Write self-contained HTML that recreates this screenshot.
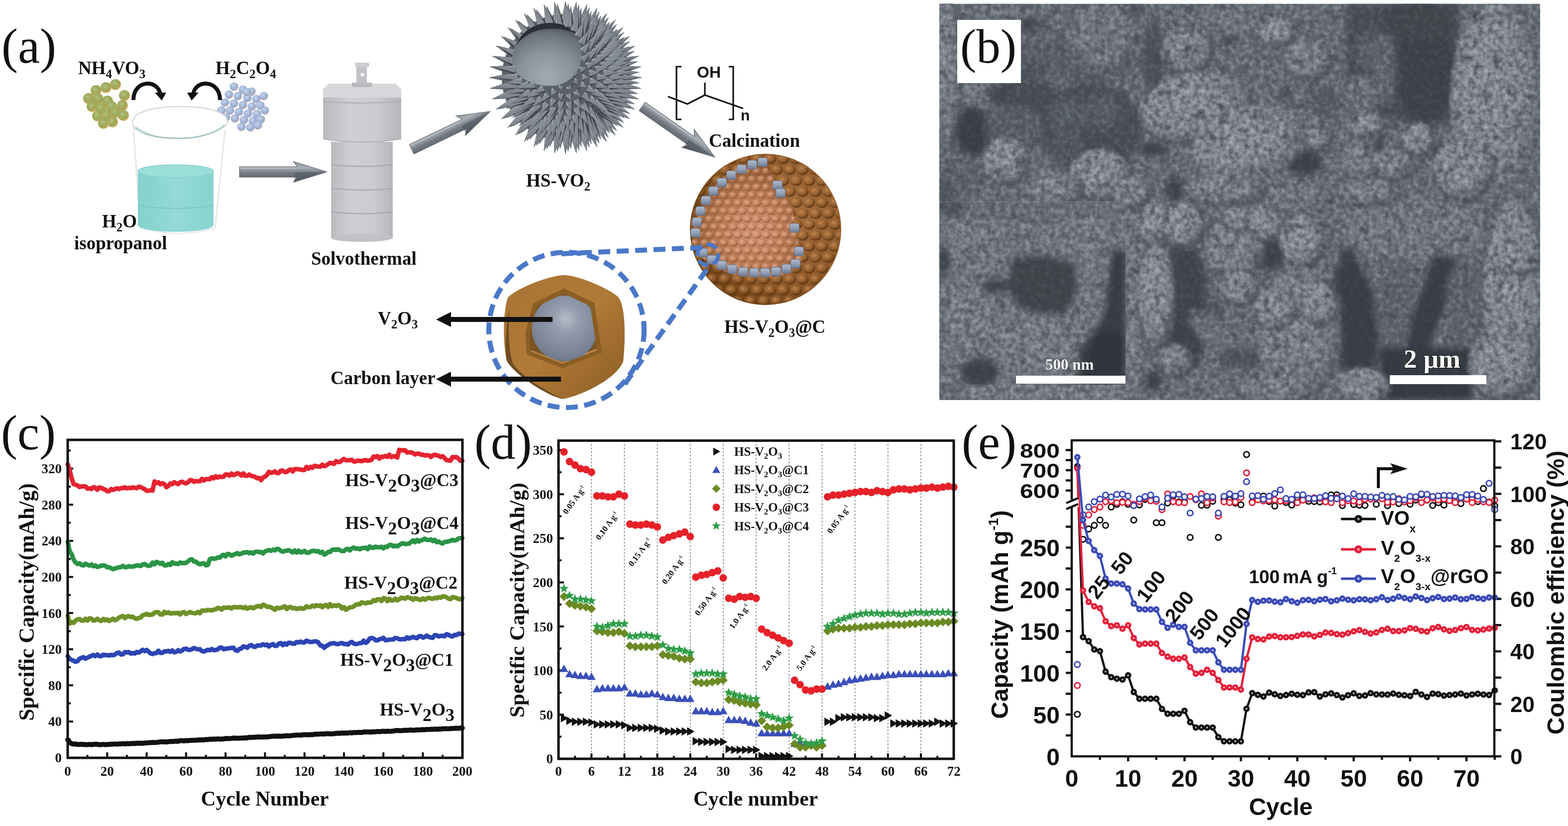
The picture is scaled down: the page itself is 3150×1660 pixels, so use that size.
<!DOCTYPE html>
<html><head><meta charset="utf-8"><title>Figure</title>
<style>html,body{margin:0;padding:0;background:#fff;width:3150px;height:1660px;overflow:hidden}svg{display:block}</style>
</head><body>
<svg width="3150" height="1660" viewBox="0 0 3150 1660">
<rect width="3150" height="1660" fill="#fff"/>
<defs>
<linearGradient id="ga" x1="0" y1="0" x2="0" y2="1">
<stop offset="0" stop-color="#8d949c"/><stop offset="0.3" stop-color="#a9afb6"/><stop offset="0.55" stop-color="#737a82"/><stop offset="1" stop-color="#50575f"/></linearGradient>
<radialGradient id="gball" cx="0.42" cy="0.38" r="0.62">
<stop offset="0" stop-color="#b4c07c"/><stop offset="0.5" stop-color="#9cac60"/><stop offset="0.82" stop-color="#b0a450"/><stop offset="1" stop-color="#d8b868"/></radialGradient>
<radialGradient id="bball" cx="0.4" cy="0.36" r="0.64">
<stop offset="0" stop-color="#c4d4ec"/><stop offset="0.55" stop-color="#a4b8d8"/><stop offset="0.85" stop-color="#98a6c4"/><stop offset="1" stop-color="#d4b4bc"/></radialGradient>
<linearGradient id="liq" x1="0" y1="0" x2="1" y2="0">
<stop offset="0" stop-color="#84d1cd"/><stop offset="0.5" stop-color="#94dad6"/><stop offset="1" stop-color="#88d3cf"/></linearGradient>
<linearGradient id="ac" x1="0" y1="0" x2="1" y2="0">
<stop offset="0" stop-color="#b9bbbf"/><stop offset="0.35" stop-color="#cfd0d3"/><stop offset="0.7" stop-color="#cacbce"/><stop offset="1" stop-color="#b4b6ba"/></linearGradient>
<radialGradient id="urb" cx="0.5" cy="0.5" r="0.5">
<stop offset="0" stop-color="#767c84"/><stop offset="0.8" stop-color="#6a7078"/><stop offset="1" stop-color="#5c626a"/></radialGradient>
<radialGradient id="hol" cx="0.5" cy="0.85" r="0.8">
<stop offset="0" stop-color="#a4aab2"/><stop offset="0.5" stop-color="#8c929a"/><stop offset="0.85" stop-color="#6c727a"/><stop offset="1" stop-color="#50565e"/></radialGradient>
<radialGradient id="brs" cx="0.62" cy="0.4" r="0.65">
<stop offset="0" stop-color="#a87040"/><stop offset="0.7" stop-color="#905a2a"/><stop offset="1" stop-color="#6e4014"/></radialGradient>
<radialGradient id="brin" cx="0.55" cy="0.6" r="0.6">
<stop offset="0" stop-color="#d09474"/><stop offset="0.5" stop-color="#b87a58"/><stop offset="1" stop-color="#86542a"/></radialGradient>
<radialGradient id="bump" cx="0.4" cy="0.35" r="0.65">
<stop offset="0" stop-color="#c88e58" stop-opacity="0.85"/><stop offset="0.55" stop-color="#9a6430" stop-opacity="0.55"/><stop offset="1" stop-color="#4e2c0c" stop-opacity="0.85"/></radialGradient>
<radialGradient id="bump2" cx="0.4" cy="0.35" r="0.65">
<stop offset="0" stop-color="#f0b898" stop-opacity="0.8"/><stop offset="0.6" stop-color="#c88660" stop-opacity="0.4"/><stop offset="1" stop-color="#7a4a22" stop-opacity="0.8"/></radialGradient>
<pattern id="hex" width="26" height="44" patternUnits="userSpaceOnUse">
<ellipse cx="13" cy="11" rx="12.5" ry="10.5" fill="url(#bump)"/>
<ellipse cx="0" cy="33" rx="12.5" ry="10.5" fill="url(#bump)"/><ellipse cx="26" cy="33" rx="12.5" ry="10.5" fill="url(#bump)"/>
</pattern>
<pattern id="hex2" width="19" height="32" patternUnits="userSpaceOnUse">
<ellipse cx="9.5" cy="8" rx="9" ry="7.6" fill="url(#bump2)"/>
<ellipse cx="0" cy="24" rx="9" ry="7.6" fill="url(#bump2)"/><ellipse cx="19" cy="24" rx="9" ry="7.6" fill="url(#bump2)"/>
</pattern>
<radialGradient id="core" cx="0.52" cy="0.36" r="0.7">
<stop offset="0" stop-color="#b4bcc8"/><stop offset="0.3" stop-color="#929cac"/><stop offset="0.75" stop-color="#7a8494"/><stop offset="1" stop-color="#687282"/></radialGradient>
<linearGradient id="shell" x1="0" y1="0" x2="1" y2="1">
<stop offset="0" stop-color="#a87434"/><stop offset="0.5" stop-color="#b07a38"/><stop offset="1" stop-color="#8a5c22"/></linearGradient>
<linearGradient id="cube" x1="0" y1="0" x2="0" y2="1">
<stop offset="0" stop-color="#b0bccc"/><stop offset="0.5" stop-color="#93a0b6"/><stop offset="1" stop-color="#6e7a90"/></linearGradient>
</defs>
<text x="3" y="126" style="font-family:'Liberation Serif','Times New Roman',serif;font-size:99px" fill="#111">(a)</text>
<g style="font-family:'Liberation Serif','Times New Roman',serif;font-weight:bold;font-size:37px" fill="#111">
<text x="157" y="149">NH<tspan dy="8" font-size="25">4</tspan><tspan dy="-8">VO</tspan><tspan dy="8" font-size="25">3</tspan></text>
<text x="433" y="149">H<tspan dy="8" font-size="25">2</tspan><tspan dy="-8">C</tspan><tspan dy="8" font-size="25">2</tspan><tspan dy="-8">O</tspan><tspan dy="8" font-size="25">4</tspan></text>
<text x="205" y="457">H<tspan dy="8" font-size="25">2</tspan><tspan dy="-8">O</tspan></text>
<text x="149" y="501">isopropanol</text>
<text x="625" y="532">Solvothermal</text>
<text x="1057" y="375">HS-VO<tspan dy="8" font-size="25">2</tspan></text>
<text x="1424" y="295">Calcination</text>
<text x="1455" y="669">HS-V<tspan dy="8" font-size="25">2</tspan><tspan dy="-8">O</tspan><tspan dy="8" font-size="25">3</tspan><tspan dy="-8">@C</tspan></text>
<text x="759" y="652">V<tspan dy="8" font-size="25">2</tspan><tspan dy="-8">O</tspan><tspan dy="8" font-size="25">3</tspan></text>
<text x="664" y="772">Carbon layer</text>
</g>
<g fill="url(#gball)"><circle cx="232" cy="170" r="11"/><circle cx="213" cy="176" r="11"/><circle cx="193" cy="182" r="11"/><circle cx="250" cy="192" r="11"/><circle cx="178" cy="198" r="11"/><circle cx="197" cy="199" r="11"/><circle cx="216" cy="203" r="11"/><circle cx="185" cy="214" r="11"/><circle cx="203" cy="218" r="11"/><circle cx="224" cy="214" r="11"/><circle cx="246" cy="212" r="11"/><circle cx="214" cy="232" r="11"/><circle cx="232" cy="226" r="11"/><circle cx="248" cy="232" r="11"/><circle cx="196" cy="233" r="11"/><circle cx="226" cy="245" r="11"/><circle cx="208" cy="248" r="11"/></g>
<g fill="url(#bball)"><circle cx="470" cy="174" r="8.6"/><circle cx="488" cy="180" r="8.6"/><circle cx="505" cy="184" r="8.6"/><circle cx="460" cy="190" r="8.6"/><circle cx="478" cy="193" r="8.6"/><circle cx="497" cy="197" r="8.6"/><circle cx="515" cy="199" r="8.6"/><circle cx="530" cy="193" r="8.6"/><circle cx="452" cy="206" r="8.6"/><circle cx="470" cy="208" r="8.6"/><circle cx="488" cy="211" r="8.6"/><circle cx="506" cy="214" r="8.6"/><circle cx="523" cy="212" r="8.6"/><circle cx="462" cy="222" r="8.6"/><circle cx="480" cy="225" r="8.6"/><circle cx="498" cy="228" r="8.6"/><circle cx="516" cy="229" r="8.6"/><circle cx="532" cy="222" r="8.6"/><circle cx="472" cy="238" r="8.6"/><circle cx="490" cy="241" r="8.6"/><circle cx="508" cy="243" r="8.6"/><circle cx="524" cy="240" r="8.6"/><circle cx="485" cy="255" r="8.6"/><circle cx="503" cy="256" r="8.6"/><circle cx="454" cy="236" r="8.6"/><circle cx="518" cy="252" r="8.6"/><circle cx="496" cy="185" r="8.6"/><circle cx="445" cy="222" r="8.6"/></g>
<path d="M268 201 C268 160 318 158 322 190" fill="none" stroke="#111" stroke-width="8"/>
<polygon points="311,186 334,186 325,202" fill="#111"/>
<path d="M442 201 C442 160 392 158 388 190" fill="none" stroke="#111" stroke-width="8"/>
<polygon points="399,186 376,186 385,202" fill="#111"/>
<path d="M268 258 L282 458 M452 262 L432 458" stroke="#e4e8e8" stroke-width="3" fill="none"/>
<path d="M282 458 Q357 480 432 458" stroke="#e8ecec" stroke-width="3" fill="none"/>
<path d="M277 344 V452 A76 14 0 0 0 429 452 V344 Z" fill="url(#liq)"/>
<ellipse cx="353" cy="344" rx="76" ry="13" fill="#9cdeda" stroke="#86d0cc" stroke-width="1.5"/>
<path d="M278 413 Q353 425 428 413" stroke="#6cbcb8" stroke-width="1.5" fill="none" opacity="0.7"/>
<path d="M266 246 C266 222 320 214 362 214 C410 214 448 222 456 240 C459 246 456 251 450 252 C430 270 395 278 360 278 C300 278 266 266 266 246 Z" fill="#fff" stroke="#d6dcdc" stroke-width="2.5"/>
<path d="M272 256 C300 276 330 278 360 278 C395 278 430 270 452 252" fill="none" stroke="#9cc4c4" stroke-width="2.5"/>
<g transform="translate(481,345.5) rotate(0)"><polygon points="0,-10.5 116,-10.5 108,-21 176,0 108,21 116,10.5 0,10.5" fill="url(#ga)" stroke="#5a6068" stroke-width="1"/><polyline points="2,-7.5 114,-7.5" fill="none" stroke="#c0c6cc" stroke-width="2" opacity="0.8"/><polygon points="110,1 172,0 110,19" fill="#4a5058" opacity="0.45"/></g>
<g>
<rect x="665" y="285" width="124" height="193" fill="url(#ac)"/>
<ellipse cx="727" cy="478" rx="62" ry="8" fill="#c0c2c5"/>
<path d="M665 331 Q727 338 789 331" stroke="#a9abaf" stroke-width="2.5" fill="none"/>
<path d="M665 378.5 Q727 385.5 789 378.5" stroke="#a9abaf" stroke-width="2.5" fill="none"/>
<path d="M665 426 Q727 433 789 426" stroke="#a9abaf" stroke-width="2.5" fill="none"/>
<path d="M649 180 L661 168 H794 L806 180 V279 Q727 292 649 279 Z" fill="url(#ac)"/>
<path d="M649 180 L661 168 H794 L806 180 V196 H649 Z" fill="#d6d7da"/>
<path d="M649 204 Q727 210 806 204" stroke="#b0b2b6" stroke-width="2.5" fill="none"/>
<path d="M649 279 Q727 292 806 279" stroke="#aeb0b4" stroke-width="2" fill="none"/>
<rect x="707" y="166" width="40" height="9" fill="#b8babe"/>
<rect x="716" y="134" width="21" height="33" fill="#c0c2c6"/>
<rect x="713.5" y="126" width="28" height="9" rx="2" fill="#cbcdd0"/>
<circle cx="728" cy="150" r="3.5" fill="#fff"/>
</g>
<g transform="translate(827,300) rotate(-25.7)"><polygon points="0,-10.5 117.3,-10.5 109.3,-22 175.3,0 109.3,22 117.3,10.5 0,10.5" fill="url(#ga)" stroke="#5a6068" stroke-width="1"/><polyline points="2,-7.5 115.3,-7.5" fill="none" stroke="#c0c6cc" stroke-width="2" opacity="0.8"/><polygon points="111.3,1 171.3,0 111.3,20" fill="#4a5058" opacity="0.45"/></g>
<g transform="translate(1290,214) rotate(34.9)"><polygon points="0,-10.5 120.1,-10.5 112.1,-22 178.1,0 112.1,22 120.1,10.5 0,10.5" fill="url(#ga)" stroke="#5a6068" stroke-width="1"/><polyline points="2,-7.5 118.1,-7.5" fill="none" stroke="#c0c6cc" stroke-width="2" opacity="0.8"/><polygon points="114.1,1 174.1,0 114.1,20" fill="#4a5058" opacity="0.45"/></g>
<circle cx="1136" cy="156" r="128" fill="#5a6068"/>
<g stroke="#6a7078" stroke-width="0.6"><polygon points="1244,147 1289,156 1244,165" fill="#848a92"/><polygon points="1244,147 1289,156 1242.7,151.1" fill="#9ea4ac"/><polygon points="1244,165 1289,156 1242.8,161.4" fill="#2a2e34" opacity="0.85"/><polygon points="1244.2,162.5 1287.4,177.8 1241.6,180.3" fill="#848a92"/><polygon points="1244.2,162.5 1287.4,177.8 1242.3,166.3" fill="#9ea4ac"/><polygon points="1241.6,180.3 1287.4,177.8 1240.9,176.5" fill="#2a2e34" opacity="0.85"/><polygon points="1242.2,177.8 1282.8,199.1 1237.1,195.1" fill="#848a92"/><polygon points="1242.2,177.8 1282.8,199.1 1239.7,181.3" fill="#9ea4ac"/><polygon points="1237.1,195.1 1282.8,199.1 1237,191.3" fill="#2a2e34" opacity="0.85"/><polygon points="1238,192.7 1275.2,219.6 1230.5,209.1" fill="#848a92"/><polygon points="1238,192.7 1275.2,219.6 1235.1,195.8" fill="#9ea4ac"/><polygon points="1230.5,209.1 1275.2,219.6 1230.9,205.3" fill="#2a2e34" opacity="0.85"/><polygon points="1231.7,206.8 1264.7,238.7 1222,222" fill="#848a92"/><polygon points="1231.7,206.8 1264.7,238.7 1228.4,209.5" fill="#9ea4ac"/><polygon points="1222,222 1264.7,238.7 1222.9,218.3" fill="#2a2e34" opacity="0.85"/><polygon points="1223.5,219.9 1251.6,256.2 1211.7,233.5" fill="#848a92"/><polygon points="1223.5,219.9 1251.6,256.2 1219.8,222.1" fill="#9ea4ac"/><polygon points="1211.7,233.5 1251.6,256.2 1213.2,230" fill="#2a2e34" opacity="0.85"/><polygon points="1199.9,243.5 1236.2,271.6 1213.5,231.7" fill="#848a92"/><polygon points="1199.9,243.5 1236.2,271.6 1202.1,239.8" fill="#9ea4ac"/><polygon points="1213.5,231.7 1236.2,271.6 1210,233.2" fill="#2a2e34" opacity="0.85"/><polygon points="1186.8,251.7 1218.7,284.7 1202,242" fill="#848a92"/><polygon points="1186.8,251.7 1218.7,284.7 1189.5,248.4" fill="#9ea4ac"/><polygon points="1202,242 1218.7,284.7 1198.3,242.9" fill="#2a2e34" opacity="0.85"/><polygon points="1172.7,258 1199.6,295.2 1189.1,250.5" fill="#848a92"/><polygon points="1172.7,258 1199.6,295.2 1175.8,255.1" fill="#9ea4ac"/><polygon points="1189.1,250.5 1199.6,295.2 1185.3,250.9" fill="#2a2e34" opacity="0.85"/><polygon points="1157.8,262.2 1179.1,302.8 1175.1,257.1" fill="#848a92"/><polygon points="1157.8,262.2 1179.1,302.8 1161.3,259.7" fill="#9ea4ac"/><polygon points="1175.1,257.1 1179.1,302.8 1171.3,257" fill="#2a2e34" opacity="0.85"/><polygon points="1142.5,264.2 1157.8,307.4 1160.3,261.6" fill="#848a92"/><polygon points="1142.5,264.2 1157.8,307.4 1146.3,262.3" fill="#9ea4ac"/><polygon points="1160.3,261.6 1157.8,307.4 1156.5,260.9" fill="#2a2e34" opacity="0.85"/><polygon points="1127,264 1136,309 1145,264" fill="#848a92"/><polygon points="1127,264 1136,309 1131,262.7" fill="#9ea4ac"/><polygon points="1145,264 1136,309 1141.4,262.8" fill="#2a2e34" opacity="0.85"/><polygon points="1111.7,261.6 1114.2,307.4 1129.5,264.2" fill="#848a92"/><polygon points="1111.7,261.6 1114.2,307.4 1115.9,260.9" fill="#9ea4ac"/><polygon points="1129.5,264.2 1114.2,307.4 1126.1,262.5" fill="#2a2e34" opacity="0.85"/><polygon points="1096.9,257.1 1092.9,302.8 1114.2,262.2" fill="#848a92"/><polygon points="1096.9,257.1 1092.9,302.8 1101.2,256.9" fill="#9ea4ac"/><polygon points="1114.2,262.2 1092.9,302.8 1111.1,260" fill="#2a2e34" opacity="0.85"/><polygon points="1082.9,250.5 1072.4,295.2 1099.3,258" fill="#848a92"/><polygon points="1082.9,250.5 1072.4,295.2 1087.2,251" fill="#9ea4ac"/><polygon points="1099.3,258 1072.4,295.2 1096.5,255.4" fill="#2a2e34" opacity="0.85"/><polygon points="1070,242 1053.3,284.7 1085.2,251.7" fill="#848a92"/><polygon points="1070,242 1053.3,284.7 1074.2,243" fill="#9ea4ac"/><polygon points="1085.2,251.7 1053.3,284.7 1082.8,248.8" fill="#2a2e34" opacity="0.85"/><polygon points="1058.5,231.7 1035.8,271.6 1072.1,243.5" fill="#848a92"/><polygon points="1058.5,231.7 1035.8,271.6 1062.4,233.4" fill="#9ea4ac"/><polygon points="1072.1,243.5 1035.8,271.6 1070.1,240.3" fill="#2a2e34" opacity="0.85"/><polygon points="1048.5,219.9 1020.4,256.2 1060.3,233.5" fill="#848a92"/><polygon points="1048.5,219.9 1020.4,256.2 1052.2,222.1" fill="#9ea4ac"/><polygon points="1060.3,233.5 1020.4,256.2 1058.8,230" fill="#2a2e34" opacity="0.85"/><polygon points="1040.3,206.8 1007.3,238.7 1050,222" fill="#848a92"/><polygon points="1040.3,206.8 1007.3,238.7 1043.6,209.5" fill="#9ea4ac"/><polygon points="1050,222 1007.3,238.7 1049.1,218.3" fill="#2a2e34" opacity="0.85"/><polygon points="1034,192.7 996.8,219.6 1041.5,209.1" fill="#848a92"/><polygon points="1034,192.7 996.8,219.6 1036.9,195.8" fill="#9ea4ac"/><polygon points="1041.5,209.1 996.8,219.6 1041.1,205.3" fill="#2a2e34" opacity="0.85"/><polygon points="1029.8,177.8 989.2,199.1 1034.9,195.1" fill="#848a92"/><polygon points="1029.8,177.8 989.2,199.1 1032.3,181.3" fill="#9ea4ac"/><polygon points="1034.9,195.1 989.2,199.1 1035,191.3" fill="#2a2e34" opacity="0.85"/><polygon points="1027.8,162.5 984.6,177.8 1030.4,180.3" fill="#848a92"/><polygon points="1027.8,162.5 984.6,177.8 1029.7,166.3" fill="#9ea4ac"/><polygon points="1030.4,180.3 984.6,177.8 1031.1,176.5" fill="#2a2e34" opacity="0.85"/><polygon points="1028,147 983,156 1028,165" fill="#848a92"/><polygon points="1028,147 983,156 1029.4,151.1" fill="#9ea4ac"/><polygon points="1028,165 983,156 1029.2,161.4" fill="#2a2e34" opacity="0.85"/><polygon points="1030.4,131.7 984.6,134.2 1027.8,149.5" fill="#848a92"/><polygon points="1030.4,131.7 984.6,134.2 1031.1,135.9" fill="#9ea4ac"/><polygon points="1027.8,149.5 984.6,134.2 1029.5,146.1" fill="#2a2e34" opacity="0.85"/><polygon points="1034.9,116.9 989.2,112.9 1029.8,134.2" fill="#848a92"/><polygon points="1034.9,116.9 989.2,112.9 1035.1,121.2" fill="#9ea4ac"/><polygon points="1029.8,134.2 989.2,112.9 1032,131.1" fill="#2a2e34" opacity="0.85"/><polygon points="1041.5,102.9 996.8,92.4 1034,119.3" fill="#848a92"/><polygon points="1041.5,102.9 996.8,92.4 1041,107.2" fill="#9ea4ac"/><polygon points="1034,119.3 996.8,92.4 1036.6,116.5" fill="#2a2e34" opacity="0.85"/><polygon points="1050,90 1007.3,73.3 1040.3,105.2" fill="#848a92"/><polygon points="1050,90 1007.3,73.3 1049,94.2" fill="#9ea4ac"/><polygon points="1040.3,105.2 1007.3,73.3 1043.2,102.8" fill="#2a2e34" opacity="0.85"/><polygon points="1060.3,78.5 1020.4,55.8 1048.5,92.1" fill="#848a92"/><polygon points="1060.3,78.5 1020.4,55.8 1058.6,82.4" fill="#9ea4ac"/><polygon points="1048.5,92.1 1020.4,55.8 1051.7,90.1" fill="#2a2e34" opacity="0.85"/><polygon points="1058.5,80.3 1035.8,40.4 1072.1,68.5" fill="#848a92"/><polygon points="1058.5,80.3 1035.8,40.4 1062.4,78.6" fill="#9ea4ac"/><polygon points="1072.1,68.5 1035.8,40.4 1070.1,71.7" fill="#2a2e34" opacity="0.85"/><polygon points="1070,70 1053.3,27.3 1085.2,60.3" fill="#848a92"/><polygon points="1070,70 1053.3,27.3 1074.2,69" fill="#9ea4ac"/><polygon points="1085.2,60.3 1053.3,27.3 1082.8,63.2" fill="#2a2e34" opacity="0.85"/><polygon points="1082.9,61.5 1072.4,16.8 1099.3,54" fill="#848a92"/><polygon points="1082.9,61.5 1072.4,16.8 1087.2,61" fill="#9ea4ac"/><polygon points="1099.3,54 1072.4,16.8 1096.5,56.6" fill="#2a2e34" opacity="0.85"/><polygon points="1096.9,54.9 1092.9,9.2 1114.2,49.8" fill="#848a92"/><polygon points="1096.9,54.9 1092.9,9.2 1101.2,55.1" fill="#9ea4ac"/><polygon points="1114.2,49.8 1092.9,9.2 1111.1,52" fill="#2a2e34" opacity="0.85"/><polygon points="1111.7,50.4 1114.2,4.6 1129.5,47.8" fill="#848a92"/><polygon points="1111.7,50.4 1114.2,4.6 1115.9,51.1" fill="#9ea4ac"/><polygon points="1129.5,47.8 1114.2,4.6 1126.1,49.5" fill="#2a2e34" opacity="0.85"/><polygon points="1127,48 1136,3 1145,48" fill="#848a92"/><polygon points="1127,48 1136,3 1131,49.4" fill="#9ea4ac"/><polygon points="1145,48 1136,3 1141.4,49.2" fill="#2a2e34" opacity="0.85"/><polygon points="1142.5,47.8 1157.8,4.6 1160.3,50.4" fill="#848a92"/><polygon points="1142.5,47.8 1157.8,4.6 1146.3,49.7" fill="#9ea4ac"/><polygon points="1160.3,50.4 1157.8,4.6 1156.5,51.1" fill="#2a2e34" opacity="0.85"/><polygon points="1157.8,49.8 1179.1,9.2 1175.1,54.9" fill="#848a92"/><polygon points="1157.8,49.8 1179.1,9.2 1161.3,52.3" fill="#9ea4ac"/><polygon points="1175.1,54.9 1179.1,9.2 1171.3,55" fill="#2a2e34" opacity="0.85"/><polygon points="1172.7,54 1199.6,16.8 1189.1,61.5" fill="#848a92"/><polygon points="1172.7,54 1199.6,16.8 1175.8,56.9" fill="#9ea4ac"/><polygon points="1189.1,61.5 1199.6,16.8 1185.3,61.1" fill="#2a2e34" opacity="0.85"/><polygon points="1186.8,60.3 1218.7,27.3 1202,70" fill="#848a92"/><polygon points="1186.8,60.3 1218.7,27.3 1189.5,63.6" fill="#9ea4ac"/><polygon points="1202,70 1218.7,27.3 1198.3,69.1" fill="#2a2e34" opacity="0.85"/><polygon points="1199.9,68.5 1236.2,40.4 1213.5,80.3" fill="#848a92"/><polygon points="1199.9,68.5 1236.2,40.4 1202.1,72.2" fill="#9ea4ac"/><polygon points="1213.5,80.3 1236.2,40.4 1210,78.8" fill="#2a2e34" opacity="0.85"/><polygon points="1211.7,78.5 1251.6,55.8 1223.5,92.1" fill="#848a92"/><polygon points="1211.7,78.5 1251.6,55.8 1213.4,82.4" fill="#9ea4ac"/><polygon points="1223.5,92.1 1251.6,55.8 1220.3,90.1" fill="#2a2e34" opacity="0.85"/><polygon points="1222,90 1264.7,73.3 1231.7,105.2" fill="#848a92"/><polygon points="1222,90 1264.7,73.3 1223,94.2" fill="#9ea4ac"/><polygon points="1231.7,105.2 1264.7,73.3 1228.8,102.8" fill="#2a2e34" opacity="0.85"/><polygon points="1230.5,102.9 1275.2,92.4 1238,119.3" fill="#848a92"/><polygon points="1230.5,102.9 1275.2,92.4 1231,107.2" fill="#9ea4ac"/><polygon points="1238,119.3 1275.2,92.4 1235.4,116.5" fill="#2a2e34" opacity="0.85"/><polygon points="1237.1,116.9 1282.8,112.9 1242.2,134.2" fill="#848a92"/><polygon points="1237.1,116.9 1282.8,112.9 1236.9,121.2" fill="#9ea4ac"/><polygon points="1242.2,134.2 1282.8,112.9 1240,131.1" fill="#2a2e34" opacity="0.85"/><polygon points="1241.6,131.7 1287.4,134.2 1244.2,149.5" fill="#848a92"/><polygon points="1241.6,131.7 1287.4,134.2 1240.9,135.9" fill="#9ea4ac"/><polygon points="1244.2,149.5 1287.4,134.2 1242.5,146.1" fill="#2a2e34" opacity="0.85"/><polygon points="1243,154.8 1283.8,166.8 1241.7,172.8" fill="#848a92"/><polygon points="1243,154.8 1283.8,166.8 1241.4,158.8" fill="#9ea4ac"/><polygon points="1241.7,172.8 1283.8,166.8 1240.8,169.1" fill="#2a2e34" opacity="0.85"/><polygon points="1242.1,170.4 1280.6,188.2 1238.2,188" fill="#848a92"/><polygon points="1242.1,170.4 1280.6,188.2 1239.9,174.1" fill="#9ea4ac"/><polygon points="1238.2,188 1280.6,188.2 1237.8,184.2" fill="#2a2e34" opacity="0.85"/><polygon points="1238.8,185.7 1274.4,208.9 1232.4,202.5" fill="#848a92"/><polygon points="1238.8,185.7 1274.4,208.9 1236.1,189" fill="#9ea4ac"/><polygon points="1232.4,202.5 1274.4,208.9 1232.6,198.7" fill="#2a2e34" opacity="0.85"/><polygon points="1233.4,200.4 1265.2,228.5 1224.6,216.1" fill="#848a92"/><polygon points="1233.4,200.4 1265.2,228.5 1230.3,203.2" fill="#9ea4ac"/><polygon points="1224.6,216.1 1265.2,228.5 1225.3,212.3" fill="#2a2e34" opacity="0.85"/><polygon points="1225.9,214.1 1253.3,246.5 1214.9,228.3" fill="#848a92"/><polygon points="1225.9,214.1 1253.3,246.5 1222.4,216.5" fill="#9ea4ac"/><polygon points="1214.9,228.3 1253.3,246.5 1216.2,224.7" fill="#2a2e34" opacity="0.85"/><polygon points="1203.6,239 1238.8,262.7 1216.5,226.5" fill="#848a92"/><polygon points="1203.6,239 1238.8,262.7 1205.5,235.3" fill="#9ea4ac"/><polygon points="1216.5,226.5 1238.8,262.7 1213.1,228.2" fill="#2a2e34" opacity="0.85"/><polygon points="1190.7,248 1222.2,276.5 1205.4,237.5" fill="#848a92"/><polygon points="1190.7,248 1222.2,276.5 1193.3,244.5" fill="#9ea4ac"/><polygon points="1205.4,237.5 1222.2,276.5 1201.8,238.6" fill="#2a2e34" opacity="0.85"/><polygon points="1176.8,255 1203.7,287.8 1192.8,246.8" fill="#848a92"/><polygon points="1176.8,255 1203.7,287.8 1179.8,251.9" fill="#9ea4ac"/><polygon points="1192.8,246.8 1203.7,287.8 1189,247.3" fill="#2a2e34" opacity="0.85"/><polygon points="1161.9,259.9 1183.8,296.2 1179,254.1" fill="#848a92"/><polygon points="1161.9,259.9 1183.8,296.2 1165.3,257.3" fill="#9ea4ac"/><polygon points="1179,254.1 1183.8,296.2 1175.2,254.1" fill="#2a2e34" opacity="0.85"/><polygon points="1146.5,262.5 1162.9,301.7 1164.2,259.3" fill="#848a92"/><polygon points="1146.5,262.5 1162.9,301.7 1150.3,260.5" fill="#9ea4ac"/><polygon points="1164.2,259.3 1162.9,301.7 1160.5,258.7" fill="#2a2e34" opacity="0.85"/><polygon points="1130.9,262.9 1141.4,304.1 1148.9,262.3" fill="#848a92"/><polygon points="1130.9,262.9 1141.4,304.1 1134.9,261.4" fill="#9ea4ac"/><polygon points="1148.9,262.3 1141.4,304.1 1145.2,261.2" fill="#2a2e34" opacity="0.85"/><polygon points="1115.4,261 1119.8,303.3 1133.3,263" fill="#848a92"/><polygon points="1115.4,261 1119.8,303.3 1119.6,260.1" fill="#9ea4ac"/><polygon points="1133.3,263 1119.8,303.3 1129.8,261.4" fill="#2a2e34" opacity="0.85"/><polygon points="1100.3,256.9 1098.5,299.3 1117.7,261.5" fill="#848a92"/><polygon points="1100.3,256.9 1098.5,299.3 1104.6,256.6" fill="#9ea4ac"/><polygon points="1117.7,261.5 1098.5,299.3 1114.5,259.4" fill="#2a2e34" opacity="0.85"/><polygon points="1086,250.7 1078.1,292.4 1102.6,257.7" fill="#848a92"/><polygon points="1086,250.7 1078.1,292.4 1090.3,251" fill="#9ea4ac"/><polygon points="1102.6,257.7 1078.1,292.4 1099.7,255.2" fill="#2a2e34" opacity="0.85"/><polygon points="1072.7,242.4 1058.8,282.5 1088.1,251.7" fill="#848a92"/><polygon points="1072.7,242.4 1058.8,282.5 1076.9,243.3" fill="#9ea4ac"/><polygon points="1088.1,251.7 1058.8,282.5 1085.7,248.8" fill="#2a2e34" opacity="0.85"/><polygon points="1060.8,232.2 1041.2,269.9 1074.7,243.7" fill="#848a92"/><polygon points="1060.8,232.2 1041.2,269.9 1064.8,233.8" fill="#9ea4ac"/><polygon points="1074.7,243.7 1041.2,269.9 1072.7,240.5" fill="#2a2e34" opacity="0.85"/><polygon points="1050.5,220.5 1025.7,254.9 1062.6,233.9" fill="#848a92"/><polygon points="1050.5,220.5 1025.7,254.9 1054.3,222.6" fill="#9ea4ac"/><polygon points="1062.6,233.9 1025.7,254.9 1061.1,230.4" fill="#2a2e34" opacity="0.85"/><polygon points="1042.1,207.4 1012.4,237.7 1052,222.4" fill="#848a92"/><polygon points="1042.1,207.4 1012.4,237.7 1045.4,210" fill="#9ea4ac"/><polygon points="1052,222.4 1012.4,237.7 1051,218.7" fill="#2a2e34" opacity="0.85"/><polygon points="1035.6,193.1 1001.9,218.9 1043.2,209.4" fill="#848a92"/><polygon points="1035.6,193.1 1001.9,218.9 1038.5,196.2" fill="#9ea4ac"/><polygon points="1043.2,209.4 1001.9,218.9 1042.8,205.7" fill="#2a2e34" opacity="0.85"/><polygon points="1031.3,178.1 994.1,198.7 1036.4,195.4" fill="#848a92"/><polygon points="1031.3,178.1 994.1,198.7 1033.7,181.6" fill="#9ea4ac"/><polygon points="1036.4,195.4 994.1,198.7 1036.6,191.6" fill="#2a2e34" opacity="0.85"/><polygon points="1029.2,162.6 989.4,177.6 1031.8,180.4" fill="#848a92"/><polygon points="1029.2,162.6 989.4,177.6 1031.1,166.4" fill="#9ea4ac"/><polygon points="1031.8,180.4 989.4,177.6 1032.4,176.7" fill="#2a2e34" opacity="0.85"/><polygon points="1029.3,147 987.8,156 1029.3,165" fill="#848a92"/><polygon points="1029.3,147 987.8,156 1030.7,151.1" fill="#9ea4ac"/><polygon points="1029.3,165 987.8,156 1030.5,161.4" fill="#2a2e34" opacity="0.85"/><polygon points="1031.8,131.6 989.4,134.4 1029.2,149.4" fill="#848a92"/><polygon points="1031.8,131.6 989.4,134.4 1032.5,135.8" fill="#9ea4ac"/><polygon points="1029.2,149.4 989.4,134.4 1030.9,146" fill="#2a2e34" opacity="0.85"/><polygon points="1036.4,116.6 994.1,113.3 1031.3,133.9" fill="#848a92"/><polygon points="1036.4,116.6 994.1,113.3 1036.6,120.9" fill="#9ea4ac"/><polygon points="1031.3,133.9 994.1,113.3 1033.4,130.8" fill="#2a2e34" opacity="0.85"/><polygon points="1043.2,102.6 1001.9,93.1 1035.6,118.9" fill="#848a92"/><polygon points="1043.2,102.6 1001.9,93.1 1042.7,106.8" fill="#9ea4ac"/><polygon points="1035.6,118.9 1001.9,93.1 1038.2,116.1" fill="#2a2e34" opacity="0.85"/><polygon points="1052,89.6 1012.4,74.3 1042.1,104.6" fill="#848a92"/><polygon points="1052,89.6 1012.4,74.3 1050.9,93.8" fill="#9ea4ac"/><polygon points="1042.1,104.6 1012.4,74.3 1045.1,102.3" fill="#2a2e34" opacity="0.85"/><polygon points="1062.6,78.1 1025.7,57.1 1050.5,91.5" fill="#848a92"/><polygon points="1062.6,78.1 1025.7,57.1 1060.9,82" fill="#9ea4ac"/><polygon points="1050.5,91.5 1025.7,57.1 1053.8,89.6" fill="#2a2e34" opacity="0.85"/><polygon points="1060.8,79.8 1041.2,42.1 1074.7,68.3" fill="#848a92"/><polygon points="1060.8,79.8 1041.2,42.1 1064.8,78.2" fill="#9ea4ac"/><polygon points="1074.7,68.3 1041.2,42.1 1072.7,71.5" fill="#2a2e34" opacity="0.85"/><polygon points="1072.7,69.6 1058.8,29.5 1088.1,60.3" fill="#848a92"/><polygon points="1072.7,69.6 1058.8,29.5 1076.9,68.7" fill="#9ea4ac"/><polygon points="1088.1,60.3 1058.8,29.5 1085.7,63.2" fill="#2a2e34" opacity="0.85"/><polygon points="1086,61.3 1078.1,19.6 1102.6,54.3" fill="#848a92"/><polygon points="1086,61.3 1078.1,19.6 1090.3,61" fill="#9ea4ac"/><polygon points="1102.6,54.3 1078.1,19.6 1099.7,56.8" fill="#2a2e34" opacity="0.85"/><polygon points="1100.3,55.1 1098.5,12.7 1117.7,50.5" fill="#848a92"/><polygon points="1100.3,55.1 1098.5,12.7 1104.6,55.4" fill="#9ea4ac"/><polygon points="1117.7,50.5 1098.5,12.7 1114.5,52.6" fill="#2a2e34" opacity="0.85"/><polygon points="1115.4,51 1119.8,8.7 1133.3,49" fill="#848a92"/><polygon points="1115.4,51 1119.8,8.7 1119.6,51.9" fill="#9ea4ac"/><polygon points="1133.3,49 1119.8,8.7 1129.8,50.6" fill="#2a2e34" opacity="0.85"/><polygon points="1130.9,49.1 1141.4,7.9 1148.9,49.7" fill="#848a92"/><polygon points="1130.9,49.1 1141.4,7.9 1134.9,50.6" fill="#9ea4ac"/><polygon points="1148.9,49.7 1141.4,7.9 1145.2,50.8" fill="#2a2e34" opacity="0.85"/><polygon points="1146.5,49.5 1162.9,10.3 1164.2,52.7" fill="#848a92"/><polygon points="1146.5,49.5 1162.9,10.3 1150.3,51.5" fill="#9ea4ac"/><polygon points="1164.2,52.7 1162.9,10.3 1160.5,53.3" fill="#2a2e34" opacity="0.85"/><polygon points="1161.9,52.1 1183.8,15.8 1179,57.9" fill="#848a92"/><polygon points="1161.9,52.1 1183.8,15.8 1165.3,54.7" fill="#9ea4ac"/><polygon points="1179,57.9 1183.8,15.8 1175.2,57.9" fill="#2a2e34" opacity="0.85"/><polygon points="1176.8,57 1203.7,24.2 1192.8,65.2" fill="#848a92"/><polygon points="1176.8,57 1203.7,24.2 1179.8,60.1" fill="#9ea4ac"/><polygon points="1192.8,65.2 1203.7,24.2 1189,64.7" fill="#2a2e34" opacity="0.85"/><polygon points="1190.7,64 1222.2,35.5 1205.4,74.5" fill="#848a92"/><polygon points="1190.7,64 1222.2,35.5 1193.3,67.5" fill="#9ea4ac"/><polygon points="1205.4,74.5 1222.2,35.5 1201.8,73.4" fill="#2a2e34" opacity="0.85"/><polygon points="1203.6,73 1238.8,49.3 1216.5,85.5" fill="#848a92"/><polygon points="1203.6,73 1238.8,49.3 1205.5,76.7" fill="#9ea4ac"/><polygon points="1216.5,85.5 1238.8,49.3 1213.1,83.8" fill="#2a2e34" opacity="0.85"/><polygon points="1214.9,83.7 1253.3,65.5 1225.9,97.9" fill="#848a92"/><polygon points="1214.9,83.7 1253.3,65.5 1216.3,87.7" fill="#9ea4ac"/><polygon points="1225.9,97.9 1253.3,65.5 1222.8,95.8" fill="#2a2e34" opacity="0.85"/><polygon points="1224.6,95.9 1265.2,83.5 1233.4,111.6" fill="#848a92"/><polygon points="1224.6,95.9 1265.2,83.5 1225.4,100.1" fill="#9ea4ac"/><polygon points="1233.4,111.6 1265.2,83.5 1230.6,109.1" fill="#2a2e34" opacity="0.85"/><polygon points="1232.4,109.5 1274.4,103.1 1238.8,126.3" fill="#848a92"/><polygon points="1232.4,109.5 1274.4,103.1 1232.6,113.8" fill="#9ea4ac"/><polygon points="1238.8,126.3 1274.4,103.1 1236.4,123.4" fill="#2a2e34" opacity="0.85"/><polygon points="1238.2,124 1280.6,123.8 1242.1,141.6" fill="#848a92"/><polygon points="1238.2,124 1280.6,123.8 1237.7,128.3" fill="#9ea4ac"/><polygon points="1242.1,141.6 1280.6,123.8 1240.1,138.3" fill="#2a2e34" opacity="0.85"/><polygon points="1241.7,139.2 1283.8,145.2 1243,157.2" fill="#848a92"/><polygon points="1241.7,139.2 1283.8,145.2 1240.7,143.4" fill="#9ea4ac"/><polygon points="1243,157.2 1283.8,145.2 1241.6,153.7" fill="#2a2e34" opacity="0.85"/></g>
<path d="M1029 128 C1026 84 1058 46 1104 46 C1142 46 1163 68 1168 96 C1172 128 1158 160 1122 171 C1086 178 1036 162 1029 128 Z" fill="url(#hol)"/>
<path d="M1036 92 C1050 60 1076 47 1104 46 C1128 46 1146 54 1158 68 C1140 60 1120 56 1100 58 C1072 60 1052 72 1036 92 Z" fill="#2c3036"/>
<g stroke="#6a7078" stroke-width="0.6"><polygon points="1238.7,147 1278.7,156 1238.7,165" fill="#848a92"/><polygon points="1238.7,147 1278.7,156 1237.4,151.1" fill="#9ea4ac"/><polygon points="1238.7,165 1278.7,156 1237.5,161.4" fill="#2a2e34" opacity="0.85"/><polygon points="1238.9,162.4 1277.1,177.3 1236.2,180.2" fill="#848a92"/><polygon points="1238.9,162.4 1277.1,177.3 1237,166.2" fill="#9ea4ac"/><polygon points="1236.2,180.2 1277.1,177.3 1235.6,176.5" fill="#2a2e34" opacity="0.85"/><polygon points="1236.8,177.7 1272.3,198 1231.5,194.9" fill="#848a92"/><polygon points="1236.8,177.7 1272.3,198 1234.3,181.1" fill="#9ea4ac"/><polygon points="1231.5,194.9 1272.3,198 1231.4,191.1" fill="#2a2e34" opacity="0.85"/><polygon points="1232.4,192.5 1264.5,217.9 1224.6,208.7" fill="#848a92"/><polygon points="1232.4,192.5 1264.5,217.9 1229.5,195.5" fill="#9ea4ac"/><polygon points="1224.6,208.7 1264.5,217.9 1225.1,204.9" fill="#2a2e34" opacity="0.85"/><polygon points="1225.9,206.4 1253.9,236.4 1215.8,221.3" fill="#848a92"/><polygon points="1225.9,206.4 1253.9,236.4 1222.5,209" fill="#9ea4ac"/><polygon points="1215.8,221.3 1253.9,236.4 1216.8,217.6" fill="#2a2e34" opacity="0.85"/><polygon points="1217.4,219.3 1240.6,253 1205.2,232.5" fill="#848a92"/><polygon points="1217.4,219.3 1240.6,253 1213.7,221.3" fill="#9ea4ac"/><polygon points="1205.2,232.5 1240.6,253 1206.7,229" fill="#2a2e34" opacity="0.85"/><polygon points="1193,241.9 1224.9,267.5 1207.1,230.7" fill="#848a92"/><polygon points="1193,241.9 1224.9,267.5 1195.3,238.3" fill="#9ea4ac"/><polygon points="1207.1,230.7 1224.9,267.5 1203.5,232" fill="#2a2e34" opacity="0.85"/><polygon points="1179.6,249.5 1207.3,279.5 1195.2,240.5" fill="#848a92"/><polygon points="1179.6,249.5 1207.3,279.5 1182.4,246.3" fill="#9ea4ac"/><polygon points="1195.2,240.5 1207.3,279.5 1191.4,241.2" fill="#2a2e34" opacity="0.85"/><polygon points="1165.1,254.9 1188.1,288.8 1181.9,248.3" fill="#848a92"/><polygon points="1165.1,254.9 1188.1,288.8 1168.4,252.2" fill="#9ea4ac"/><polygon points="1181.9,248.3 1188.1,288.8 1178.1,248.5" fill="#2a2e34" opacity="0.85"/><polygon points="1150.1,258.1 1167.7,295.1 1167.6,254.1" fill="#848a92"/><polygon points="1150.1,258.1 1167.7,295.1 1153.7,255.9" fill="#9ea4ac"/><polygon points="1167.6,254.1 1167.7,295.1 1163.9,253.8" fill="#2a2e34" opacity="0.85"/><polygon points="1134.7,259.1 1146.7,298.3 1152.7,257.8" fill="#848a92"/><polygon points="1134.7,259.1 1146.7,298.3 1138.6,257.5" fill="#9ea4ac"/><polygon points="1152.7,257.8 1146.7,298.3 1149,256.8" fill="#2a2e34" opacity="0.85"/><polygon points="1119.3,257.8 1125.3,298.3 1137.3,259.1" fill="#848a92"/><polygon points="1119.3,257.8 1125.3,298.3 1123.5,256.7" fill="#9ea4ac"/><polygon points="1137.3,259.1 1125.3,298.3 1133.8,257.6" fill="#2a2e34" opacity="0.85"/><polygon points="1104.4,254.1 1104.3,295.1 1121.9,258.1" fill="#848a92"/><polygon points="1104.4,254.1 1104.3,295.1 1108.6,253.7" fill="#9ea4ac"/><polygon points="1121.9,258.1 1104.3,295.1 1118.7,256.2" fill="#2a2e34" opacity="0.85"/><polygon points="1090.1,248.3 1083.9,288.8 1106.9,254.9" fill="#848a92"/><polygon points="1090.1,248.3 1083.9,288.8 1094.4,248.5" fill="#9ea4ac"/><polygon points="1106.9,254.9 1083.9,288.8 1103.9,252.5" fill="#2a2e34" opacity="0.85"/><polygon points="1076.8,240.5 1064.7,279.5 1092.4,249.5" fill="#848a92"/><polygon points="1076.8,240.5 1064.7,279.5 1081,241.3" fill="#9ea4ac"/><polygon points="1092.4,249.5 1064.7,279.5 1089.9,246.6" fill="#2a2e34" opacity="0.85"/><polygon points="1064.9,230.7 1047.1,267.5 1079,241.9" fill="#848a92"/><polygon points="1064.9,230.7 1047.1,267.5 1068.9,232.2" fill="#9ea4ac"/><polygon points="1079,241.9 1047.1,267.5 1076.9,238.7" fill="#2a2e34" opacity="0.85"/><polygon points="1054.6,219.3 1031.4,253 1066.8,232.5" fill="#848a92"/><polygon points="1054.6,219.3 1031.4,253 1058.3,221.3" fill="#9ea4ac"/><polygon points="1066.8,232.5 1031.4,253 1065.3,229" fill="#2a2e34" opacity="0.85"/><polygon points="1046.1,206.4 1018.1,236.4 1056.2,221.3" fill="#848a92"/><polygon points="1046.1,206.4 1018.1,236.4 1049.5,209" fill="#9ea4ac"/><polygon points="1056.2,221.3 1018.1,236.4 1055.2,217.6" fill="#2a2e34" opacity="0.85"/><polygon points="1039.6,192.5 1007.5,217.9 1047.4,208.7" fill="#848a92"/><polygon points="1039.6,192.5 1007.5,217.9 1042.5,195.5" fill="#9ea4ac"/><polygon points="1047.4,208.7 1007.5,217.9 1046.9,204.9" fill="#2a2e34" opacity="0.85"/><polygon points="1035.2,177.7 999.7,198 1040.5,194.9" fill="#848a92"/><polygon points="1035.2,177.7 999.7,198 1037.7,181.1" fill="#9ea4ac"/><polygon points="1040.5,194.9 999.7,198 1040.6,191.1" fill="#2a2e34" opacity="0.85"/><polygon points="1033.1,162.4 994.9,177.3 1035.8,180.2" fill="#848a92"/><polygon points="1033.1,162.4 994.9,177.3 1035,166.2" fill="#9ea4ac"/><polygon points="1035.8,180.2 994.9,177.3 1036.4,176.5" fill="#2a2e34" opacity="0.85"/><polygon points="1033.3,147 993.3,156 1033.3,165" fill="#848a92"/><polygon points="1033.3,147 993.3,156 1034.6,151.1" fill="#9ea4ac"/><polygon points="1033.3,165 993.3,156 1034.5,161.4" fill="#2a2e34" opacity="0.85"/><polygon points="1035.8,131.8 994.9,134.7 1033.1,149.6" fill="#848a92"/><polygon points="1035.8,131.8 994.9,134.7 1036.5,136" fill="#9ea4ac"/><polygon points="1033.1,149.6 994.9,134.7 1034.8,146.2" fill="#2a2e34" opacity="0.85"/><polygon points="1134.7,52.9 1146.7,13.7 1152.7,54.2" fill="#848a92"/><polygon points="1134.7,52.9 1146.7,13.7 1138.6,54.5" fill="#9ea4ac"/><polygon points="1152.7,54.2 1146.7,13.7 1149,55.2" fill="#2a2e34" opacity="0.85"/><polygon points="1150.1,53.9 1167.7,16.9 1167.6,57.9" fill="#848a92"/><polygon points="1150.1,53.9 1167.7,16.9 1153.7,56.1" fill="#9ea4ac"/><polygon points="1167.6,57.9 1167.7,16.9 1163.9,58.2" fill="#2a2e34" opacity="0.85"/><polygon points="1165.1,57.1 1188.1,23.2 1181.9,63.7" fill="#848a92"/><polygon points="1165.1,57.1 1188.1,23.2 1168.4,59.8" fill="#9ea4ac"/><polygon points="1181.9,63.7 1188.1,23.2 1178.1,63.5" fill="#2a2e34" opacity="0.85"/><polygon points="1179.6,62.5 1207.3,32.5 1195.2,71.5" fill="#848a92"/><polygon points="1179.6,62.5 1207.3,32.5 1182.4,65.7" fill="#9ea4ac"/><polygon points="1195.2,71.5 1207.3,32.5 1191.4,70.8" fill="#2a2e34" opacity="0.85"/><polygon points="1193,70.1 1224.9,44.5 1207.1,81.3" fill="#848a92"/><polygon points="1193,70.1 1224.9,44.5 1195.3,73.7" fill="#9ea4ac"/><polygon points="1207.1,81.3 1224.9,44.5 1203.5,80" fill="#2a2e34" opacity="0.85"/><polygon points="1205.2,79.5 1240.6,59 1217.4,92.7" fill="#848a92"/><polygon points="1205.2,79.5 1240.6,59 1206.9,83.4" fill="#9ea4ac"/><polygon points="1217.4,92.7 1240.6,59 1214.1,90.9" fill="#2a2e34" opacity="0.85"/><polygon points="1215.8,90.7 1253.9,75.6 1225.9,105.6" fill="#848a92"/><polygon points="1215.8,90.7 1253.9,75.6 1217,94.8" fill="#9ea4ac"/><polygon points="1225.9,105.6 1253.9,75.6 1222.9,103.3" fill="#2a2e34" opacity="0.85"/><polygon points="1224.6,103.3 1264.5,94.1 1232.4,119.5" fill="#848a92"/><polygon points="1224.6,103.3 1264.5,94.1 1225.2,107.6" fill="#9ea4ac"/><polygon points="1232.4,119.5 1264.5,94.1 1229.8,116.8" fill="#2a2e34" opacity="0.85"/><polygon points="1231.5,117.1 1272.3,114 1236.8,134.3" fill="#848a92"/><polygon points="1231.5,117.1 1272.3,114 1231.4,121.4" fill="#9ea4ac"/><polygon points="1236.8,134.3 1272.3,114 1234.6,131.2" fill="#2a2e34" opacity="0.85"/><polygon points="1236.2,131.8 1277.1,134.7 1238.9,149.6" fill="#848a92"/><polygon points="1236.2,131.8 1277.1,134.7 1235.5,136" fill="#9ea4ac"/><polygon points="1238.9,149.6 1277.1,134.7 1237.2,146.2" fill="#2a2e34" opacity="0.85"/><polygon points="1232.6,154.8 1269.2,166.8 1231.2,172.7" fill="#848a92"/><polygon points="1232.6,154.8 1269.2,166.8 1231,158.7" fill="#9ea4ac"/><polygon points="1231.2,172.7 1269.2,166.8 1230.3,169" fill="#2a2e34" opacity="0.85"/><polygon points="1231.6,170.3 1265.8,188 1227.3,187.8" fill="#848a92"/><polygon points="1231.6,170.3 1265.8,188 1229.3,173.9" fill="#9ea4ac"/><polygon points="1227.3,187.8 1265.8,188 1227,184" fill="#2a2e34" opacity="0.85"/><polygon points="1228.1,185.4 1259,208.4 1221,202" fill="#848a92"/><polygon points="1228.1,185.4 1259,208.4 1225.2,188.6" fill="#9ea4ac"/><polygon points="1221,202 1259,208.4 1221.3,198.2" fill="#2a2e34" opacity="0.85"/><polygon points="1222.1,199.8 1249,227.4 1212.5,215" fill="#848a92"/><polygon points="1222.1,199.8 1249,227.4 1218.8,202.5" fill="#9ea4ac"/><polygon points="1212.5,215 1249,227.4 1213.4,211.4" fill="#2a2e34" opacity="0.85"/><polygon points="1214,213.1 1236,244.6 1202.1,226.5" fill="#848a92"/><polygon points="1214,213.1 1236,244.6 1210.3,215.2" fill="#9ea4ac"/><polygon points="1202.1,226.5 1236,244.6 1203.5,223.1" fill="#2a2e34" opacity="0.85"/><polygon points="1189.9,236.2 1220.5,259.5 1203.8,224.8" fill="#848a92"/><polygon points="1189.9,236.2 1220.5,259.5 1192.2,232.6" fill="#9ea4ac"/><polygon points="1203.8,224.8 1220.5,259.5 1200.3,226.2" fill="#2a2e34" opacity="0.85"/><polygon points="1176.3,243.8 1202.8,271.7 1191.9,234.8" fill="#848a92"/><polygon points="1176.3,243.8 1202.8,271.7 1179.2,240.6" fill="#9ea4ac"/><polygon points="1191.9,234.8 1202.8,271.7 1188.2,235.6" fill="#2a2e34" opacity="0.85"/><polygon points="1161.7,249.2 1183.4,281 1178.5,242.8" fill="#848a92"/><polygon points="1161.7,249.2 1183.4,281 1165,246.5" fill="#9ea4ac"/><polygon points="1178.5,242.8 1183.4,281 1174.7,242.9" fill="#2a2e34" opacity="0.85"/><polygon points="1146.4,252.1 1162.7,286.9 1164.1,248.5" fill="#848a92"/><polygon points="1146.4,252.1 1162.7,286.9 1150.1,250" fill="#9ea4ac"/><polygon points="1164.1,248.5 1162.7,286.9 1160.3,248" fill="#2a2e34" opacity="0.85"/><polygon points="1130.9,252.5 1141.4,289.5 1148.9,251.8" fill="#848a92"/><polygon points="1130.9,252.5 1141.4,289.5 1134.9,251" fill="#9ea4ac"/><polygon points="1148.9,251.8 1141.4,289.5 1145.2,250.7" fill="#2a2e34" opacity="0.85"/><polygon points="1115.5,250.4 1119.9,288.7 1133.3,252.6" fill="#848a92"/><polygon points="1115.5,250.4 1119.9,288.7 1119.6,249.6" fill="#9ea4ac"/><polygon points="1133.3,252.6 1119.9,288.7 1129.9,251" fill="#2a2e34" opacity="0.85"/><polygon points="1100.6,245.9 1098.8,284.4 1117.9,250.9" fill="#848a92"/><polygon points="1100.6,245.9 1098.8,284.4 1104.8,245.8" fill="#9ea4ac"/><polygon points="1117.9,250.9 1098.8,284.4 1114.7,248.8" fill="#2a2e34" opacity="0.85"/><polygon points="1086.6,239.1 1078.7,276.7 1102.9,246.8" fill="#848a92"/><polygon points="1086.6,239.1 1078.7,276.7 1090.9,239.6" fill="#9ea4ac"/><polygon points="1102.9,246.8 1078.7,276.7 1100.1,244.2" fill="#2a2e34" opacity="0.85"/><polygon points="1073.9,230.1 1060.1,266 1088.7,240.3" fill="#848a92"/><polygon points="1073.9,230.1 1060.1,266 1078,231.3" fill="#9ea4ac"/><polygon points="1088.7,240.3 1060.1,266 1086.5,237.3" fill="#2a2e34" opacity="0.85"/><polygon points="1062.8,219.2 1043.4,252.4 1075.8,231.6" fill="#848a92"/><polygon points="1062.8,219.2 1043.4,252.4 1066.7,221" fill="#9ea4ac"/><polygon points="1075.8,231.6 1043.4,252.4 1074.1,228.3" fill="#2a2e34" opacity="0.85"/><polygon points="1053.7,206.6 1029.2,236.3 1064.5,221" fill="#848a92"/><polygon points="1053.7,206.6 1029.2,236.3 1057.2,209" fill="#9ea4ac"/><polygon points="1064.5,221 1029.2,236.3 1063.3,217.4" fill="#2a2e34" opacity="0.85"/><polygon points="1046.6,192.8 1017.7,218.1 1055,208.7" fill="#848a92"/><polygon points="1046.6,192.8 1017.7,218.1 1049.7,195.7" fill="#9ea4ac"/><polygon points="1055,208.7 1017.7,218.1 1054.4,204.9" fill="#2a2e34" opacity="0.85"/><polygon points="1041.9,177.9 1009.2,198.3 1047.6,195" fill="#848a92"/><polygon points="1041.9,177.9 1009.2,198.3 1044.4,181.3" fill="#9ea4ac"/><polygon points="1047.6,195 1009.2,198.3 1047.6,191.2" fill="#2a2e34" opacity="0.85"/><polygon points="1039.6,162.6 1004.1,177.4 1042.5,180.3" fill="#848a92"/><polygon points="1039.6,162.6 1004.1,177.4 1041.6,166.3" fill="#9ea4ac"/><polygon points="1042.5,180.3 1004.1,177.4 1043.1,176.6" fill="#2a2e34" opacity="0.85"/><polygon points="1039.8,147 1002.3,156 1039.8,165" fill="#848a92"/><polygon points="1039.8,147 1002.3,156 1041.1,151.1" fill="#9ea4ac"/><polygon points="1039.8,165 1002.3,156 1041,161.4" fill="#2a2e34" opacity="0.85"/><polygon points="1146.4,59.9 1162.7,25.1 1164.1,63.5" fill="#848a92"/><polygon points="1146.4,59.9 1162.7,25.1 1150.1,62" fill="#9ea4ac"/><polygon points="1164.1,63.5 1162.7,25.1 1160.3,64" fill="#2a2e34" opacity="0.85"/><polygon points="1161.7,62.8 1183.4,31 1178.5,69.2" fill="#848a92"/><polygon points="1161.7,62.8 1183.4,31 1165,65.5" fill="#9ea4ac"/><polygon points="1178.5,69.2 1183.4,31 1174.7,69.1" fill="#2a2e34" opacity="0.85"/><polygon points="1176.3,68.2 1202.8,40.3 1191.9,77.2" fill="#848a92"/><polygon points="1176.3,68.2 1202.8,40.3 1179.2,71.4" fill="#9ea4ac"/><polygon points="1191.9,77.2 1202.8,40.3 1188.2,76.4" fill="#2a2e34" opacity="0.85"/><polygon points="1189.9,75.8 1220.5,52.5 1203.8,87.2" fill="#848a92"/><polygon points="1189.9,75.8 1220.5,52.5 1192.2,79.4" fill="#9ea4ac"/><polygon points="1203.8,87.2 1220.5,52.5 1200.3,85.8" fill="#2a2e34" opacity="0.85"/><polygon points="1202.1,85.5 1236,67.4 1214,98.9" fill="#848a92"/><polygon points="1202.1,85.5 1236,67.4 1203.7,89.4" fill="#9ea4ac"/><polygon points="1214,98.9 1236,67.4 1210.7,97" fill="#2a2e34" opacity="0.85"/><polygon points="1212.5,97 1249,84.6 1222.1,112.2" fill="#848a92"/><polygon points="1212.5,97 1249,84.6 1213.5,101.1" fill="#9ea4ac"/><polygon points="1222.1,112.2 1249,84.6 1219.2,109.8" fill="#2a2e34" opacity="0.85"/><polygon points="1221,110 1259,103.6 1228.1,126.6" fill="#848a92"/><polygon points="1221,110 1259,103.6 1221.3,114.3" fill="#9ea4ac"/><polygon points="1228.1,126.6 1259,103.6 1225.5,123.7" fill="#2a2e34" opacity="0.85"/><polygon points="1227.3,124.2 1265.8,124 1231.6,141.7" fill="#848a92"/><polygon points="1227.3,124.2 1265.8,124 1226.9,128.5" fill="#9ea4ac"/><polygon points="1231.6,141.7 1265.8,124 1229.6,138.5" fill="#2a2e34" opacity="0.85"/><polygon points="1231.2,139.3 1269.2,145.2 1232.6,157.2" fill="#848a92"/><polygon points="1231.2,139.3 1269.2,145.2 1230.2,143.4" fill="#9ea4ac"/><polygon points="1232.6,157.2 1269.2,145.2 1231.2,153.7" fill="#2a2e34" opacity="0.85"/><polygon points="1223.4,147 1257.4,156 1223.4,165" fill="#848a92"/><polygon points="1223.4,147 1257.4,156 1222,151.1" fill="#9ea4ac"/><polygon points="1223.4,165 1257.4,156 1222.2,161.4" fill="#2a2e34" opacity="0.85"/><polygon points="1223.6,162.7 1255.4,177.7 1220.4,180.5" fill="#848a92"/><polygon points="1223.6,162.7 1255.4,177.7 1221.5,166.5" fill="#9ea4ac"/><polygon points="1220.4,180.5 1255.4,177.7 1219.8,176.7" fill="#2a2e34" opacity="0.85"/><polygon points="1221,178.3 1249.6,198.6 1214.6,195.1" fill="#848a92"/><polygon points="1221,178.3 1249.6,198.6 1218.3,181.6" fill="#9ea4ac"/><polygon points="1214.6,195.1 1249.6,198.6 1214.8,191.3" fill="#2a2e34" opacity="0.85"/><polygon points="1215.6,193.1 1240.2,218.2 1206.4,208.5" fill="#848a92"/><polygon points="1215.6,193.1 1240.2,218.2 1212.4,195.9" fill="#9ea4ac"/><polygon points="1206.4,208.5 1240.2,218.2 1207.2,204.8" fill="#2a2e34" opacity="0.85"/><polygon points="1207.7,206.7 1227.4,235.8 1195.9,220.3" fill="#848a92"/><polygon points="1207.7,206.7 1227.4,235.8 1204,208.9" fill="#9ea4ac"/><polygon points="1195.9,220.3 1227.4,235.8 1197.3,216.8" fill="#2a2e34" opacity="0.85"/><polygon points="1183.4,229.9 1211.7,250.9 1197.5,218.7" fill="#848a92"/><polygon points="1183.4,229.9 1211.7,250.9 1185.8,226.3" fill="#9ea4ac"/><polygon points="1197.5,218.7 1211.7,250.9 1194,220" fill="#2a2e34" opacity="0.85"/><polygon points="1169.5,237.2 1193.5,262.9 1185.3,228.7" fill="#848a92"/><polygon points="1169.5,237.2 1193.5,262.9 1172.4,234.1" fill="#9ea4ac"/><polygon points="1185.3,228.7 1193.5,262.9 1181.6,229.3" fill="#2a2e34" opacity="0.85"/><polygon points="1154.4,241.9 1173.5,271.4 1171.6,236.3" fill="#848a92"/><polygon points="1154.4,241.9 1173.5,271.4 1157.9,239.3" fill="#9ea4ac"/><polygon points="1171.6,236.3 1173.5,271.4 1167.8,236.3" fill="#2a2e34" opacity="0.85"/><polygon points="1138.8,243.8 1152.3,276.3 1156.6,241.4" fill="#848a92"/><polygon points="1138.8,243.8 1152.3,276.3 1142.6,241.9" fill="#9ea4ac"/><polygon points="1156.6,241.4 1152.3,276.3 1152.9,240.7" fill="#2a2e34" opacity="0.85"/><polygon points="1123.1,242.9 1130.6,277.2 1141.1,243.7" fill="#848a92"/><polygon points="1123.1,242.9 1130.6,277.2 1127.2,241.7" fill="#9ea4ac"/><polygon points="1141.1,243.7 1130.6,277.2 1137.5,242.3" fill="#2a2e34" opacity="0.85"/><polygon points="1107.8,239.2 1109,274.3 1125.3,243.2" fill="#848a92"/><polygon points="1107.8,239.2 1109,274.3 1112,238.8" fill="#9ea4ac"/><polygon points="1125.3,243.2 1109,274.3 1122.1,241.2" fill="#2a2e34" opacity="0.85"/><polygon points="1093.4,232.8 1088.3,267.6 1109.9,239.9" fill="#848a92"/><polygon points="1093.4,232.8 1088.3,267.6 1097.6,233.2" fill="#9ea4ac"/><polygon points="1109.9,239.9 1088.3,267.6 1107.1,237.4" fill="#2a2e34" opacity="0.85"/><polygon points="1080.4,224 1069.1,257.3 1095.4,233.9" fill="#848a92"/><polygon points="1080.4,224 1069.1,257.3 1084.5,225.1" fill="#9ea4ac"/><polygon points="1095.4,233.9 1069.1,257.3 1093,230.9" fill="#2a2e34" opacity="0.85"/><polygon points="1069.1,212.9 1052.1,243.7 1082.1,225.4" fill="#848a92"/><polygon points="1069.1,212.9 1052.1,243.7 1073,214.8" fill="#9ea4ac"/><polygon points="1082.1,225.4 1052.1,243.7 1080.4,222" fill="#2a2e34" opacity="0.85"/><polygon points="1060,200.1 1037.8,227.3 1070.6,214.6" fill="#848a92"/><polygon points="1060,200.1 1037.8,227.3 1063.5,202.6" fill="#9ea4ac"/><polygon points="1070.6,214.6 1037.8,227.3 1069.5,211" fill="#2a2e34" opacity="0.85"/><polygon points="1053.4,185.8 1026.7,208.7 1061.2,202" fill="#848a92"/><polygon points="1053.4,185.8 1026.7,208.7 1056.3,188.9" fill="#9ea4ac"/><polygon points="1061.2,202 1026.7,208.7 1060.7,198.3" fill="#2a2e34" opacity="0.85"/><polygon points="1049.4,170.6 1019,188.3 1054.2,187.9" fill="#848a92"/><polygon points="1049.4,170.6 1019,188.3 1051.8,174.1" fill="#9ea4ac"/><polygon points="1054.2,187.9 1019,188.3 1054.4,184.1" fill="#2a2e34" opacity="0.85"/><polygon points="1048.2,154.9 1015.1,166.9 1049.8,172.8" fill="#848a92"/><polygon points="1048.2,154.9 1015.1,166.9 1049.9,158.8" fill="#9ea4ac"/><polygon points="1049.8,172.8 1015.1,166.9 1050.7,169.1" fill="#2a2e34" opacity="0.85"/><polygon points="1154.4,70.1 1173.5,40.6 1171.6,75.7" fill="#848a92"/><polygon points="1154.4,70.1 1173.5,40.6 1157.9,72.7" fill="#9ea4ac"/><polygon points="1171.6,75.7 1173.5,40.6 1167.8,75.7" fill="#2a2e34" opacity="0.85"/><polygon points="1169.5,74.8 1193.5,49.1 1185.3,83.3" fill="#848a92"/><polygon points="1169.5,74.8 1193.5,49.1 1172.4,77.9" fill="#9ea4ac"/><polygon points="1185.3,83.3 1193.5,49.1 1181.6,82.7" fill="#2a2e34" opacity="0.85"/><polygon points="1183.4,82.1 1211.7,61.1 1197.5,93.3" fill="#848a92"/><polygon points="1183.4,82.1 1211.7,61.1 1185.8,85.7" fill="#9ea4ac"/><polygon points="1197.5,93.3 1211.7,61.1 1194,92" fill="#2a2e34" opacity="0.85"/><polygon points="1195.9,91.7 1227.4,76.2 1207.7,105.3" fill="#848a92"/><polygon points="1195.9,91.7 1227.4,76.2 1197.5,95.7" fill="#9ea4ac"/><polygon points="1207.7,105.3 1227.4,76.2 1204.4,103.4" fill="#2a2e34" opacity="0.85"/><polygon points="1206.4,103.5 1240.2,93.8 1215.6,118.9" fill="#848a92"/><polygon points="1206.4,103.5 1240.2,93.8 1207.3,107.6" fill="#9ea4ac"/><polygon points="1215.6,118.9 1240.2,93.8 1212.7,116.4" fill="#2a2e34" opacity="0.85"/><polygon points="1214.6,116.9 1249.6,113.4 1221,133.7" fill="#848a92"/><polygon points="1214.6,116.9 1249.6,113.4 1214.8,121.1" fill="#9ea4ac"/><polygon points="1221,133.7 1249.6,113.4 1218.6,130.8" fill="#2a2e34" opacity="0.85"/><polygon points="1220.4,131.5 1255.4,134.3 1223.6,149.3" fill="#848a92"/><polygon points="1220.4,131.5 1255.4,134.3 1219.8,135.8" fill="#9ea4ac"/><polygon points="1223.6,149.3 1255.4,134.3 1221.8,145.9" fill="#2a2e34" opacity="0.85"/><polygon points="1212.9,154.8 1241.5,166.7 1211.1,172.7" fill="#848a92"/><polygon points="1212.9,154.8 1241.5,166.7 1211.1,158.7" fill="#9ea4ac"/><polygon points="1211.1,172.7 1241.5,166.7 1210.2,169" fill="#2a2e34" opacity="0.85"/><polygon points="1211.6,170.3 1237.2,187.8 1206.2,187.4" fill="#848a92"/><polygon points="1211.6,170.3 1237.2,187.8 1209.1,173.7" fill="#9ea4ac"/><polygon points="1206.2,187.4 1237.2,187.8 1206.1,183.7" fill="#2a2e34" opacity="0.85"/><polygon points="1207.1,185.2 1228.7,207.5 1198.4,200.9" fill="#848a92"/><polygon points="1207.1,185.2 1228.7,207.5 1204,188.1" fill="#9ea4ac"/><polygon points="1198.4,200.9 1228.7,207.5 1199.1,197.2" fill="#2a2e34" opacity="0.85"/><polygon points="1199.8,198.9 1216.5,225.1 1188.1,212.6" fill="#848a92"/><polygon points="1199.8,198.9 1216.5,225.1 1196.1,201.1" fill="#9ea4ac"/><polygon points="1188.1,212.6 1216.5,225.1 1189.5,209.1" fill="#2a2e34" opacity="0.85"/><polygon points="1175.6,221.9 1200.9,239.9 1189.9,210.9" fill="#848a92"/><polygon points="1175.6,221.9 1200.9,239.9 1178,218.4" fill="#9ea4ac"/><polygon points="1189.9,210.9 1200.9,239.9 1186.3,212.1" fill="#2a2e34" opacity="0.85"/><polygon points="1161.6,228.5 1182.7,251.2 1177.7,220.6" fill="#848a92"/><polygon points="1161.6,228.5 1182.7,251.2 1164.6,225.5" fill="#9ea4ac"/><polygon points="1177.7,220.6 1182.7,251.2 1174,221.1" fill="#2a2e34" opacity="0.85"/><polygon points="1146.4,232.2 1162.6,258.7 1163.9,227.7" fill="#848a92"/><polygon points="1146.4,232.2 1162.6,258.7 1150,229.9" fill="#9ea4ac"/><polygon points="1163.9,227.7 1162.6,258.7 1160.1,227.4" fill="#2a2e34" opacity="0.85"/><polygon points="1130.9,232.7 1141.4,261.9 1148.9,231.8" fill="#848a92"/><polygon points="1130.9,232.7 1141.4,261.9 1134.9,231.2" fill="#9ea4ac"/><polygon points="1148.9,231.8 1141.4,261.9 1145.2,230.8" fill="#2a2e34" opacity="0.85"/><polygon points="1115.5,230.1 1119.9,260.8 1133.3,232.8" fill="#848a92"/><polygon points="1115.5,230.1 1119.9,260.8 1119.7,229.4" fill="#9ea4ac"/><polygon points="1133.3,232.8 1119.9,260.8 1130,231.1" fill="#2a2e34" opacity="0.85"/><polygon points="1101,224.5 1099.2,255.5 1117.9,230.7" fill="#848a92"/><polygon points="1101,224.5 1099.2,255.5 1105.3,224.6" fill="#9ea4ac"/><polygon points="1117.9,230.7 1099.2,255.5 1115,228.4" fill="#2a2e34" opacity="0.85"/><polygon points="1088,216 1079.9,246 1103.2,225.6" fill="#848a92"/><polygon points="1088,216 1079.9,246 1092.1,217" fill="#9ea4ac"/><polygon points="1103.2,225.6 1079.9,246 1100.8,222.6" fill="#2a2e34" opacity="0.85"/><polygon points="1076.9,205.1 1062.9,232.9 1089.9,217.6" fill="#848a92"/><polygon points="1076.9,205.1 1062.9,232.9 1080.7,207" fill="#9ea4ac"/><polygon points="1089.9,217.6 1062.9,232.9 1088.1,214.2" fill="#2a2e34" opacity="0.85"/><polygon points="1068.2,192.2 1048.9,216.6 1078.5,207" fill="#848a92"/><polygon points="1068.2,192.2 1048.9,216.6 1071.6,194.8" fill="#9ea4ac"/><polygon points="1078.5,207 1048.9,216.6 1077.4,203.4" fill="#2a2e34" opacity="0.85"/><polygon points="1062.3,177.8 1038.5,197.8 1069.4,194.4" fill="#848a92"/><polygon points="1062.3,177.8 1038.5,197.8 1065.1,181" fill="#9ea4ac"/><polygon points="1069.4,194.4 1038.5,197.8 1069.1,190.6" fill="#2a2e34" opacity="0.85"/><polygon points="1059.4,162.6 1032.1,177.4 1063,180.2" fill="#848a92"/><polygon points="1059.4,162.6 1032.1,177.4 1061.5,166.3" fill="#9ea4ac"/><polygon points="1063,180.2 1032.1,177.4 1063.5,176.4" fill="#2a2e34" opacity="0.85"/><polygon points="1161.6,83.5 1182.7,60.8 1177.7,91.4" fill="#848a92"/><polygon points="1161.6,83.5 1182.7,60.8 1164.6,86.5" fill="#9ea4ac"/><polygon points="1177.7,91.4 1182.7,60.8 1174,90.9" fill="#2a2e34" opacity="0.85"/><polygon points="1175.6,90.1 1200.9,72.1 1189.9,101.1" fill="#848a92"/><polygon points="1175.6,90.1 1200.9,72.1 1178,93.6" fill="#9ea4ac"/><polygon points="1189.9,101.1 1200.9,72.1 1186.3,99.9" fill="#2a2e34" opacity="0.85"/><polygon points="1188.1,99.4 1216.5,86.9 1199.8,113.1" fill="#848a92"/><polygon points="1188.1,99.4 1216.5,86.9 1189.7,103.4" fill="#9ea4ac"/><polygon points="1199.8,113.1 1216.5,86.9 1196.6,111.1" fill="#2a2e34" opacity="0.85"/><polygon points="1198.4,111.1 1228.7,104.5 1207.1,126.8" fill="#848a92"/><polygon points="1198.4,111.1 1228.7,104.5 1199.2,115.3" fill="#9ea4ac"/><polygon points="1207.1,126.8 1228.7,104.5 1204.3,124.2" fill="#2a2e34" opacity="0.85"/><polygon points="1206.2,124.6 1237.2,124.2 1211.6,141.7" fill="#848a92"/><polygon points="1206.2,124.6 1237.2,124.2 1206.1,128.8" fill="#9ea4ac"/><polygon points="1211.6,141.7 1237.2,124.2 1209.3,138.6" fill="#2a2e34" opacity="0.85"/><polygon points="1211.1,139.3 1241.5,145.3 1212.9,157.2" fill="#848a92"/><polygon points="1211.1,139.3 1241.5,145.3 1210.1,143.5" fill="#9ea4ac"/><polygon points="1212.9,157.2 1241.5,145.3 1211.3,153.8" fill="#2a2e34" opacity="0.85"/><polygon points="1199.5,147 1224.2,156 1199.5,165" fill="#848a92"/><polygon points="1199.5,147 1224.2,156 1198.1,151.1" fill="#9ea4ac"/><polygon points="1199.5,165 1224.2,156 1198.3,161.4" fill="#2a2e34" opacity="0.85"/><polygon points="1199.8,162.5 1221.6,177.1 1195.5,179.9" fill="#848a92"/><polygon points="1199.8,162.5 1221.6,177.1 1197.5,166.1" fill="#9ea4ac"/><polygon points="1195.5,179.9 1221.6,177.1 1195.2,176.1" fill="#2a2e34" opacity="0.85"/><polygon points="1196.4,177.5 1214.1,197 1188,193.5" fill="#848a92"/><polygon points="1196.4,177.5 1214.1,197 1193.3,180.5" fill="#9ea4ac"/><polygon points="1188,193.5 1214.1,197 1188.6,189.7" fill="#2a2e34" opacity="0.85"/><polygon points="1189.5,191.4 1202,214.5 1177.5,204.8" fill="#848a92"/><polygon points="1189.5,191.4 1202,214.5 1185.8,193.5" fill="#9ea4ac"/><polygon points="1177.5,204.8 1202,214.5 1179,201.3" fill="#2a2e34" opacity="0.85"/><polygon points="1164.7,213.4 1186.1,228.6 1179.5,203.1" fill="#848a92"/><polygon points="1164.7,213.4 1186.1,228.6 1167.2,209.9" fill="#9ea4ac"/><polygon points="1179.5,203.1 1186.1,228.6 1175.8,204.2" fill="#2a2e34" opacity="0.85"/><polygon points="1150.1,218.5 1167.3,238.4 1166.9,212.2" fill="#848a92"/><polygon points="1150.1,218.5 1167.3,238.4 1153.4,215.8" fill="#9ea4ac"/><polygon points="1166.9,212.2 1167.3,238.4 1163.1,212.3" fill="#2a2e34" opacity="0.85"/><polygon points="1134.7,220.1 1146.6,243.5 1152.6,217.9" fill="#848a92"/><polygon points="1134.7,220.1 1146.6,243.5 1138.6,218.3" fill="#9ea4ac"/><polygon points="1152.6,217.9 1146.6,243.5 1148.9,217.2" fill="#2a2e34" opacity="0.85"/><polygon points="1119.4,217.9 1125.4,243.5 1137.3,220.1" fill="#848a92"/><polygon points="1119.4,217.9 1125.4,243.5 1123.6,217.1" fill="#9ea4ac"/><polygon points="1137.3,220.1 1125.4,243.5 1133.9,218.5" fill="#2a2e34" opacity="0.85"/><polygon points="1105.1,212.2 1104.7,238.4 1121.9,218.5" fill="#848a92"/><polygon points="1105.1,212.2 1104.7,238.4 1109.3,212.3" fill="#9ea4ac"/><polygon points="1121.9,218.5 1104.7,238.4 1119,216.1" fill="#2a2e34" opacity="0.85"/><polygon points="1092.5,203.1 1085.9,228.6 1107.3,213.4" fill="#848a92"/><polygon points="1092.5,203.1 1085.9,228.6 1096.6,204.3" fill="#9ea4ac"/><polygon points="1107.3,213.4 1085.9,228.6 1105.1,210.3" fill="#2a2e34" opacity="0.85"/><polygon points="1082.5,191.4 1070,214.5 1094.5,204.8" fill="#848a92"/><polygon points="1082.5,191.4 1070,214.5 1086.2,193.5" fill="#9ea4ac"/><polygon points="1094.5,204.8 1070,214.5 1093,201.3" fill="#2a2e34" opacity="0.85"/><polygon points="1075.6,177.5 1057.9,197 1084,193.5" fill="#848a92"/><polygon points="1075.6,177.5 1057.9,197 1078.7,180.5" fill="#9ea4ac"/><polygon points="1084,193.5 1057.9,197 1083.4,189.7" fill="#2a2e34" opacity="0.85"/><polygon points="1072.2,162.5 1050.4,177.1 1076.5,179.9" fill="#848a92"/><polygon points="1072.2,162.5 1050.4,177.1 1074.5,166.1" fill="#9ea4ac"/><polygon points="1076.5,179.9 1050.4,177.1 1076.8,176.1" fill="#2a2e34" opacity="0.85"/><polygon points="1164.7,98.6 1186.1,83.4 1179.5,108.9" fill="#848a92"/><polygon points="1164.7,98.6 1186.1,83.4 1167.2,102.1" fill="#9ea4ac"/><polygon points="1179.5,108.9 1186.1,83.4 1175.8,107.8" fill="#2a2e34" opacity="0.85"/><polygon points="1177.5,107.2 1202,97.5 1189.5,120.6" fill="#848a92"/><polygon points="1177.5,107.2 1202,97.5 1179.2,111.1" fill="#9ea4ac"/><polygon points="1189.5,120.6 1202,97.5 1186.2,118.7" fill="#2a2e34" opacity="0.85"/><polygon points="1188,118.5 1214.1,115 1196.4,134.5" fill="#848a92"/><polygon points="1188,118.5 1214.1,115 1188.7,122.7" fill="#9ea4ac"/><polygon points="1196.4,134.5 1214.1,115 1193.7,131.8" fill="#2a2e34" opacity="0.85"/><polygon points="1195.5,132.1 1221.6,134.9 1199.8,149.5" fill="#848a92"/><polygon points="1195.5,132.1 1221.6,134.9 1195.1,136.3" fill="#9ea4ac"/><polygon points="1199.8,149.5 1221.6,134.9 1197.8,146.3" fill="#2a2e34" opacity="0.85"/><polygon points="1185.8,154.8 1203.3,166.7 1183,172.6" fill="#848a92"/><polygon points="1185.8,154.8 1203.3,166.7 1183.9,158.6" fill="#9ea4ac"/><polygon points="1183,172.6 1203.3,166.7 1182.4,168.8" fill="#2a2e34" opacity="0.85"/><polygon points="1183.8,170.2 1196.7,186.9 1175.6,186.3" fill="#848a92"/><polygon points="1183.8,170.2 1196.7,186.9 1180.7,173.2" fill="#9ea4ac"/><polygon points="1175.6,186.3 1196.7,186.9 1176.2,182.5" fill="#2a2e34" opacity="0.85"/><polygon points="1177,184.3 1184.2,204.2 1164.3,197" fill="#848a92"/><polygon points="1177,184.3 1184.2,204.2 1173.2,186.2" fill="#9ea4ac"/><polygon points="1164.3,197 1184.2,204.2 1166,193.6" fill="#2a2e34" opacity="0.85"/><polygon points="1150.2,203.8 1166.9,216.7 1166.3,195.6" fill="#848a92"/><polygon points="1150.2,203.8 1166.9,216.7 1153.2,200.7" fill="#9ea4ac"/><polygon points="1166.3,195.6 1166.9,216.7 1162.5,196.2" fill="#2a2e34" opacity="0.85"/><polygon points="1134.8,205.8 1146.7,223.3 1152.6,203" fill="#848a92"/><polygon points="1134.8,205.8 1146.7,223.3 1138.6,203.9" fill="#9ea4ac"/><polygon points="1152.6,203 1146.7,223.3 1148.8,202.4" fill="#2a2e34" opacity="0.85"/><polygon points="1119.4,203 1125.3,223.3 1137.2,205.8" fill="#848a92"/><polygon points="1119.4,203 1125.3,223.3 1123.7,202.3" fill="#9ea4ac"/><polygon points="1137.2,205.8 1125.3,223.3 1133.9,204.1" fill="#2a2e34" opacity="0.85"/><polygon points="1105.7,195.6 1105.1,216.7 1121.8,203.8" fill="#848a92"/><polygon points="1105.7,195.6 1105.1,216.7 1109.9,196.2" fill="#9ea4ac"/><polygon points="1121.8,203.8 1105.1,216.7 1119.1,201.1" fill="#2a2e34" opacity="0.85"/><polygon points="1095,184.3 1087.8,204.2 1107.7,197" fill="#848a92"/><polygon points="1095,184.3 1087.8,204.2 1098.8,186.2" fill="#9ea4ac"/><polygon points="1107.7,197 1087.8,204.2 1106,193.6" fill="#2a2e34" opacity="0.85"/><polygon points="1088.2,170.2 1075.3,186.9 1096.4,186.3" fill="#848a92"/><polygon points="1088.2,170.2 1075.3,186.9 1091.3,173.2" fill="#9ea4ac"/><polygon points="1096.4,186.3 1075.3,186.9 1095.8,182.5" fill="#2a2e34" opacity="0.85"/><polygon points="1164.3,115 1184.2,107.8 1177,127.7" fill="#848a92"/><polygon points="1164.3,115 1184.2,107.8 1166.2,118.8" fill="#9ea4ac"/><polygon points="1177,127.7 1184.2,107.8 1173.6,126" fill="#2a2e34" opacity="0.85"/><polygon points="1175.6,125.7 1196.7,125.1 1183.8,141.8" fill="#848a92"/><polygon points="1175.6,125.7 1196.7,125.1 1176.2,129.9" fill="#9ea4ac"/><polygon points="1183.8,141.8 1196.7,125.1 1181.1,139.1" fill="#2a2e34" opacity="0.85"/><polygon points="1183,139.4 1203.3,145.3 1185.8,157.2" fill="#848a92"/><polygon points="1183,139.4 1203.3,145.3 1182.3,143.7" fill="#9ea4ac"/><polygon points="1185.8,157.2 1203.3,145.3 1184.1,153.9" fill="#2a2e34" opacity="0.85"/><polygon points="1169.4,147 1182.4,156 1169.4,165" fill="#848a92"/><polygon points="1169.4,147 1182.4,156 1168,151.1" fill="#9ea4ac"/><polygon points="1169.4,165 1182.4,156 1168.2,161.4" fill="#2a2e34" opacity="0.85"/><polygon points="1170,162.4 1177.8,176.1 1162.2,178.6" fill="#848a92"/><polygon points="1170,162.4 1177.8,176.1 1167,165.4" fill="#9ea4ac"/><polygon points="1162.2,178.6 1177.8,176.1 1162.6,174.8" fill="#2a2e34" opacity="0.85"/><polygon points="1149.8,187.7 1164.9,192.2 1163.8,176.5" fill="#848a92"/><polygon points="1149.8,187.7 1164.9,192.2 1152.1,184.1" fill="#9ea4ac"/><polygon points="1163.8,176.5 1164.9,192.2 1160.3,177.8" fill="#2a2e34" opacity="0.85"/><polygon points="1134.7,190.5 1146.3,201.2 1152.2,186.5" fill="#848a92"/><polygon points="1134.7,190.5 1146.3,201.2 1138.3,188.3" fill="#9ea4ac"/><polygon points="1152.2,186.5 1146.3,201.2 1148.4,186.2" fill="#2a2e34" opacity="0.85"/><polygon points="1119.8,186.5 1125.7,201.2 1137.3,190.5" fill="#848a92"/><polygon points="1119.8,186.5 1125.7,201.2 1124,186.1" fill="#9ea4ac"/><polygon points="1137.3,190.5 1125.7,201.2 1134.1,188.6" fill="#2a2e34" opacity="0.85"/><polygon points="1108.2,176.5 1107.1,192.2 1122.2,187.7" fill="#848a92"/><polygon points="1108.2,176.5 1107.1,192.2 1112.2,178" fill="#9ea4ac"/><polygon points="1122.2,187.7 1107.1,192.2 1120.2,184.5" fill="#2a2e34" opacity="0.85"/><polygon points="1162.2,133.4 1177.8,135.9 1170,149.6" fill="#848a92"/><polygon points="1162.2,133.4 1177.8,135.9 1162.7,137.6" fill="#9ea4ac"/><polygon points="1170,149.6 1177.8,135.9 1167.3,146.9" fill="#2a2e34" opacity="0.85"/><polygon points="1156.8,154.9 1160.1,166 1149.9,171.5" fill="#848a92"/><polygon points="1156.8,154.9 1160.1,166 1154,158.1" fill="#9ea4ac"/><polygon points="1149.9,171.5 1160.1,166 1150.2,167.7" fill="#2a2e34" opacity="0.85"/><polygon points="1134.9,176.8 1146,180.1 1151.5,169.9" fill="#848a92"/><polygon points="1134.9,176.8 1146,180.1 1138.1,174" fill="#9ea4ac"/><polygon points="1151.5,169.9 1146,180.1 1147.7,170.2" fill="#2a2e34" opacity="0.85"/><polygon points="1120.5,169.9 1126,180.1 1137.1,176.8" fill="#848a92"/><polygon points="1120.5,169.9 1126,180.1 1124.8,170.2" fill="#9ea4ac"/><polygon points="1137.1,176.8 1126,180.1 1134.3,174.3" fill="#2a2e34" opacity="0.85"/><polygon points="1149.9,140.5 1160.1,146 1156.8,157.1" fill="#848a92"/><polygon points="1149.9,140.5 1160.1,146 1150.2,144.8" fill="#9ea4ac"/><polygon points="1156.8,157.1 1160.1,146 1154.3,154.3" fill="#2a2e34" opacity="0.85"/></g>
<g stroke="#111" stroke-width="3.2" fill="none"><path d="M1369 134 H1359 V240 H1369"/><path d="M1464 134 H1473 V240 H1464"/><path d="M1342 194 L1381 209 L1416 191 L1493 218"/><path d="M1416 191 V166"/></g>
<text x="1400" y="156" style="font-family:'Liberation Sans',Arial,sans-serif;font-weight:bold;font-size:32px" fill="#111">OH</text>
<text x="1488" y="242" style="font-family:'Liberation Sans',Arial,sans-serif;font-weight:bold;font-size:30px" fill="#111">n</text>
<circle cx="1538" cy="461" r="152" fill="url(#brs)"/>
<circle cx="1538" cy="461" r="150" fill="url(#hex)"/>
<path d="M1390 488 C1392 420 1440 340 1522 320 C1540 330 1552 350 1560 372 C1575 392 1592 410 1596 440 C1598 470 1606 500 1612 528 C1600 546 1578 556 1545 558 C1500 562 1460 552 1430 532 C1410 520 1396 505 1390 488 Z" fill="url(#brin)"/>
<path d="M1390 488 C1392 420 1440 340 1522 320 C1540 330 1552 350 1560 372 C1575 392 1592 410 1596 440 C1598 470 1606 500 1612 528 C1600 546 1578 556 1545 558 C1500 562 1460 552 1430 532 C1410 520 1396 505 1390 488 Z" fill="url(#hex2)"/>
<g fill="url(#cube)" stroke="#5e6a7e" stroke-width="1"><rect x="1387.5" y="459" width="19" height="18" rx="4"/><rect x="1390.5" y="437" width="19" height="18" rx="4"/><rect x="1397.5" y="415" width="19" height="18" rx="4"/><rect x="1408.5" y="394" width="19" height="18" rx="4"/><rect x="1423.5" y="375" width="19" height="18" rx="4"/><rect x="1440.5" y="358" width="19" height="18" rx="4"/><rect x="1459.5" y="343" width="19" height="18" rx="4"/><rect x="1480.5" y="331" width="19" height="18" rx="4"/><rect x="1501.5" y="322" width="19" height="18" rx="4"/><rect x="1522.5" y="317" width="19" height="18" rx="4"/><rect x="1402.5" y="499" width="19" height="18" rx="4"/><rect x="1420.5" y="513" width="19" height="18" rx="4"/><rect x="1440.5" y="524" width="19" height="18" rx="4"/><rect x="1461.5" y="532" width="19" height="18" rx="4"/><rect x="1483.5" y="537" width="19" height="18" rx="4"/><rect x="1505.5" y="539" width="19" height="18" rx="4"/><rect x="1527.5" y="539" width="19" height="18" rx="4"/><rect x="1549.5" y="537" width="19" height="18" rx="4"/><rect x="1570.5" y="531" width="19" height="18" rx="4"/><rect x="1588.5" y="521" width="19" height="18" rx="4"/><rect x="1552.5" y="363" width="19" height="18" rx="4"/><rect x="1558.5" y="379" width="19" height="18" rx="4"/><rect x="1586.5" y="449" width="19" height="18" rx="4"/><rect x="1595.5" y="496" width="19" height="18" rx="4"/></g>
<g fill="none" stroke="#4a78c8" stroke-width="10" stroke-dasharray="24 13"><circle cx="1138" cy="663" r="156"/><path d="M1128 510 L1418 497"/><path d="M1255 772 L1424 536"/></g>
<circle cx="1422" cy="512" r="21" fill="none" stroke="#4a78c8" stroke-width="8" stroke-dasharray="22 10"/>
<path d="M1134 553 C1160 553 1225 580 1243 598 C1258 620 1256 690 1252 726 C1240 760 1170 795 1130 802 C1100 795 1035 755 1018 725 C1010 690 1010 630 1020 598 C1040 578 1105 553 1134 553 Z" fill="url(#shell)"/>
<path d="M1018 725 C1035 755 1100 795 1130 802 C1105 790 1050 760 1030 730 C1022 700 1020 660 1024 620 C1016 650 1014 700 1018 725 Z" fill="#3a2a10" opacity="0.55"/>
<path d="M1133 580 L1194 609 L1209 709 L1130 740 L1058 712 L1056 668 L1071 610 Z" fill="#7a5420"/>
<path d="M1058 712 L1130 740 L1209 709 L1200 700 L1130 728 L1068 704 Z" fill="#c08848"/>
<circle cx="1134" cy="660" r="66" fill="url(#core)"/>
<path d="M1133 580 L1194 609 L1209 709 L1130 740 L1058 712 L1056 668 L1071 610 Z M1133 590 L1186 615 L1199 704 L1130 731 L1066 706 L1065 668 L1078 616 Z" fill="#8a5e24" fill-rule="evenodd"/>
<path d="M1110 642 H900 M1127 762 H900" stroke="#111" stroke-width="10"/>
<polygon points="876,642 906,627 906,657" fill="#111"/><polygon points="876,762 906,747 906,777" fill="#111"/>
<defs>
<clipPath id="semclip"><rect x="1887" y="7.5" width="1207" height="796.5"/></clipPath>
<clipPath id="insclip"><rect x="1887" y="404" width="375" height="369"/></clipPath>
<filter id="bl8" x="-10%" y="-10%" width="120%" height="120%"><feGaussianBlur stdDeviation="7"/></filter>
<filter id="bl3" x="-10%" y="-10%" width="120%" height="120%"><feGaussianBlur stdDeviation="3"/></filter>
<radialGradient id="pgL" cx="0.42" cy="0.4" r="0.62"><stop offset="0" stop-color="#8a8f99"/><stop offset="0.65" stop-color="#7e838d"/><stop offset="0.9" stop-color="#6a6f78"/><stop offset="1" stop-color="#5a5f68" stop-opacity="0.6"/></radialGradient>
<radialGradient id="pgM" cx="0.42" cy="0.4" r="0.62"><stop offset="0" stop-color="#80858f"/><stop offset="0.65" stop-color="#767b85"/><stop offset="0.9" stop-color="#666b74"/><stop offset="1" stop-color="#5a5f68" stop-opacity="0.5"/></radialGradient>
<filter id="nzd" x="0" y="0" width="100%" height="100%" color-interpolation-filters="sRGB"><feTurbulence type="fractalNoise" baseFrequency="0.1" numOctaves="2" seed="3"/>
<feColorMatrix type="matrix" values="0 0 0 0 0.12  0 0 0 0 0.13  0 0 0 0 0.16  -1.25 0 0 0 0.625"/></filter>
<filter id="nzl" x="0" y="0" width="100%" height="100%" color-interpolation-filters="sRGB"><feTurbulence type="fractalNoise" baseFrequency="0.1" numOctaves="2" seed="3"/>
<feColorMatrix type="matrix" values="0 0 0 0 0.82  0 0 0 0 0.84  0 0 0 0 0.88  1.25 0 0 0 -0.625"/></filter>
<filter id="nzs" x="0" y="0" width="100%" height="100%" color-interpolation-filters="sRGB"><feTurbulence type="fractalNoise" baseFrequency="0.045" numOctaves="2" seed="21"/>
<feColorMatrix type="matrix" values="0 0 0 0 0.2  0 0 0 0 0.21  0 0 0 0 0.25  -2.6 0 0 0 1.3"/></filter>
<filter id="mcon" x="0" y="0" width="100%" height="100%" color-interpolation-filters="sRGB"><feComponentTransfer><feFuncR type="linear" slope="3" intercept="-0.6"/><feFuncG type="linear" slope="3" intercept="-0.6"/><feFuncB type="linear" slope="3" intercept="-0.6"/></feComponentTransfer></filter>
</defs>
<g clip-path="url(#semclip)">
<rect x="1887" y="7.5" width="1207" height="796.5" fill="#676c75"/>
<g id="semtone"><g filter="url(#bl8)"><ellipse cx="1935" cy="190" rx="50" ry="28" fill="#737882"/><ellipse cx="2000" cy="22" rx="65" ry="16" fill="#70757f"/><ellipse cx="2072" cy="51" rx="22" ry="15" fill="#3f434c"/><ellipse cx="2100" cy="110" rx="50" ry="60" fill="#5e636c"/><ellipse cx="2185" cy="118" rx="105" ry="50" fill="#5a5f68"/><ellipse cx="2050" cy="140" rx="55" ry="25" fill="#50555e"/><ellipse cx="2208" cy="72" rx="62" ry="62" fill="#717680"/><ellipse cx="2280" cy="20" rx="10" ry="14" fill="#3f434c"/><ellipse cx="2050" cy="190" rx="70" ry="28" fill="#454950"/><ellipse cx="1953" cy="265" rx="34" ry="55" fill="#3b3f47"/><ellipse cx="2190" cy="258" rx="105" ry="92" fill="#4a4e57"/><ellipse cx="2080" cy="215" rx="60" ry="50" fill="#4a4e57"/><ellipse cx="2040" cy="257" rx="60" ry="44" fill="#585d66"/><ellipse cx="2144" cy="233" rx="36" ry="36" fill="#565b64"/><ellipse cx="2212" cy="223" rx="36" ry="36" fill="#565b64"/><ellipse cx="2145" cy="295" rx="33" ry="30" fill="#535861"/><ellipse cx="2150" cy="257" rx="7" ry="5" fill="#363940"/><ellipse cx="1930" cy="355" rx="45" ry="50" fill="#5f646d"/><ellipse cx="1900" cy="385" rx="20" ry="25" fill="#50555e"/><ellipse cx="2318" cy="115" rx="22" ry="70" fill="#4b5059"/><ellipse cx="2470" cy="40" rx="60" ry="30" fill="#6e737d"/><ellipse cx="2471" cy="80" rx="18" ry="9" fill="#3f434c"/><ellipse cx="2489" cy="220" rx="18" ry="30" fill="#3f434c" transform="rotate(-30 2489 220)"/><ellipse cx="2583" cy="188" rx="12" ry="8" fill="#3f434c"/><ellipse cx="2660" cy="205" rx="32" ry="38" fill="#575c65"/><ellipse cx="2620" cy="327" rx="37" ry="27" fill="#3f434c"/><ellipse cx="2360" cy="380" rx="17" ry="27" fill="#3f434c"/><ellipse cx="2318" cy="300" rx="30" ry="14" fill="#3f434c"/><ellipse cx="2600" cy="385" rx="60" ry="25" fill="#72777f"/><polygon points="2704,7 2935,7 2930,120 2928,200 2920,254 2850,252 2790,240 2760,225 2704,220" fill="#4a4e57"/><ellipse cx="2862" cy="140" rx="62" ry="105" fill="#3f424a"/><ellipse cx="2850" cy="40" rx="70" ry="40" fill="#42464e"/><ellipse cx="2755" cy="103" rx="34" ry="37" fill="#5a5f68"/><ellipse cx="2782" cy="142" rx="22" ry="70" fill="#61666f"/><ellipse cx="2736" cy="188" rx="32" ry="37" fill="#6d727c"/><ellipse cx="2982" cy="66" rx="10" ry="12" fill="#3f434c"/><ellipse cx="2986" cy="198" rx="14" ry="20" fill="#50555e"/><ellipse cx="2898" cy="360" rx="15" ry="15" fill="#3f434c"/><ellipse cx="2770" cy="290" rx="8" ry="25" fill="#3f434c"/><ellipse cx="2880" cy="295" rx="8" ry="20" fill="#3f434c"/><ellipse cx="2327" cy="467" rx="20" ry="25" fill="#3f434c"/><polygon points="2350,492 2405,498 2425,560 2420,690 2405,740 2365,745 2350,640" fill="#41454d"/><ellipse cx="2440" cy="640" rx="20" ry="40" fill="#52575f"/><polygon points="2395,620 2470,650 2545,720 2520,745 2440,700 2390,665" fill="#6a6f78"/><ellipse cx="2489" cy="494" rx="13" ry="11" fill="#3f434c"/><ellipse cx="2551" cy="511" rx="32" ry="33" fill="#3f434c"/><ellipse cx="2370" cy="673" rx="37" ry="20" fill="#3f434c"/><ellipse cx="2317" cy="765" rx="16" ry="22" fill="#3f434c"/><ellipse cx="2497" cy="720" rx="52" ry="22" fill="#50555e"/><ellipse cx="2685" cy="570" rx="7" ry="40" fill="#3f434c"/><ellipse cx="2420" cy="780" rx="60" ry="25" fill="#6a6f78"/><ellipse cx="2275" cy="600" rx="14" ry="190" fill="#777c86"/><polygon points="1943,774 2262,774 2262,804 1943,804" fill="#787d87"/><ellipse cx="2840" cy="460" rx="150" ry="60" fill="#727781"/><polygon points="2692,500 2716,501 2757,581 2772,669 2763,743 2692,743" fill="#3a3e46"/><ellipse cx="2805" cy="615" rx="42" ry="95" fill="#5e636c"/><polygon points="2880,510 2925,515 2920,570 2895,640 2870,700 2840,725 2820,715 2835,640 2860,570" fill="#3a3e46"/><ellipse cx="2950" cy="610" rx="45" ry="100" fill="#5e636c"/><polygon points="2772,698 2957,698 2957,804 2772,804" fill="#363a42"/><ellipse cx="3066" cy="441" rx="9" ry="22" fill="#3f434c"/><ellipse cx="3030" cy="425" rx="50" ry="22" fill="#5a5f68"/><ellipse cx="3000" cy="650" rx="10" ry="15" fill="#50555e"/></g><g filter="url(#bl3)"><ellipse cx="1902" cy="153" rx="32" ry="154" fill="#4e535c" opacity="0.85"/><ellipse cx="1900" cy="150" rx="28" ry="150" fill="url(#pgM)"/><ellipse cx="2022" cy="326" rx="49" ry="50" fill="#4e535c" opacity="0.85"/><ellipse cx="2020" cy="323" rx="45" ry="46" fill="url(#pgL)"/><ellipse cx="2211" cy="353" rx="64" ry="54" fill="#4e535c" opacity="0.85"/><ellipse cx="2209" cy="350" rx="60" ry="50" fill="url(#pgL)"/><ellipse cx="2122" cy="381" rx="59" ry="39" fill="#4e535c" opacity="0.85"/><ellipse cx="2120" cy="378" rx="55" ry="35" fill="url(#pgM)"/><ellipse cx="2272" cy="388" rx="44" ry="34" fill="#4e535c" opacity="0.85"/><ellipse cx="2270" cy="385" rx="40" ry="30" fill="url(#pgM)"/><ellipse cx="2386" cy="101" rx="56" ry="51" fill="#4e535c" opacity="0.85"/><ellipse cx="2384" cy="98" rx="52" ry="47" fill="url(#pgM)"/><ellipse cx="2567" cy="65" rx="40" ry="35" fill="#4e535c" opacity="0.85"/><ellipse cx="2565" cy="62" rx="36" ry="31" fill="url(#pgL)"/><ellipse cx="2627" cy="123" rx="51" ry="44" fill="#4e535c" opacity="0.85"/><ellipse cx="2625" cy="120" rx="47" ry="40" fill="url(#pgM)"/><ellipse cx="2402" cy="216" rx="116" ry="72" fill="#4e535c" transform="rotate(-12 2402 216)" opacity="0.85"/><ellipse cx="2400" cy="213" rx="112" ry="68" fill="url(#pgL)" transform="rotate(-12 2400 213)"/><ellipse cx="2510" cy="290" rx="115" ry="75" fill="url(#pgL)" transform="rotate(-12 2510 290)"/><ellipse cx="2649" cy="272" rx="30" ry="36" fill="#4e535c" opacity="0.85"/><ellipse cx="2647" cy="269" rx="26" ry="32" fill="url(#pgM)"/><ellipse cx="2462" cy="383" rx="84" ry="34" fill="#4e535c" opacity="0.85"/><ellipse cx="2460" cy="380" rx="80" ry="30" fill="url(#pgM)"/><ellipse cx="3003" cy="207" rx="90" ry="200" fill="url(#pgL)"/><ellipse cx="2744" cy="253" rx="42" ry="26" fill="#4e535c" opacity="0.85"/><ellipse cx="2742" cy="250" rx="38" ry="22" fill="url(#pgL)"/><ellipse cx="2850" cy="282" rx="36" ry="35" fill="#4e535c" opacity="0.85"/><ellipse cx="2848" cy="279" rx="32" ry="31" fill="url(#pgL)"/><ellipse cx="2731" cy="326" rx="41" ry="40" fill="#4e535c" opacity="0.85"/><ellipse cx="2729" cy="323" rx="37" ry="36" fill="url(#pgM)"/><ellipse cx="2797" cy="333" rx="44" ry="34" fill="#4e535c" opacity="0.85"/><ellipse cx="2795" cy="330" rx="40" ry="30" fill="url(#pgM)"/><ellipse cx="2942" cy="343" rx="64" ry="64" fill="#4e535c" opacity="0.85"/><ellipse cx="2940" cy="340" rx="60" ry="60" fill="url(#pgL)"/><ellipse cx="2752" cy="388" rx="64" ry="29" fill="#4e535c" opacity="0.85"/><ellipse cx="2750" cy="385" rx="60" ry="25" fill="url(#pgM)"/><ellipse cx="2322" cy="453" rx="34" ry="50" fill="#4e535c" opacity="0.85"/><ellipse cx="2320" cy="450" rx="30" ry="46" fill="url(#pgL)"/><ellipse cx="2324" cy="598" rx="40" ry="107" fill="#4e535c" opacity="0.85"/><ellipse cx="2322" cy="595" rx="36" ry="103" fill="url(#pgL)"/><ellipse cx="2378" cy="453" rx="44" ry="49" fill="#4e535c" opacity="0.85"/><ellipse cx="2376" cy="450" rx="40" ry="45" fill="url(#pgL)"/><ellipse cx="2482" cy="504" rx="62" ry="62" fill="#4e535c" opacity="0.85"/><ellipse cx="2480" cy="501" rx="58" ry="58" fill="url(#pgM)"/><ellipse cx="2489" cy="441" rx="31" ry="29" fill="#4e535c" opacity="0.85"/><ellipse cx="2487" cy="438" rx="27" ry="25" fill="url(#pgL)"/><ellipse cx="2543" cy="451" rx="36" ry="39" fill="#4e535c" opacity="0.85"/><ellipse cx="2541" cy="448" rx="32" ry="35" fill="url(#pgL)"/><ellipse cx="2618" cy="486" rx="49" ry="54" fill="#4e535c" opacity="0.85"/><ellipse cx="2616" cy="483" rx="45" ry="50" fill="url(#pgL)"/><ellipse cx="2491" cy="580" rx="38" ry="37" fill="#4e535c" opacity="0.85"/><ellipse cx="2489" cy="577" rx="34" ry="33" fill="url(#pgL)"/><ellipse cx="2608" cy="670" rx="85" ry="135" fill="url(#pgM)"/><ellipse cx="2562" cy="623" rx="44" ry="44" fill="#4e535c" opacity="0.85"/><ellipse cx="2560" cy="620" rx="40" ry="40" fill="url(#pgL)"/><ellipse cx="2652" cy="613" rx="42" ry="44" fill="#4e535c" opacity="0.85"/><ellipse cx="2650" cy="610" rx="38" ry="40" fill="url(#pgL)"/><ellipse cx="2362" cy="727" rx="36" ry="37" fill="#4e535c" opacity="0.85"/><ellipse cx="2360" cy="724" rx="32" ry="33" fill="url(#pgM)"/><ellipse cx="2562" cy="788" rx="74" ry="29" fill="#4e535c" opacity="0.85"/><ellipse cx="2560" cy="785" rx="70" ry="25" fill="url(#pgM)"/><ellipse cx="2742" cy="778" rx="54" ry="39" fill="#4e535c" opacity="0.85"/><ellipse cx="2740" cy="775" rx="50" ry="35" fill="url(#pgL)"/><ellipse cx="3042" cy="603" rx="64" ry="204" fill="#4e535c" opacity="0.85"/><ellipse cx="3040" cy="600" rx="60" ry="200" fill="url(#pgL)"/><ellipse cx="3047" cy="523" rx="54" ry="34" fill="#4e535c" opacity="0.85"/><ellipse cx="3045" cy="520" rx="50" ry="30" fill="url(#pgL)"/><ellipse cx="3022" cy="733" rx="74" ry="74" fill="#4e535c" opacity="0.85"/><ellipse cx="3020" cy="730" rx="70" ry="70" fill="url(#pgL)"/></g>
<g clip-path="url(#insclip)"><g filter="url(#bl8)"><rect x="1887" y="404" width="375" height="369" fill="#71767f"/><ellipse cx="2070" cy="426" rx="190" ry="24" fill="#686d76"/><ellipse cx="1912" cy="420" rx="30" ry="18" fill="#50555e"/><ellipse cx="1896" cy="525" rx="12" ry="34" fill="#3e424b"/><polygon points="2030,516 2100,512 2161,530 2165,590 2140,634 2080,630 2040,615 2025,580" fill="#40444c"/><ellipse cx="2000" cy="575" rx="28" ry="18" fill="#43474f"/><polygon points="2232,500 2262,500 2262,773 2160,773 2168,700 2215,640 2226,560" fill="#383c44"/><polygon points="2200,669 2262,669 2262,773 2165,773" fill="#31353c"/><ellipse cx="1968" cy="748" rx="40" ry="30" fill="#3f434b"/><ellipse cx="1950" cy="640" rx="45" ry="60" fill="#777c86"/><ellipse cx="2080" cy="690" rx="70" ry="45" fill="#787d87"/><ellipse cx="2180" cy="470" rx="45" ry="40" fill="#767b85"/><ellipse cx="1960" cy="480" rx="50" ry="30" fill="#767b85"/></g></g></g>
<mask id="texmask" maskUnits="userSpaceOnUse" x="1887" y="7.5" width="1207" height="796.5"><rect x="1887" y="7.5" width="1207" height="796.5" fill="#6c717a" filter="url(#mcon)"/><use href="#semtone" filter="url(#mcon)"/></mask>
<g mask="url(#texmask)">
<rect x="1887" y="7.5" width="1207" height="796.5" filter="url(#nzs)" opacity="0.6"/>
<rect x="1887" y="7.5" width="1207" height="796.5" filter="url(#nzd)"/>
<rect x="1887" y="7.5" width="1207" height="796.5" filter="url(#nzl)"/>
</g>
<path d="M1887 405.5 H2262 V772" stroke="#8a8f98" stroke-width="1" fill="none" opacity="0.5"/>
</g>
<rect x="1923" y="40" width="128" height="127" fill="#fff"/>
<text x="1929" y="126" style="font-family:'Liberation Serif','Times New Roman',serif;font-size:97px" fill="#111">(b)</text>
<rect x="2041" y="755" width="220" height="16" fill="#fff"/>
<rect x="2792" y="754" width="194" height="18" fill="#fff"/>
<text x="2100" y="743" style="font-family:'Liberation Serif','Times New Roman',serif;font-weight:bold;font-size:31px" fill="#fff" stroke="#222" stroke-width="1" paint-order="stroke">500 nm</text>
<text x="2820" y="739" style="font-family:'Liberation Serif','Times New Roman',serif;font-weight:bold;font-size:53px" fill="#fff" stroke="#1a1a1a" stroke-width="2.5" paint-order="stroke">2 &#956;m</text>
<g id="pc">
<path d="M136 1486.2h6M136 1449.9h11M136 1413.6h6M136 1377.3h11M136 1341h6M136 1304.7h11M136 1268.4h6M136 1232.1h11M136 1195.8h6M136 1159.5h11M136 1123.2h6M136 1086.9h11M136 1050.6h6M136 1014.3h11M136 978h6M136 941.7h11M136 905.4h6M175.6 1523v-6M215.3 1523v-11M254.9 1523v-6M294.6 1523v-11M334.2 1523v-6M373.8 1523v-11M413.5 1523v-6M453.1 1523v-11M492.8 1523v-6M532.4 1523v-11M572 1523v-6M611.7 1523v-11M651.3 1523v-6M691 1523v-11M730.6 1523v-6M770.2 1523v-11M809.9 1523v-6M849.5 1523v-11M889.2 1523v-6" stroke="#111" stroke-width="4" fill="none"/>
<polyline points="136,932.9 140,945 143.9,961 147.9,972.8 151.9,974.3 155.8,975.7 159.8,978.7 163.7,977.6 167.7,977.6 171.7,977.4 175.6,982.2 179.6,981.3 183.6,982.9 187.5,979.1 191.5,980.1 195.5,984.3 199.4,979.6 203.4,980.4 207.4,982.9 211.3,983.9 215.3,987.2 219.2,987 223.2,982.9 227.2,984.6 231.1,982.7 235.1,981.3 239.1,982.9 243,980.8 247,981.2 251,979.3 254.9,981.5 258.9,980.5 262.8,980.9 266.8,979.6 270.8,980.4 274.7,981.1 278.7,978 282.7,979.1 286.6,981.1 290.6,983 294.6,986.3 298.5,986.2 302.5,985.3 306.5,985.9 310.4,967.4 314.4,970.7 318.3,969.3 322.3,973.2 326.3,971.1 330.2,973 334.2,979.1 338.2,976.8 342.1,971.6 346.1,973.1 350.1,969 354,971.3 358,972.9 361.9,969.3 365.9,968 369.9,970.6 373.8,971.3 377.8,969.2 381.8,964.8 385.7,965.2 389.7,968.2 393.7,966.8 397.6,967.2 401.6,967.1 405.6,962.5 409.5,965.7 413.5,963.1 417.4,962.7 421.4,963.1 425.4,958.9 429.3,961.3 433.3,957.2 437.3,959.9 441.2,957.8 445.2,958.6 449.2,957.9 453.1,953.5 457.1,953.7 461,955.9 465,951.8 469,955 472.9,953.2 476.9,950.9 480.9,952.5 484.8,956 488.8,951.2 492.8,956.1 496.7,956.2 500.7,953.5 504.7,956.5 508.6,957 512.6,958.7 516.5,961 520.5,960.6 524.5,965 528.4,959.7 532.4,957.9 536.4,954.2 540.3,948.1 544.3,950.4 548.3,949.4 552.2,947.3 556.2,950.8 560.1,950.5 564.1,945.7 568.1,945.8 572,948.6 576,948.6 580,945 583.9,943.5 587.9,947.5 591.9,942.7 595.8,942.4 599.8,943.3 603.8,943.6 607.7,944.7 611.7,944.4 615.6,938.3 619.6,941.8 623.6,938.3 627.5,940.2 631.5,936.2 635.5,936.8 639.4,937.8 643.4,937.8 647.4,933.9 651.3,936.9 655.3,935.3 659.2,932.6 663.2,930.2 667.2,930.9 671.1,932.1 675.1,926.6 679.1,928.9 683,928.2 687,924.9 691,922.1 694.9,925 698.9,925.1 702.9,924.7 706.8,924.2 710.8,927.5 714.7,927.4 718.7,925.5 722.7,926.2 726.6,926.8 730.6,925.3 734.6,924.6 738.5,925.9 742.5,925.2 746.5,924 750.4,917.5 754.4,918.4 758.3,916.5 762.3,921.6 766.3,917.7 770.2,918.2 774.2,916.3 778.2,918.2 782.1,913.8 786.1,918.8 790.1,916.9 794,916.7 798,919.4 802,904 805.9,904.8 809.9,904.9 813.8,904.8 817.8,909.4 821.8,908.9 825.7,909 829.7,910.5 833.7,913.5 837.6,911.7 841.6,911.6 845.6,913.7 849.5,913.7 853.5,915.5 857.4,914.7 861.4,914.9 865.4,918.4 869.3,915.5 873.3,913.8 877.3,914.8 881.2,916.1 885.2,918.4 889.2,916.7 893.1,920.7 897.1,924.5 901.1,925.2 905,926 909,918.5 912.9,919 916.9,918.4 920.9,921.8 924.8,926 928.8,926" fill="none" stroke="#e52330" stroke-width="9" stroke-linejoin="round" stroke-linecap="round"/>
<polyline points="136,1088.7 140,1108 143.9,1113.5 147.9,1124.6 151.9,1130.6 155.8,1133.4 159.8,1132 163.7,1135.5 167.7,1136.4 171.7,1132.8 175.6,1135 179.6,1136.6 183.6,1134.4 187.5,1138 191.5,1136.4 195.5,1139.5 199.4,1138.5 203.4,1136.7 207.4,1136.4 211.3,1137 215.3,1140.2 219.2,1139.8 223.2,1142.1 227.2,1143.8 231.1,1142.5 235.1,1141.2 239.1,1140.1 243,1139.8 247,1137.3 251,1140.1 254.9,1139.6 258.9,1137.8 262.8,1138.7 266.8,1138.8 270.8,1137.5 274.7,1136.1 278.7,1136.7 282.7,1137.5 286.6,1134.3 290.6,1133.3 294.6,1136.2 298.5,1137.3 302.5,1136.4 306.5,1130.5 310.4,1134.2 314.4,1129.2 318.3,1130.8 322.3,1133 326.3,1130.9 330.2,1136.2 334.2,1136.2 338.2,1133.6 342.1,1135.4 346.1,1130 350.1,1132.7 354,1132.5 358,1133.5 361.9,1130.4 365.9,1131.9 369.9,1131.2 373.8,1131.4 377.8,1128.1 381.8,1124.8 385.7,1123.9 389.7,1128.6 393.7,1128.8 397.6,1132.3 401.6,1134.2 405.6,1132.4 409.5,1131.9 413.5,1136 417.4,1135.4 421.4,1124.1 425.4,1122.1 429.3,1123.1 433.3,1122.5 437.3,1120.3 441.2,1120.9 445.2,1117.1 449.2,1115 453.1,1118.3 457.1,1113.1 461,1113.9 465,1117 469,1114.8 472.9,1113.4 476.9,1111.4 480.9,1114.1 484.8,1112.6 488.8,1110.5 492.8,1110.6 496.7,1109.4 500.7,1111.8 504.7,1110.3 508.6,1112.6 512.6,1109.2 516.5,1108.6 520.5,1109.7 524.5,1109.2 528.4,1112.2 532.4,1108.2 536.4,1106.6 540.3,1105.5 544.3,1107 548.3,1104.5 552.2,1106.1 556.2,1103 560.1,1103.7 564.1,1107 568.1,1108.9 572,1107.2 576,1106.8 580,1105.7 583.9,1107.5 587.9,1110.3 591.9,1106 595.8,1110.5 599.8,1106.4 603.8,1110.2 607.7,1109.5 611.7,1107 615.6,1110.8 619.6,1110.7 623.6,1108.6 627.5,1107.4 631.5,1106.7 635.5,1108.3 639.4,1107.5 643.4,1110.9 647.4,1109 651.3,1114.7 655.3,1112.5 659.2,1109.3 663.2,1109.2 667.2,1105.2 671.1,1104.2 675.1,1105.3 679.1,1103.8 683,1105.8 687,1107.6 691,1107.6 694.9,1104.1 698.9,1103.1 702.9,1106.4 706.8,1101.9 710.8,1100.5 714.7,1102.7 718.7,1102.1 722.7,1103.9 726.6,1101.6 730.6,1101.4 734.6,1100.6 738.5,1103.8 742.5,1098.1 746.5,1100.6 750.4,1101.1 754.4,1098.6 758.3,1099.8 762.3,1100 766.3,1098.7 770.2,1102.1 774.2,1098.8 778.2,1099 782.1,1095.3 786.1,1095 790.1,1098.2 794,1096.5 798,1098 802,1095.6 805.9,1092.9 809.9,1091.8 813.8,1093.2 817.8,1093 821.8,1092.7 825.7,1089.1 829.7,1086.2 833.7,1089.8 837.6,1084.9 841.6,1088.2 845.6,1086.1 849.5,1084.9 853.5,1082.5 857.4,1085 861.4,1085.2 865.4,1084 869.3,1087.4 873.3,1084.8 877.3,1089.5 881.2,1088.3 885.2,1090.9 889.2,1092.3 893.1,1089.3 897.1,1088.7 901.1,1088 905,1086.7 909,1084.9 912.9,1086.3 916.9,1085.4 920.9,1082.1 924.8,1081.4 928.8,1081.3" fill="none" stroke="#2a9446" stroke-width="9" stroke-linejoin="round" stroke-linecap="round"/>
<polyline points="136,1237.3 140,1253.2 143.9,1250 147.9,1251.8 151.9,1247 155.8,1244.8 159.8,1244.1 163.7,1247.3 167.7,1247.2 171.7,1243.4 175.6,1247.3 179.6,1242.6 183.6,1243.1 187.5,1247.3 191.5,1246.5 195.5,1243.5 199.4,1246.6 203.4,1247.9 207.4,1244 211.3,1246.7 215.3,1244.9 219.2,1248.1 223.2,1245.7 227.2,1243.4 231.1,1246.5 235.1,1244.7 239.1,1241.2 243,1239.1 247,1238.1 251,1242.3 254.9,1239.3 258.9,1238.2 262.8,1240.1 266.8,1239.4 270.8,1242.6 274.7,1243.7 278.7,1242 282.7,1241 286.6,1236.5 290.6,1235.3 294.6,1233.5 298.5,1235.8 302.5,1235.4 306.5,1235.1 310.4,1231.2 314.4,1230.2 318.3,1230.3 322.3,1235 326.3,1235 330.2,1229.7 334.2,1232.3 338.2,1230.6 342.1,1233.1 346.1,1232.3 350.1,1232 354,1232.5 358,1231.5 361.9,1234.9 365.9,1230.9 369.9,1230.1 373.8,1234 377.8,1232 381.8,1230 385.7,1231.6 389.7,1232.4 393.7,1232.2 397.6,1229.8 401.6,1232.4 405.6,1226.9 409.5,1227.1 413.5,1227.3 417.4,1225.6 421.4,1226.3 425.4,1226.8 429.3,1225 433.3,1224.8 437.3,1221.7 441.2,1222.3 445.2,1225.2 449.2,1221 453.1,1221.6 457.1,1221.2 461,1220.8 465,1223 469,1220 472.9,1219.9 476.9,1220.8 480.9,1220.2 484.8,1220 488.8,1221.9 492.8,1219.9 496.7,1223.3 500.7,1221.4 504.7,1220.3 508.6,1222.6 512.6,1220.2 516.5,1218.2 520.5,1217.9 524.5,1219.9 528.4,1215.4 532.4,1216.6 536.4,1219.7 540.3,1219.1 544.3,1220.8 548.3,1222.8 552.2,1225.5 556.2,1221.2 560.1,1222.6 564.1,1221.5 568.1,1220.4 572,1218.4 576,1224 580,1220.5 583.9,1219.8 587.9,1222.6 591.9,1221.8 595.8,1223.8 599.8,1223 603.8,1221.9 607.7,1223.5 611.7,1222.7 615.6,1218.5 619.6,1220.2 623.6,1220.1 627.5,1217 631.5,1219 635.5,1216.2 639.4,1217.9 643.4,1216.5 647.4,1220.4 651.3,1217 655.3,1215.8 659.2,1219.7 663.2,1214.3 667.2,1218.5 671.1,1216.4 675.1,1217.9 679.1,1215.8 683,1217.4 687,1222.9 691,1220 694.9,1225.3 698.9,1222.9 702.9,1220.6 706.8,1220.2 710.8,1218.8 714.7,1215.2 718.7,1214.3 722.7,1214.5 726.6,1210.5 730.6,1211.5 734.6,1212.6 738.5,1210.7 742.5,1211.3 746.5,1210.1 750.4,1206.1 754.4,1207.7 758.3,1204.2 762.3,1204.5 766.3,1208 770.2,1202 774.2,1202.7 778.2,1208.1 782.1,1203.6 786.1,1206.7 790.1,1206.8 794,1203.2 798,1206.7 802,1204.4 805.9,1201.2 809.9,1201.8 813.8,1203.2 817.8,1200.3 821.8,1201.2 825.7,1202.5 829.7,1205.3 833.7,1202.3 837.6,1203.3 841.6,1204.8 845.6,1205.7 849.5,1202.9 853.5,1205.1 857.4,1203 861.4,1201.5 865.4,1202.6 869.3,1203.5 873.3,1201.5 877.3,1202.3 881.2,1200 885.2,1201.2 889.2,1198.4 893.1,1198.8 897.1,1200.2 901.1,1203.3 905,1204.2 909,1199.9 912.9,1200.7 916.9,1201.8 920.9,1203.5 924.8,1204.2 928.8,1202" fill="none" stroke="#6e9128" stroke-width="9" stroke-linejoin="round" stroke-linecap="round"/>
<polyline points="136,1318.8 140,1324.1 143.9,1326.2 147.9,1327.7 151.9,1330.1 155.8,1328.8 159.8,1323.7 163.7,1322.3 167.7,1320.7 171.7,1323.7 175.6,1321.8 179.6,1319.8 183.6,1318.2 187.5,1316.3 191.5,1318.6 195.5,1315.3 199.4,1318.4 203.4,1318.7 207.4,1315.7 211.3,1316.7 215.3,1316.6 219.2,1317.4 223.2,1316.1 227.2,1316.9 231.1,1315.4 235.1,1312.4 239.1,1311.4 243,1315.5 247,1314.9 251,1310.5 254.9,1311.2 258.9,1310.4 262.8,1313.6 266.8,1312.4 270.8,1313.4 274.7,1310.2 278.7,1311.6 282.7,1308.9 286.6,1305.9 290.6,1308.6 294.6,1306.2 298.5,1309.6 302.5,1313.1 306.5,1314.2 310.4,1312.7 314.4,1312.5 318.3,1307.8 322.3,1312.2 326.3,1312 330.2,1309 334.2,1309.3 338.2,1308 342.1,1310 346.1,1307.1 350.1,1311 354,1310 358,1306.7 361.9,1309.3 365.9,1307.3 369.9,1304.1 373.8,1303.6 377.8,1305.7 381.8,1306.2 385.7,1304.6 389.7,1302.2 393.7,1304 397.6,1305.1 401.6,1304.7 405.6,1308.5 409.5,1309.5 413.5,1307.6 417.4,1305.9 421.4,1306.9 425.4,1304.3 429.3,1306.7 433.3,1306.2 437.3,1305.3 441.2,1301.7 445.2,1301.5 449.2,1304.8 453.1,1303.7 457.1,1303.2 461,1302.8 465,1302.1 469,1301.7 472.9,1306.5 476.9,1308 480.9,1304.2 484.8,1303.3 488.8,1299.1 492.8,1300.1 496.7,1301.7 500.7,1297.8 504.7,1296.4 508.6,1299.3 512.6,1300.2 516.5,1297.3 520.5,1297.2 524.5,1297 528.4,1294.7 532.4,1296.6 536.4,1295.3 540.3,1299.2 544.3,1296.1 548.3,1294.3 552.2,1298 556.2,1297.7 560.1,1293.5 564.1,1292.2 568.1,1296.6 572,1293 576,1295.5 580,1291.7 583.9,1291.9 587.9,1293.8 591.9,1293.6 595.8,1290.1 599.8,1291.1 603.8,1289.4 607.7,1291.2 611.7,1291.1 615.6,1287.5 619.6,1289.2 623.6,1290.2 627.5,1290 631.5,1288.9 635.5,1289 639.4,1290.9 643.4,1297.1 647.4,1297.8 651.3,1301.9 655.3,1298.4 659.2,1296.3 663.2,1293.7 667.2,1293.1 671.1,1292.4 675.1,1294 679.1,1294.4 683,1293.1 687,1292.3 691,1294.3 694.9,1294 698.9,1295.4 702.9,1291.7 706.8,1290.1 710.8,1293.4 714.7,1294.4 718.7,1293.9 722.7,1292.4 726.6,1292.3 730.6,1287.5 734.6,1291.8 738.5,1289.5 742.5,1283.3 746.5,1282.1 750.4,1283.1 754.4,1286.5 758.3,1287 762.3,1284.6 766.3,1283.8 770.2,1281.8 774.2,1286.7 778.2,1286.2 782.1,1285.6 786.1,1285.3 790.1,1285.1 794,1282.1 798,1282.7 802,1284.8 805.9,1284.9 809.9,1284.2 813.8,1284.6 817.8,1280.9 821.8,1283.3 825.7,1281.7 829.7,1279.9 833.7,1281.6 837.6,1282.6 841.6,1278.7 845.6,1278.3 849.5,1281.4 853.5,1280 857.4,1277.4 861.4,1279.9 865.4,1281.2 869.3,1281.9 873.3,1276.4 877.3,1276.9 881.2,1279.1 885.2,1277.9 889.2,1277.7 893.1,1278.8 897.1,1274.3 901.1,1276 905,1278.1 909,1279.1 912.9,1276.1 916.9,1276.4 920.9,1273.6 924.8,1273.8 928.8,1274.1" fill="none" stroke="#2c45b4" stroke-width="9" stroke-linejoin="round" stroke-linecap="round"/>
<polyline points="136,1486.6 140,1492 143.9,1494.6 147.9,1495.2 151.9,1495.2 155.8,1496.2 159.8,1496 163.7,1495.6 167.7,1496.4 171.7,1496.1 175.6,1496.6 179.6,1495.9 183.6,1496.7 187.5,1495.8 191.5,1495.8 195.5,1495.8 199.4,1496.6 203.4,1496.4 207.4,1495.9 211.3,1496.6 215.3,1496.2 219.2,1496.1 223.2,1495.4 227.2,1495.6 231.1,1495.1 235.1,1495.6 239.1,1494.9 243,1495.1 247,1494.4 251,1495.2 254.9,1494.2 258.9,1494.7 262.8,1494.2 266.8,1494 270.8,1494.3 274.7,1493.4 278.7,1493.8 282.7,1493.6 286.6,1493.7 290.6,1493.3 294.6,1493 298.5,1492.5 302.5,1492.6 306.5,1492 310.4,1492.4 314.4,1491.9 318.3,1491.6 322.3,1490.8 326.3,1490.7 330.2,1490.7 334.2,1491.2 338.2,1490.6 342.1,1490 346.1,1490.3 350.1,1489.7 354,1489.6 358,1489.8 361.9,1488.5 365.9,1488.5 369.9,1488.9 373.8,1488.3 377.8,1488.4 381.8,1488.1 385.7,1487.7 389.7,1487.8 393.7,1487.6 397.6,1487.3 401.6,1486.8 405.6,1487 409.5,1486.9 413.5,1486.1 417.4,1486.4 421.4,1485.5 425.4,1485.7 429.3,1485.3 433.3,1485.6 437.3,1484.8 441.2,1485.4 445.2,1485.2 449.2,1485 453.1,1484.2 457.1,1484 461,1484.4 465,1483.9 469,1483.3 472.9,1483.4 476.9,1483.7 480.9,1483.4 484.8,1483.3 488.8,1483.2 492.8,1482.7 496.7,1482.9 500.7,1481.7 504.7,1482.1 508.6,1481.8 512.6,1481.5 516.5,1481.2 520.5,1480.9 524.5,1481.2 528.4,1481.1 532.4,1480.9 536.4,1481.1 540.3,1480.5 544.3,1480 548.3,1479.5 552.2,1479.5 556.2,1479.4 560.1,1479.3 564.1,1479.7 568.1,1479.2 572,1479 576,1478.5 580,1478.9 583.9,1478.4 587.9,1478 591.9,1477.5 595.8,1477.3 599.8,1477.3 603.8,1477.6 607.7,1476.8 611.7,1476.4 615.6,1476.6 619.6,1476.7 623.6,1476.3 627.5,1476.5 631.5,1475.7 635.5,1475.2 639.4,1475.5 643.4,1475.1 647.4,1474.8 651.3,1475.3 655.3,1474.3 659.2,1474.5 663.2,1474.8 667.2,1474.7 671.1,1474.4 675.1,1473.8 679.1,1473.5 683,1473.8 687,1473 691,1473.4 694.9,1473.1 698.9,1473.3 702.9,1472.2 706.8,1473 710.8,1472 714.7,1472.2 718.7,1472 722.7,1471.8 726.6,1472 730.6,1471.1 734.6,1470.9 738.5,1470.9 742.5,1470.9 746.5,1471.3 750.4,1470.4 754.4,1470.8 758.3,1469.9 762.3,1470.5 766.3,1470 770.2,1469.5 774.2,1470 778.2,1469.4 782.1,1469.8 786.1,1469.6 790.1,1469.3 794,1468.2 798,1468.1 802,1468.2 805.9,1468.4 809.9,1467.9 813.8,1467.6 817.8,1467.8 821.8,1467.4 825.7,1467 829.7,1467.7 833.7,1467.3 837.6,1466.8 841.6,1467 845.6,1466.5 849.5,1466.2 853.5,1466.5 857.4,1465.9 861.4,1466.1 865.4,1465.6 869.3,1465.7 873.3,1465.3 877.3,1465.8 881.2,1465 885.2,1465.4 889.2,1464.4 893.1,1464.6 897.1,1464.6 901.1,1464.6 905,1464.2 909,1464 912.9,1463.8 916.9,1463.6 920.9,1463.8 924.8,1463.1 928.8,1463.1" fill="none" stroke="#111111" stroke-width="10" stroke-linejoin="round" stroke-linecap="round"/>
<rect x="136" y="884" width="793" height="639" fill="none" stroke="#111" stroke-width="5"/>
<g style="font-family:'Liberation Serif','Times New Roman',serif;font-weight:bold;font-size:27px" fill="#111"><text x="124" y="1532" text-anchor="end">0</text><text x="124" y="1459.4" text-anchor="end">40</text><text x="124" y="1386.8" text-anchor="end">80</text><text x="124" y="1314.2" text-anchor="end">120</text><text x="124" y="1241.6" text-anchor="end">160</text><text x="124" y="1169" text-anchor="end">200</text><text x="124" y="1096.4" text-anchor="end">240</text><text x="124" y="1023.8" text-anchor="end">280</text><text x="124" y="951.2" text-anchor="end">320</text><text x="136" y="1559" text-anchor="middle">0</text><text x="215.3" y="1559" text-anchor="middle">20</text><text x="294.6" y="1559" text-anchor="middle">40</text><text x="373.8" y="1559" text-anchor="middle">60</text><text x="453.1" y="1559" text-anchor="middle">80</text><text x="532.4" y="1559" text-anchor="middle">100</text><text x="611.7" y="1559" text-anchor="middle">120</text><text x="691" y="1559" text-anchor="middle">140</text><text x="770.2" y="1559" text-anchor="middle">160</text><text x="849.5" y="1559" text-anchor="middle">180</text><text x="928.8" y="1559" text-anchor="middle">200</text></g>
<text x="532" y="1619" text-anchor="middle" style="font-family:'Liberation Serif','Times New Roman',serif;font-weight:bold;font-size:41.5px" fill="#111">Cycle Number</text>
<text transform="translate(68,1210) rotate(-90)" text-anchor="middle" style="font-family:'Liberation Serif','Times New Roman',serif;font-weight:bold;font-size:43.5px" fill="#111">Specific Capacity(mAh/g)</text>
<g style="font-family:'Liberation Serif','Times New Roman',serif;font-weight:bold;font-size:36px" fill="#111"><text x="921" y="977" text-anchor="end">HS-V<tspan dy="11">2</tspan><tspan dy="-11">O</tspan><tspan dy="11">3</tspan><tspan dy="-11">@C3</tspan></text><text x="921" y="1063" text-anchor="end">HS-V<tspan dy="11">2</tspan><tspan dy="-11">O</tspan><tspan dy="11">3</tspan><tspan dy="-11">@C4</tspan></text><text x="919" y="1183" text-anchor="end">HS-V<tspan dy="11">2</tspan><tspan dy="-11">O</tspan><tspan dy="11">3</tspan><tspan dy="-11">@C2</tspan></text><text x="911" y="1338" text-anchor="end">HS-V<tspan dy="11">2</tspan><tspan dy="-11">O</tspan><tspan dy="11">3</tspan><tspan dy="-11">@C1</tspan></text><text x="913" y="1438" text-anchor="end">HS-V<tspan dy="11">2</tspan><tspan dy="-11">O</tspan><tspan dy="11">3</tspan><tspan dy="-11">&#8203;</tspan></text></g>
<text x="2" y="903" style="font-family:'Liberation Serif','Times New Roman',serif;font-size:99px" fill="#111">(c)</text>
</g>
<g id="pd">
<path d="M1188.2 885.5V1525M1254.4 885.5V1525M1320.5 885.5V1525M1386.7 885.5V1525M1452.9 885.5V1525M1519.1 885.5V1525M1585.3 885.5V1525M1651.4 885.5V1525M1717.6 885.5V1525M1783.8 885.5V1525M1850 885.5V1525" stroke="#8c8c8c" stroke-width="1.8" stroke-dasharray="3.5 3.5" fill="none"/>
<path d="M1122 1480.5h6M1122 1436.2h11M1122 1391.9h6M1122 1347.6h11M1122 1303.3h6M1122 1259h11M1122 1214.7h6M1122 1170.4h11M1122 1126.1h6M1122 1081.8h11M1122 1037.5h6M1122 993.2h11M1122 948.9h6M1122 904.6h11M1155.1 1525v-6M1188.2 1525v-11M1221.3 1525v-6M1254.4 1525v-11M1287.5 1525v-6M1320.5 1525v-11M1353.6 1525v-6M1386.7 1525v-11M1419.8 1525v-6M1452.9 1525v-11M1486 1525v-6M1519.1 1525v-11M1552.2 1525v-6M1585.3 1525v-11M1618.3 1525v-6M1651.4 1525v-11M1684.5 1525v-6M1717.6 1525v-11M1750.7 1525v-6M1783.8 1525v-11M1816.9 1525v-6M1850 1525v-11M1883.1 1525v-6" stroke="#111" stroke-width="4" fill="none"/>
<g fill="#111111"><polygon points="1141.5,1443.3 1126.7,1434.8 1126.7,1451.8"/><polygon points="1152.6,1448.6 1137.7,1440.1 1137.7,1457.1"/><polygon points="1163.6,1450.4 1148.7,1441.9 1148.7,1458.9"/><polygon points="1174.6,1450.4 1159.7,1441.9 1159.7,1458.9"/><polygon points="1185.7,1450.4 1170.8,1441.9 1170.8,1458.9"/><polygon points="1196.7,1452.1 1181.8,1443.6 1181.8,1460.6"/><polygon points="1207.7,1455.7 1192.8,1447.2 1192.8,1464.2"/><polygon points="1218.7,1455.7 1203.9,1447.2 1203.9,1464.2"/><polygon points="1229.8,1455.7 1214.9,1447.2 1214.9,1464.2"/><polygon points="1240.8,1455.7 1225.9,1447.2 1225.9,1464.2"/><polygon points="1251.8,1455.7 1237,1447.2 1237,1464.2"/><polygon points="1262.9,1457.5 1248,1449 1248,1466"/><polygon points="1273.9,1462.8 1259,1454.3 1259,1471.3"/><polygon points="1284.9,1462.8 1270,1454.3 1270,1471.3"/><polygon points="1296,1462.8 1281.1,1454.3 1281.1,1471.3"/><polygon points="1307,1462.8 1292.1,1454.3 1292.1,1471.3"/><polygon points="1318,1462.8 1303.1,1454.3 1303.1,1471.3"/><polygon points="1329,1464.6 1314.2,1456.1 1314.2,1473.1"/><polygon points="1340.1,1468.1 1325.2,1459.6 1325.2,1476.6"/><polygon points="1351.1,1469.9 1336.2,1461.4 1336.2,1478.4"/><polygon points="1362.1,1469.9 1347.3,1461.4 1347.3,1478.4"/><polygon points="1373.2,1469.9 1358.3,1461.4 1358.3,1478.4"/><polygon points="1384.2,1469.9 1369.3,1461.4 1369.3,1478.4"/><polygon points="1395.2,1469.9 1380.3,1461.4 1380.3,1478.4"/><polygon points="1406.2,1489.4 1391.4,1480.9 1391.4,1497.9"/><polygon points="1417.3,1491.1 1402.4,1482.6 1402.4,1499.6"/><polygon points="1428.3,1491.1 1413.4,1482.6 1413.4,1499.6"/><polygon points="1439.3,1491.1 1424.5,1482.6 1424.5,1499.6"/><polygon points="1450.4,1491.1 1435.5,1482.6 1435.5,1499.6"/><polygon points="1461.4,1491.1 1446.5,1482.6 1446.5,1499.6"/><polygon points="1472.4,1505.3 1457.6,1496.8 1457.6,1513.8"/><polygon points="1483.5,1507.1 1468.6,1498.6 1468.6,1515.6"/><polygon points="1494.5,1507.1 1479.6,1498.6 1479.6,1515.6"/><polygon points="1505.5,1507.1 1490.6,1498.6 1490.6,1515.6"/><polygon points="1516.5,1507.1 1501.7,1498.6 1501.7,1515.6"/><polygon points="1527.6,1507.1 1512.7,1498.6 1512.7,1515.6"/><polygon points="1538.6,1519.5 1523.7,1511 1523.7,1528"/><polygon points="1549.6,1519.5 1534.8,1511 1534.8,1528"/><polygon points="1560.7,1519.5 1545.8,1511 1545.8,1528"/><polygon points="1571.7,1519.5 1556.8,1511 1556.8,1528"/><polygon points="1582.7,1519.5 1567.9,1511 1567.9,1528"/><polygon points="1593.8,1519.5 1578.9,1511 1578.9,1528"/><polygon points="1671,1450.4 1656.1,1441.9 1656.1,1458.9"/><polygon points="1682,1450.4 1667.1,1441.9 1667.1,1458.9"/><polygon points="1693,1443.3 1678.2,1434.8 1678.2,1451.8"/><polygon points="1704.1,1441.5 1689.2,1433 1689.2,1450"/><polygon points="1715.1,1441.5 1700.2,1433 1700.2,1450"/><polygon points="1726.1,1441.5 1711.2,1433 1711.2,1450"/><polygon points="1737.2,1441.5 1722.3,1433 1722.3,1450"/><polygon points="1748.2,1441.5 1733.3,1433 1733.3,1450"/><polygon points="1759.2,1441.5 1744.3,1433 1744.3,1450"/><polygon points="1770.2,1443.3 1755.4,1434.8 1755.4,1451.8"/><polygon points="1781.3,1443.3 1766.4,1434.8 1766.4,1451.8"/><polygon points="1792.3,1438 1777.4,1429.5 1777.4,1446.5"/><polygon points="1803.3,1453.9 1788.5,1445.4 1788.5,1462.4"/><polygon points="1814.4,1453.9 1799.5,1445.4 1799.5,1462.4"/><polygon points="1825.4,1453.9 1810.5,1445.4 1810.5,1462.4"/><polygon points="1836.4,1453.9 1821.5,1445.4 1821.5,1462.4"/><polygon points="1847.4,1453.9 1832.6,1445.4 1832.6,1462.4"/><polygon points="1858.5,1453.9 1843.6,1445.4 1843.6,1462.4"/><polygon points="1869.5,1453.9 1854.6,1445.4 1854.6,1462.4"/><polygon points="1880.5,1453.9 1865.7,1445.4 1865.7,1462.4"/><polygon points="1891.6,1450.4 1876.7,1441.9 1876.7,1458.9"/><polygon points="1902.6,1453.9 1887.7,1445.4 1887.7,1462.4"/><polygon points="1913.6,1453.9 1898.8,1445.4 1898.8,1462.4"/><polygon points="1924.7,1453.9 1909.8,1445.4 1909.8,1462.4"/></g>
<g fill="#3a4fb8"><polygon points="1133,1335.6 1141.5,1350.4 1124.5,1350.4"/><polygon points="1144.1,1346.2 1152.6,1361.1 1135.6,1361.1"/><polygon points="1155.1,1348 1163.6,1362.8 1146.6,1362.8"/><polygon points="1166.1,1349.7 1174.6,1364.6 1157.6,1364.6"/><polygon points="1177.2,1349.7 1185.7,1364.6 1168.7,1364.6"/><polygon points="1188.2,1351.5 1196.7,1366.4 1179.7,1366.4"/><polygon points="1199.2,1376.3 1207.7,1391.2 1190.7,1391.2"/><polygon points="1210.2,1374.5 1218.7,1389.4 1201.7,1389.4"/><polygon points="1221.3,1374.5 1229.8,1389.4 1212.8,1389.4"/><polygon points="1232.3,1374.5 1240.8,1389.4 1223.8,1389.4"/><polygon points="1243.3,1374.5 1251.8,1389.4 1234.8,1389.4"/><polygon points="1254.4,1372.8 1262.9,1387.6 1245.9,1387.6"/><polygon points="1265.4,1385.2 1273.9,1400 1256.9,1400"/><polygon points="1276.4,1385.2 1284.9,1400 1267.9,1400"/><polygon points="1287.5,1386.9 1296,1401.8 1279,1401.8"/><polygon points="1298.5,1386.9 1307,1401.8 1290,1401.8"/><polygon points="1309.5,1385.2 1318,1400 1301,1400"/><polygon points="1320.5,1386.9 1329,1401.8 1312,1401.8"/><polygon points="1331.6,1392.3 1340.1,1407.1 1323.1,1407.1"/><polygon points="1342.6,1394 1351.1,1408.9 1334.1,1408.9"/><polygon points="1353.6,1394 1362.1,1408.9 1345.1,1408.9"/><polygon points="1364.7,1395.8 1373.2,1410.7 1356.2,1410.7"/><polygon points="1375.7,1395.8 1384.2,1410.7 1367.2,1410.7"/><polygon points="1386.7,1395.8 1395.2,1410.7 1378.2,1410.7"/><polygon points="1397.8,1420.6 1406.2,1435.5 1389.2,1435.5"/><polygon points="1408.8,1420.6 1417.3,1435.5 1400.3,1435.5"/><polygon points="1419.8,1420.6 1428.3,1435.5 1411.3,1435.5"/><polygon points="1430.8,1422.4 1439.3,1437.3 1422.3,1437.3"/><polygon points="1441.9,1422.4 1450.4,1437.3 1433.4,1437.3"/><polygon points="1452.9,1420.6 1461.4,1435.5 1444.4,1435.5"/><polygon points="1463.9,1438.3 1472.4,1453.2 1455.4,1453.2"/><polygon points="1475,1438.3 1483.5,1453.2 1466.5,1453.2"/><polygon points="1486,1438.3 1494.5,1453.2 1477.5,1453.2"/><polygon points="1497,1440.1 1505.5,1455 1488.5,1455"/><polygon points="1508,1443.6 1516.5,1458.5 1499.5,1458.5"/><polygon points="1519.1,1445.4 1527.6,1460.3 1510.6,1460.3"/><polygon points="1530.1,1464.9 1538.6,1479.8 1521.6,1479.8"/><polygon points="1541.1,1464.9 1549.6,1479.8 1532.6,1479.8"/><polygon points="1552.2,1464.9 1560.7,1479.8 1543.7,1479.8"/><polygon points="1563.2,1464.9 1571.7,1479.8 1554.7,1479.8"/><polygon points="1574.2,1464.9 1582.7,1479.8 1565.7,1479.8"/><polygon points="1585.3,1464.9 1593.8,1479.8 1576.8,1479.8"/><polygon points="1596.3,1486.2 1604.8,1501.1 1587.8,1501.1"/><polygon points="1607.3,1486.2 1615.8,1501.1 1598.8,1501.1"/><polygon points="1618.3,1486.2 1626.8,1501.1 1609.8,1501.1"/><polygon points="1629.4,1486.2 1637.9,1501.1 1620.9,1501.1"/><polygon points="1640.4,1486.2 1648.9,1501.1 1631.9,1501.1"/><polygon points="1651.4,1486.2 1659.9,1501.1 1642.9,1501.1"/><polygon points="1662.5,1371 1671,1385.9 1654,1385.9"/><polygon points="1673.5,1367.5 1682,1382.3 1665,1382.3"/><polygon points="1684.5,1365.7 1693,1380.6 1676,1380.6"/><polygon points="1695.6,1362.1 1704.1,1377 1687.1,1377"/><polygon points="1706.6,1358.6 1715.1,1373.5 1698.1,1373.5"/><polygon points="1717.6,1356.8 1726.1,1371.7 1709.1,1371.7"/><polygon points="1728.7,1355 1737.2,1369.9 1720.2,1369.9"/><polygon points="1739.7,1353.3 1748.2,1368.2 1731.2,1368.2"/><polygon points="1750.7,1351.5 1759.2,1366.4 1742.2,1366.4"/><polygon points="1761.7,1351.5 1770.2,1366.4 1753.2,1366.4"/><polygon points="1772.8,1349.7 1781.3,1364.6 1764.3,1364.6"/><polygon points="1783.8,1348 1792.3,1362.8 1775.3,1362.8"/><polygon points="1794.8,1348 1803.3,1362.8 1786.3,1362.8"/><polygon points="1805.9,1346.2 1814.4,1361.1 1797.4,1361.1"/><polygon points="1816.9,1346.2 1825.4,1361.1 1808.4,1361.1"/><polygon points="1827.9,1346.2 1836.4,1361.1 1819.4,1361.1"/><polygon points="1838.9,1346.2 1847.4,1361.1 1830.4,1361.1"/><polygon points="1850,1346.2 1858.5,1361.1 1841.5,1361.1"/><polygon points="1861,1346.2 1869.5,1361.1 1852.5,1361.1"/><polygon points="1872,1346.2 1880.5,1361.1 1863.5,1361.1"/><polygon points="1883.1,1346.2 1891.6,1361.1 1874.6,1361.1"/><polygon points="1894.1,1346.2 1902.6,1361.1 1885.6,1361.1"/><polygon points="1905.1,1344.4 1913.6,1359.3 1896.6,1359.3"/><polygon points="1916.2,1344.4 1924.7,1359.3 1907.7,1359.3"/></g>
<g fill="#6b8a23"><polygon points="1133,1189.8 1142,1198.8 1133,1207.8 1124,1198.8"/><polygon points="1144.1,1203.9 1153.1,1212.9 1144.1,1221.9 1135.1,1212.9"/><polygon points="1155.1,1207.5 1164.1,1216.5 1155.1,1225.5 1146.1,1216.5"/><polygon points="1166.1,1209.2 1175.1,1218.2 1166.1,1227.2 1157.1,1218.2"/><polygon points="1177.2,1211 1186.2,1220 1177.2,1229 1168.2,1220"/><polygon points="1188.2,1214.6 1197.2,1223.6 1188.2,1232.6 1179.2,1223.6"/><polygon points="1199.2,1258.9 1208.2,1267.9 1199.2,1276.9 1190.2,1267.9"/><polygon points="1210.2,1260.6 1219.2,1269.6 1210.2,1278.6 1201.2,1269.6"/><polygon points="1221.3,1262.4 1230.3,1271.4 1221.3,1280.4 1212.3,1271.4"/><polygon points="1232.3,1262.4 1241.3,1271.4 1232.3,1280.4 1223.3,1271.4"/><polygon points="1243.3,1260.6 1252.3,1269.6 1243.3,1278.6 1234.3,1269.6"/><polygon points="1254.4,1264.2 1263.4,1273.2 1254.4,1282.2 1245.4,1273.2"/><polygon points="1265.4,1289 1274.4,1298 1265.4,1307 1256.4,1298"/><polygon points="1276.4,1290.8 1285.4,1299.8 1276.4,1308.8 1267.4,1299.8"/><polygon points="1287.5,1290.8 1296.5,1299.8 1287.5,1308.8 1278.5,1299.8"/><polygon points="1298.5,1290.8 1307.5,1299.8 1298.5,1308.8 1289.5,1299.8"/><polygon points="1309.5,1290.8 1318.5,1299.8 1309.5,1308.8 1300.5,1299.8"/><polygon points="1320.5,1289 1329.5,1298 1320.5,1307 1311.5,1298"/><polygon points="1331.6,1306.7 1340.6,1315.7 1331.6,1324.7 1322.6,1315.7"/><polygon points="1342.6,1308.5 1351.6,1317.5 1342.6,1326.5 1333.6,1317.5"/><polygon points="1353.6,1310.2 1362.6,1319.2 1353.6,1328.2 1344.6,1319.2"/><polygon points="1364.7,1313.8 1373.7,1322.8 1364.7,1331.8 1355.7,1322.8"/><polygon points="1375.7,1315.6 1384.7,1324.6 1375.7,1333.6 1366.7,1324.6"/><polygon points="1386.7,1315.6 1395.7,1324.6 1386.7,1333.6 1377.7,1324.6"/><polygon points="1397.8,1361.6 1406.8,1370.6 1397.8,1379.6 1388.8,1370.6"/><polygon points="1408.8,1363.4 1417.8,1372.4 1408.8,1381.4 1399.8,1372.4"/><polygon points="1419.8,1363.4 1428.8,1372.4 1419.8,1381.4 1410.8,1372.4"/><polygon points="1430.8,1361.6 1439.8,1370.6 1430.8,1379.6 1421.8,1370.6"/><polygon points="1441.9,1359.9 1450.9,1368.9 1441.9,1377.9 1432.9,1368.9"/><polygon points="1452.9,1358.1 1461.9,1367.1 1452.9,1376.1 1443.9,1367.1"/><polygon points="1463.9,1397.1 1472.9,1406.1 1463.9,1415.1 1454.9,1406.1"/><polygon points="1475,1398.8 1484,1407.8 1475,1416.8 1466,1407.8"/><polygon points="1486,1402.4 1495,1411.4 1486,1420.4 1477,1411.4"/><polygon points="1497,1404.2 1506,1413.2 1497,1422.2 1488,1413.2"/><polygon points="1508,1405.9 1517,1414.9 1508,1423.9 1499,1414.9"/><polygon points="1519.1,1407.7 1528.1,1416.7 1519.1,1425.7 1510.1,1416.7"/><polygon points="1530.1,1439.6 1539.1,1448.6 1530.1,1457.6 1521.1,1448.6"/><polygon points="1541.1,1452 1550.1,1461 1541.1,1470 1532.1,1461"/><polygon points="1552.2,1453.8 1561.2,1462.8 1552.2,1471.8 1543.2,1462.8"/><polygon points="1563.2,1453.8 1572.2,1462.8 1563.2,1471.8 1554.2,1462.8"/><polygon points="1574.2,1452 1583.2,1461 1574.2,1470 1565.2,1461"/><polygon points="1585.3,1448.5 1594.3,1457.5 1585.3,1466.5 1576.3,1457.5"/><polygon points="1596.3,1485.7 1605.3,1494.7 1596.3,1503.7 1587.3,1494.7"/><polygon points="1607.3,1492.8 1616.3,1501.8 1607.3,1510.8 1598.3,1501.8"/><polygon points="1618.3,1492.8 1627.3,1501.8 1618.3,1510.8 1609.3,1501.8"/><polygon points="1629.4,1489.2 1638.4,1498.2 1629.4,1507.2 1620.4,1498.2"/><polygon points="1640.4,1492.8 1649.4,1501.8 1640.4,1510.8 1631.4,1501.8"/><polygon points="1651.4,1489.2 1660.4,1498.2 1651.4,1507.2 1642.4,1498.2"/><polygon points="1662.5,1258.9 1671.5,1267.9 1662.5,1276.9 1653.5,1267.9"/><polygon points="1673.5,1255.3 1682.5,1264.3 1673.5,1273.3 1664.5,1264.3"/><polygon points="1684.5,1253.5 1693.5,1262.5 1684.5,1271.5 1675.5,1262.5"/><polygon points="1695.6,1253.5 1704.6,1262.5 1695.6,1271.5 1686.6,1262.5"/><polygon points="1706.6,1253.5 1715.6,1262.5 1706.6,1271.5 1697.6,1262.5"/><polygon points="1717.6,1251.8 1726.6,1260.8 1717.6,1269.8 1708.6,1260.8"/><polygon points="1728.7,1251.8 1737.7,1260.8 1728.7,1269.8 1719.7,1260.8"/><polygon points="1739.7,1250 1748.7,1259 1739.7,1268 1730.7,1259"/><polygon points="1750.7,1250 1759.7,1259 1750.7,1268 1741.7,1259"/><polygon points="1761.7,1248.2 1770.7,1257.2 1761.7,1266.2 1752.7,1257.2"/><polygon points="1772.8,1248.2 1781.8,1257.2 1772.8,1266.2 1763.8,1257.2"/><polygon points="1783.8,1246.5 1792.8,1255.5 1783.8,1264.5 1774.8,1255.5"/><polygon points="1794.8,1246.5 1803.8,1255.5 1794.8,1264.5 1785.8,1255.5"/><polygon points="1805.9,1246.5 1814.9,1255.5 1805.9,1264.5 1796.9,1255.5"/><polygon points="1816.9,1246.5 1825.9,1255.5 1816.9,1264.5 1807.9,1255.5"/><polygon points="1827.9,1244.7 1836.9,1253.7 1827.9,1262.7 1818.9,1253.7"/><polygon points="1838.9,1244.7 1847.9,1253.7 1838.9,1262.7 1829.9,1253.7"/><polygon points="1850,1242.9 1859,1251.9 1850,1260.9 1841,1251.9"/><polygon points="1861,1242.9 1870,1251.9 1861,1260.9 1852,1251.9"/><polygon points="1872,1242.9 1881,1251.9 1872,1260.9 1863,1251.9"/><polygon points="1883.1,1242.9 1892.1,1251.9 1883.1,1260.9 1874.1,1251.9"/><polygon points="1894.1,1241.1 1903.1,1250.1 1894.1,1259.1 1885.1,1250.1"/><polygon points="1905.1,1241.1 1914.1,1250.1 1905.1,1259.1 1896.1,1250.1"/><polygon points="1916.2,1239.4 1925.2,1248.4 1916.2,1257.4 1907.2,1248.4"/></g>
<g fill="#e62129"><circle cx="1133" cy="908.1" r="7.6"/><circle cx="1144.1" cy="927.6" r="7.6"/><circle cx="1155.1" cy="934.7" r="7.6"/><circle cx="1166.1" cy="941.8" r="7.6"/><circle cx="1177.2" cy="943.6" r="7.6"/><circle cx="1188.2" cy="948.9" r="7.6"/><circle cx="1199.2" cy="996.7" r="7.6"/><circle cx="1210.2" cy="996.7" r="7.6"/><circle cx="1221.3" cy="998.5" r="7.6"/><circle cx="1232.3" cy="998.5" r="7.6"/><circle cx="1243.3" cy="993.2" r="7.6"/><circle cx="1254.4" cy="996.7" r="7.6"/><circle cx="1265.4" cy="1053.4" r="7.6"/><circle cx="1276.4" cy="1055.2" r="7.6"/><circle cx="1287.5" cy="1055.2" r="7.6"/><circle cx="1298.5" cy="1053.4" r="7.6"/><circle cx="1309.5" cy="1055.2" r="7.6"/><circle cx="1320.5" cy="1058.8" r="7.6"/><circle cx="1331.6" cy="1085.3" r="7.6"/><circle cx="1342.6" cy="1080" r="7.6"/><circle cx="1353.6" cy="1076.5" r="7.6"/><circle cx="1364.7" cy="1072.9" r="7.6"/><circle cx="1375.7" cy="1069.4" r="7.6"/><circle cx="1386.7" cy="1078.3" r="7.6"/><circle cx="1397.8" cy="1159.8" r="7.6"/><circle cx="1408.8" cy="1156.2" r="7.6"/><circle cx="1419.8" cy="1154.5" r="7.6"/><circle cx="1430.8" cy="1150.9" r="7.6"/><circle cx="1441.9" cy="1147.4" r="7.6"/><circle cx="1452.9" cy="1161.5" r="7.6"/><circle cx="1463.9" cy="1202.3" r="7.6"/><circle cx="1475" cy="1204.1" r="7.6"/><circle cx="1486" cy="1198.8" r="7.6"/><circle cx="1497" cy="1200.5" r="7.6"/><circle cx="1508" cy="1198.8" r="7.6"/><circle cx="1519.1" cy="1202.3" r="7.6"/><circle cx="1530.1" cy="1264.3" r="7.6"/><circle cx="1541.1" cy="1271.4" r="7.6"/><circle cx="1552.2" cy="1276.7" r="7.6"/><circle cx="1563.2" cy="1282" r="7.6"/><circle cx="1574.2" cy="1287.4" r="7.6"/><circle cx="1585.3" cy="1292.7" r="7.6"/><circle cx="1596.3" cy="1367.1" r="7.6"/><circle cx="1607.3" cy="1376" r="7.6"/><circle cx="1618.3" cy="1386.6" r="7.6"/><circle cx="1629.4" cy="1388.4" r="7.6"/><circle cx="1640.4" cy="1384.8" r="7.6"/><circle cx="1651.4" cy="1384.8" r="7.6"/><circle cx="1662.5" cy="998.5" r="7.6"/><circle cx="1673.5" cy="995" r="7.6"/><circle cx="1684.5" cy="995" r="7.6"/><circle cx="1695.6" cy="993.2" r="7.6"/><circle cx="1706.6" cy="991.4" r="7.6"/><circle cx="1717.6" cy="989.7" r="7.6"/><circle cx="1728.7" cy="987.9" r="7.6"/><circle cx="1739.7" cy="987.9" r="7.6"/><circle cx="1750.7" cy="989.7" r="7.6"/><circle cx="1761.7" cy="986.1" r="7.6"/><circle cx="1772.8" cy="987.9" r="7.6"/><circle cx="1783.8" cy="989.7" r="7.6"/><circle cx="1794.8" cy="984.3" r="7.6"/><circle cx="1805.9" cy="982.6" r="7.6"/><circle cx="1816.9" cy="982.6" r="7.6"/><circle cx="1827.9" cy="984.3" r="7.6"/><circle cx="1838.9" cy="982.6" r="7.6"/><circle cx="1850" cy="980.8" r="7.6"/><circle cx="1861" cy="980.8" r="7.6"/><circle cx="1872" cy="979" r="7.6"/><circle cx="1883.1" cy="980.8" r="7.6"/><circle cx="1894.1" cy="979" r="7.6"/><circle cx="1905.1" cy="977.3" r="7.6"/><circle cx="1916.2" cy="979" r="7.6"/></g>
<g fill="#2e9d48"><polygon points="1133,1172.8 1135.5,1179.4 1142.5,1179.7 1137,1184.1 1138.9,1190.9 1133,1187 1127.2,1190.9 1129,1184.1 1123.5,1179.7 1130.6,1179.4"/><polygon points="1144.1,1187 1146.5,1193.6 1153.6,1193.9 1148.1,1198.3 1149.9,1205.1 1144.1,1201.2 1138.2,1205.1 1140.1,1198.3 1134.5,1193.9 1141.6,1193.6"/><polygon points="1155.1,1194.1 1157.6,1200.7 1164.6,1201 1159.1,1205.4 1161,1212.2 1155.1,1208.3 1149.2,1212.2 1151.1,1205.4 1145.6,1201 1152.6,1200.7"/><polygon points="1166.1,1194.1 1168.6,1200.7 1175.6,1201 1170.1,1205.4 1172,1212.2 1166.1,1208.3 1160.2,1212.2 1162.1,1205.4 1156.6,1201 1163.7,1200.7"/><polygon points="1177.2,1195.8 1179.6,1202.4 1186.7,1202.7 1181.1,1207.1 1183,1213.9 1177.2,1210 1171.3,1213.9 1173.2,1207.1 1167.6,1202.7 1174.7,1202.4"/><polygon points="1188.2,1197.6 1190.6,1204.2 1197.7,1204.5 1192.2,1208.9 1194.1,1215.7 1188.2,1211.8 1182.3,1215.7 1184.2,1208.9 1178.7,1204.5 1185.7,1204.2"/><polygon points="1199.2,1249 1201.7,1255.6 1208.7,1255.9 1203.2,1260.3 1205.1,1267.1 1199.2,1263.2 1193.3,1267.1 1195.2,1260.3 1189.7,1255.9 1196.7,1255.6"/><polygon points="1210.2,1250.8 1212.7,1257.4 1219.8,1257.7 1214.2,1262.1 1216.1,1268.9 1210.2,1265 1204.4,1268.9 1206.2,1262.1 1200.7,1257.7 1207.8,1257.4"/><polygon points="1221.3,1247.2 1223.7,1253.8 1230.8,1254.1 1225.3,1258.5 1227.1,1265.3 1221.3,1261.4 1215.4,1265.3 1217.3,1258.5 1211.8,1254.1 1218.8,1253.8"/><polygon points="1232.3,1243.7 1234.8,1250.3 1241.8,1250.6 1236.3,1255 1238.2,1261.8 1232.3,1257.9 1226.4,1261.8 1228.3,1255 1222.8,1250.6 1229.8,1250.3"/><polygon points="1243.3,1243.7 1245.8,1250.3 1252.8,1250.6 1247.3,1255 1249.2,1261.8 1243.3,1257.9 1237.5,1261.8 1239.3,1255 1233.8,1250.6 1240.9,1250.3"/><polygon points="1254.4,1243.7 1256.8,1250.3 1263.9,1250.6 1258.4,1255 1260.2,1261.8 1254.4,1257.9 1248.5,1261.8 1250.4,1255 1244.8,1250.6 1251.9,1250.3"/><polygon points="1265.4,1268.5 1267.9,1275.1 1274.9,1275.4 1269.4,1279.8 1271.3,1286.6 1265.4,1282.7 1259.5,1286.6 1261.4,1279.8 1255.9,1275.4 1262.9,1275.1"/><polygon points="1276.4,1268.5 1278.9,1275.1 1285.9,1275.4 1280.4,1279.8 1282.3,1286.6 1276.4,1282.7 1270.5,1286.6 1272.4,1279.8 1266.9,1275.4 1274,1275.1"/><polygon points="1287.5,1266.7 1289.9,1273.3 1297,1273.6 1291.4,1278 1293.3,1284.8 1287.5,1280.9 1281.6,1284.8 1283.5,1278 1277.9,1273.6 1285,1273.3"/><polygon points="1298.5,1266.7 1300.9,1273.3 1308,1273.6 1302.5,1278 1304.4,1284.8 1298.5,1280.9 1292.6,1284.8 1294.5,1278 1289,1273.6 1296,1273.3"/><polygon points="1309.5,1268.5 1312,1275.1 1319,1275.4 1313.5,1279.8 1315.4,1286.6 1309.5,1282.7 1303.6,1286.6 1305.5,1279.8 1300,1275.4 1307,1275.1"/><polygon points="1320.5,1270.3 1323,1276.9 1330.1,1277.2 1324.5,1281.6 1326.4,1288.4 1320.5,1284.5 1314.7,1288.4 1316.5,1281.6 1311,1277.2 1318.1,1276.9"/><polygon points="1331.6,1286.2 1334,1292.8 1341.1,1293.1 1335.6,1297.5 1337.4,1304.3 1331.6,1300.4 1325.7,1304.3 1327.6,1297.5 1322.1,1293.1 1329.1,1292.8"/><polygon points="1342.6,1293.3 1345.1,1299.9 1352.1,1300.2 1346.6,1304.6 1348.5,1311.4 1342.6,1307.5 1336.7,1311.4 1338.6,1304.6 1333.1,1300.2 1340.1,1299.9"/><polygon points="1353.6,1295.1 1356.1,1301.7 1363.1,1302 1357.6,1306.4 1359.5,1313.2 1353.6,1309.3 1347.8,1313.2 1349.6,1306.4 1344.1,1302 1351.2,1301.7"/><polygon points="1364.7,1295.1 1367.1,1301.7 1374.2,1302 1368.7,1306.4 1370.5,1313.2 1364.7,1309.3 1358.8,1313.2 1360.7,1306.4 1355.1,1302 1362.2,1301.7"/><polygon points="1375.7,1298.6 1378.2,1305.2 1385.2,1305.5 1379.7,1309.9 1381.6,1316.7 1375.7,1312.8 1369.8,1316.7 1371.7,1309.9 1366.2,1305.5 1373.2,1305.2"/><polygon points="1386.7,1302.2 1389.2,1308.8 1396.2,1309.1 1390.7,1313.5 1392.6,1320.3 1386.7,1316.4 1380.8,1320.3 1382.7,1313.5 1377.2,1309.1 1384.3,1308.8"/><polygon points="1397.8,1344.7 1400.2,1351.3 1407.3,1351.6 1401.7,1356 1403.6,1362.8 1397.8,1358.9 1391.9,1362.8 1393.8,1356 1388.2,1351.6 1395.3,1351.3"/><polygon points="1408.8,1342.9 1411.2,1349.5 1418.3,1349.8 1412.8,1354.2 1414.7,1361 1408.8,1357.1 1402.9,1361 1404.8,1354.2 1399.3,1349.8 1406.3,1349.5"/><polygon points="1419.8,1342.9 1422.3,1349.5 1429.3,1349.8 1423.8,1354.2 1425.7,1361 1419.8,1357.1 1413.9,1361 1415.8,1354.2 1410.3,1349.8 1417.3,1349.5"/><polygon points="1430.8,1342.9 1433.3,1349.5 1440.4,1349.8 1434.8,1354.2 1436.7,1361 1430.8,1357.1 1425,1361 1426.8,1354.2 1421.3,1349.8 1428.4,1349.5"/><polygon points="1441.9,1344.7 1444.3,1351.3 1451.4,1351.6 1445.9,1356 1447.7,1362.8 1441.9,1358.9 1436,1362.8 1437.9,1356 1432.4,1351.6 1439.4,1351.3"/><polygon points="1452.9,1344.7 1455.4,1351.3 1462.4,1351.6 1456.9,1356 1458.8,1362.8 1452.9,1358.9 1447,1362.8 1448.9,1356 1443.4,1351.6 1450.4,1351.3"/><polygon points="1463.9,1381.9 1466.4,1388.5 1473.4,1388.8 1467.9,1393.2 1469.8,1400 1463.9,1396.1 1458.1,1400 1459.9,1393.2 1454.4,1388.8 1461.5,1388.5"/><polygon points="1475,1385.4 1477.4,1392 1484.5,1392.4 1479,1396.7 1480.8,1403.5 1475,1399.6 1469.1,1403.5 1471,1396.7 1465.4,1392.4 1472.5,1392"/><polygon points="1486,1389 1488.5,1395.6 1495.5,1395.9 1490,1400.3 1491.9,1407.1 1486,1403.2 1480.1,1407.1 1482,1400.3 1476.5,1395.9 1483.5,1395.6"/><polygon points="1497,1390.8 1499.5,1397.4 1506.5,1397.7 1501,1402.1 1502.9,1408.9 1497,1405 1491.1,1408.9 1493,1402.1 1487.5,1397.7 1494.6,1397.4"/><polygon points="1508,1394.3 1510.5,1400.9 1517.6,1401.2 1512,1405.6 1513.9,1412.4 1508,1408.5 1502.2,1412.4 1504.1,1405.6 1498.5,1401.2 1505.6,1400.9"/><polygon points="1519.1,1394.3 1521.5,1400.9 1528.6,1401.2 1523.1,1405.6 1525,1412.4 1519.1,1408.5 1513.2,1412.4 1515.1,1405.6 1509.6,1401.2 1516.6,1400.9"/><polygon points="1530.1,1424.4 1532.6,1431 1539.6,1431.3 1534.1,1435.7 1536,1442.5 1530.1,1438.6 1524.2,1442.5 1526.1,1435.7 1520.6,1431.3 1527.6,1431"/><polygon points="1541.1,1428 1543.6,1434.6 1550.7,1434.9 1545.1,1439.3 1547,1446.1 1541.1,1442.2 1535.3,1446.1 1537.1,1439.3 1531.6,1434.9 1538.7,1434.6"/><polygon points="1552.2,1431.5 1554.6,1438.1 1561.7,1438.4 1556.2,1442.8 1558,1449.6 1552.2,1445.7 1546.3,1449.6 1548.2,1442.8 1542.7,1438.4 1549.7,1438.1"/><polygon points="1563.2,1435.1 1565.7,1441.7 1572.7,1442 1567.2,1446.4 1569.1,1453.2 1563.2,1449.3 1557.3,1453.2 1559.2,1446.4 1553.7,1442 1560.7,1441.7"/><polygon points="1574.2,1438.6 1576.7,1445.2 1583.7,1445.5 1578.2,1449.9 1580.1,1456.7 1574.2,1452.8 1568.4,1456.7 1570.2,1449.9 1564.7,1445.5 1571.8,1445.2"/><polygon points="1585.3,1433.3 1587.7,1439.9 1594.8,1440.2 1589.3,1444.6 1591.1,1451.4 1585.3,1447.5 1579.4,1451.4 1581.3,1444.6 1575.7,1440.2 1582.8,1439.9"/><polygon points="1596.3,1468.7 1598.8,1475.3 1605.8,1475.6 1600.3,1480 1602.2,1486.8 1596.3,1482.9 1590.4,1486.8 1592.3,1480 1586.8,1475.6 1593.8,1475.3"/><polygon points="1607.3,1475.8 1609.8,1482.4 1616.8,1482.7 1611.3,1487.1 1613.2,1493.9 1607.3,1490 1601.4,1493.9 1603.3,1487.1 1597.8,1482.7 1604.9,1482.4"/><polygon points="1618.3,1482.9 1620.8,1489.5 1627.9,1489.8 1622.3,1494.2 1624.2,1501 1618.3,1497.1 1612.5,1501 1614.4,1494.2 1608.8,1489.8 1615.9,1489.5"/><polygon points="1629.4,1484.7 1631.8,1491.3 1638.9,1491.6 1633.4,1496 1635.3,1502.8 1629.4,1498.9 1623.5,1502.8 1625.4,1496 1619.9,1491.6 1626.9,1491.3"/><polygon points="1640.4,1482.9 1642.9,1489.5 1649.9,1489.8 1644.4,1494.2 1646.3,1501 1640.4,1497.1 1634.5,1501 1636.4,1494.2 1630.9,1489.8 1637.9,1489.5"/><polygon points="1651.4,1479.4 1653.9,1486 1661,1486.3 1655.4,1490.7 1657.3,1497.5 1651.4,1493.6 1645.6,1497.5 1647.4,1490.7 1641.9,1486.3 1649,1486"/><polygon points="1662.5,1249 1664.9,1255.6 1672,1255.9 1666.5,1260.3 1668.3,1267.1 1662.5,1263.2 1656.6,1267.1 1658.5,1260.3 1653,1255.9 1660,1255.6"/><polygon points="1673.5,1243.7 1676,1250.3 1683,1250.6 1677.5,1255 1679.4,1261.8 1673.5,1257.9 1667.6,1261.8 1669.5,1255 1664,1250.6 1671,1250.3"/><polygon points="1684.5,1236.6 1687,1243.2 1694,1243.5 1688.5,1247.9 1690.4,1254.7 1684.5,1250.8 1678.7,1254.7 1680.5,1247.9 1675,1243.5 1682.1,1243.2"/><polygon points="1695.6,1233.1 1698,1239.7 1705.1,1240 1699.6,1244.3 1701.4,1251.1 1695.6,1247.3 1689.7,1251.1 1691.6,1244.3 1686,1240 1693.1,1239.7"/><polygon points="1706.6,1229.5 1709.1,1236.1 1716.1,1236.4 1710.6,1240.8 1712.5,1247.6 1706.6,1243.7 1700.7,1247.6 1702.6,1240.8 1697.1,1236.4 1704.1,1236.1"/><polygon points="1717.6,1226 1720.1,1232.6 1727.1,1232.9 1721.6,1237.3 1723.5,1244.1 1717.6,1240.2 1711.7,1244.1 1713.6,1237.3 1708.1,1232.9 1715.2,1232.6"/><polygon points="1728.7,1224.2 1731.1,1230.8 1738.2,1231.1 1732.6,1235.5 1734.5,1242.3 1728.7,1238.4 1722.8,1242.3 1724.7,1235.5 1719.1,1231.1 1726.2,1230.8"/><polygon points="1739.7,1222.4 1742.1,1229 1749.2,1229.3 1743.7,1233.7 1745.6,1240.5 1739.7,1236.6 1733.8,1240.5 1735.7,1233.7 1730.2,1229.3 1737.2,1229"/><polygon points="1750.7,1222.4 1753.2,1229 1760.2,1229.3 1754.7,1233.7 1756.6,1240.5 1750.7,1236.6 1744.8,1240.5 1746.7,1233.7 1741.2,1229.3 1748.2,1229"/><polygon points="1761.7,1222.4 1764.2,1229 1771.3,1229.3 1765.7,1233.7 1767.6,1240.5 1761.7,1236.6 1755.9,1240.5 1757.7,1233.7 1752.2,1229.3 1759.3,1229"/><polygon points="1772.8,1224.2 1775.2,1230.8 1782.3,1231.1 1776.8,1235.5 1778.6,1242.3 1772.8,1238.4 1766.9,1242.3 1768.8,1235.5 1763.3,1231.1 1770.3,1230.8"/><polygon points="1783.8,1222.4 1786.3,1229 1793.3,1229.3 1787.8,1233.7 1789.7,1240.5 1783.8,1236.6 1777.9,1240.5 1779.8,1233.7 1774.3,1229.3 1781.3,1229"/><polygon points="1794.8,1222.4 1797.3,1229 1804.3,1229.3 1798.8,1233.7 1800.7,1240.5 1794.8,1236.6 1789,1240.5 1790.8,1233.7 1785.3,1229.3 1792.4,1229"/><polygon points="1805.9,1224.2 1808.3,1230.8 1815.4,1231.1 1809.9,1235.5 1811.7,1242.3 1805.9,1238.4 1800,1242.3 1801.9,1235.5 1796.3,1231.1 1803.4,1230.8"/><polygon points="1816.9,1224.2 1819.4,1230.8 1826.4,1231.1 1820.9,1235.5 1822.8,1242.3 1816.9,1238.4 1811,1242.3 1812.9,1235.5 1807.4,1231.1 1814.4,1230.8"/><polygon points="1827.9,1222.4 1830.4,1229 1837.4,1229.3 1831.9,1233.7 1833.8,1240.5 1827.9,1236.6 1822,1240.5 1823.9,1233.7 1818.4,1229.3 1825.5,1229"/><polygon points="1838.9,1220.6 1841.4,1227.3 1848.5,1227.6 1842.9,1231.9 1844.8,1238.7 1838.9,1234.8 1833.1,1238.7 1835,1231.9 1829.4,1227.6 1836.5,1227.3"/><polygon points="1850,1220.6 1852.4,1227.3 1859.5,1227.6 1854,1231.9 1855.9,1238.7 1850,1234.8 1844.1,1238.7 1846,1231.9 1840.5,1227.6 1847.5,1227.3"/><polygon points="1861,1222.4 1863.5,1229 1870.5,1229.3 1865,1233.7 1866.9,1240.5 1861,1236.6 1855.1,1240.5 1857,1233.7 1851.5,1229.3 1858.5,1229"/><polygon points="1872,1220.6 1874.5,1227.3 1881.6,1227.6 1876,1231.9 1877.9,1238.7 1872,1234.8 1866.2,1238.7 1868,1231.9 1862.5,1227.6 1869.6,1227.3"/><polygon points="1883.1,1220.6 1885.5,1227.3 1892.6,1227.6 1887.1,1231.9 1888.9,1238.7 1883.1,1234.8 1877.2,1238.7 1879.1,1231.9 1873.6,1227.6 1880.6,1227.3"/><polygon points="1894.1,1220.6 1896.6,1227.3 1903.6,1227.6 1898.1,1231.9 1900,1238.7 1894.1,1234.8 1888.2,1238.7 1890.1,1231.9 1884.6,1227.6 1891.6,1227.3"/><polygon points="1905.1,1220.6 1907.6,1227.3 1914.6,1227.6 1909.1,1231.9 1911,1238.7 1905.1,1234.8 1899.3,1238.7 1901.1,1231.9 1895.6,1227.6 1902.7,1227.3"/><polygon points="1916.2,1222.4 1918.6,1229 1925.7,1229.3 1920.2,1233.7 1922,1240.5 1916.2,1236.6 1910.3,1240.5 1912.2,1233.7 1906.6,1229.3 1913.7,1229"/></g>
<rect x="1122" y="885.5" width="794" height="639.5" fill="none" stroke="#111" stroke-width="5"/>
<g style="font-family:'Liberation Serif','Times New Roman',serif;font-weight:bold;font-size:27px" fill="#111"><text x="1111" y="1534.3" text-anchor="end">0</text><text x="1111" y="1445.7" text-anchor="end">50</text><text x="1111" y="1357.1" text-anchor="end">100</text><text x="1111" y="1268.5" text-anchor="end">150</text><text x="1111" y="1179.9" text-anchor="end">200</text><text x="1111" y="1091.3" text-anchor="end">250</text><text x="1111" y="1002.7" text-anchor="end">300</text><text x="1111" y="914.1" text-anchor="end">350</text><text x="1122" y="1559" text-anchor="middle">0</text><text x="1188.2" y="1559" text-anchor="middle">6</text><text x="1254.4" y="1559" text-anchor="middle">12</text><text x="1320.5" y="1559" text-anchor="middle">18</text><text x="1386.7" y="1559" text-anchor="middle">24</text><text x="1452.9" y="1559" text-anchor="middle">30</text><text x="1519.1" y="1559" text-anchor="middle">36</text><text x="1585.3" y="1559" text-anchor="middle">42</text><text x="1651.4" y="1559" text-anchor="middle">48</text><text x="1717.6" y="1559" text-anchor="middle">54</text><text x="1783.8" y="1559" text-anchor="middle">60</text><text x="1850" y="1559" text-anchor="middle">66</text><text x="1916.2" y="1559" text-anchor="middle">72</text></g>
<text x="1518" y="1619" text-anchor="middle" style="font-family:'Liberation Serif','Times New Roman',serif;font-weight:bold;font-size:41.5px" fill="#111">Cycle number</text>
<text transform="translate(1053,1206) rotate(-90)" text-anchor="middle" style="font-family:'Liberation Serif','Times New Roman',serif;font-weight:bold;font-size:43px" fill="#111">Specific Capacity(mAh/g)</text>
<g fill="#111"><polygon points="1447,907.5 1433,899.5 1433,915.5"/></g>
<g fill="#3a4fb8"><polygon points="1439,936.5 1447,950.5 1431,950.5"/></g>
<g fill="#6b8a23"><polygon points="1439,973.5 1447.5,982 1439,990.5 1430.5,982"/></g>
<g fill="#e62129"><circle cx="1439" cy="1019.5" r="7.5"/></g>
<g fill="#2e9d48"><polygon points="1439,1047.5 1441.3,1053.8 1448,1054.1 1442.8,1058.2 1444.6,1064.7 1439,1061 1433.4,1064.7 1435.2,1058.2 1430,1054.1 1436.7,1053.8"/></g>
<g style="font-family:'Liberation Serif','Times New Roman',serif;font-weight:bold;font-size:25px" fill="#111"><text x="1475" y="916">HS-V<tspan dy="6" font-size="17">2</tspan><tspan dy="-6">O</tspan><tspan dy="6" font-size="17">3</tspan><tspan dy="-6"></tspan></text><text x="1475" y="953">HS-V<tspan dy="6" font-size="17">2</tspan><tspan dy="-6">O</tspan><tspan dy="6" font-size="17">3</tspan><tspan dy="-6">@C1</tspan></text><text x="1475" y="990.5">HS-V<tspan dy="6" font-size="17">2</tspan><tspan dy="-6">O</tspan><tspan dy="6" font-size="17">3</tspan><tspan dy="-6">@C2</tspan></text><text x="1475" y="1028">HS-V<tspan dy="6" font-size="17">2</tspan><tspan dy="-6">O</tspan><tspan dy="6" font-size="17">3</tspan><tspan dy="-6">@C3</tspan></text><text x="1475" y="1065.5">HS-V<tspan dy="6" font-size="17">2</tspan><tspan dy="-6">O</tspan><tspan dy="6" font-size="17">3</tspan><tspan dy="-6">@C4</tspan></text></g>
<g style="font-family:'Liberation Serif','Times New Roman',serif;font-weight:bold;font-size:17px" fill="#111"><text transform="translate(1154,1005) rotate(-54)" text-anchor="middle" dy="5">0.05 A g<tspan dy="-6" font-size="10">-1</tspan></text><text transform="translate(1220,1057) rotate(-54)" text-anchor="middle" dy="5">0.10 A g<tspan dy="-6" font-size="10">-1</tspan></text><text transform="translate(1286,1110) rotate(-54)" text-anchor="middle" dy="5">0.15 A g<tspan dy="-6" font-size="10">-1</tspan></text><text transform="translate(1353,1146) rotate(-54)" text-anchor="middle" dy="5">0.20 A g<tspan dy="-6" font-size="10">-1</tspan></text><text transform="translate(1419,1209) rotate(-54)" text-anchor="middle" dy="5">0.50 A g<tspan dy="-6" font-size="10">-1</tspan></text><text transform="translate(1486,1239) rotate(-54)" text-anchor="middle" dy="5">1.0 A g<tspan dy="-6" font-size="10">-1</tspan></text><text transform="translate(1552,1323) rotate(-54)" text-anchor="middle" dy="5">2.0 A g<tspan dy="-6" font-size="10">-1</tspan></text><text transform="translate(1621,1323) rotate(-54)" text-anchor="middle" dy="5">5.0 A g<tspan dy="-6" font-size="10">-1</tspan></text><text transform="translate(1685,1044) rotate(-54)" text-anchor="middle" dy="5">0.05 A g<tspan dy="-6" font-size="10">-1</tspan></text></g>
<text x="953" y="922" style="font-family:'Liberation Serif','Times New Roman',serif;font-size:99px" fill="#111">(d)</text>
</g>
<g id="pe">
<path d="M2153 1478h-12M2153 1436.1h-12M2153 1394.2h-12M2153 1352.2h-12M2153 1310.2h-12M2153 1268.3h-12M2153 1226.3h-12M2153 1184.4h-12M2153 1142.5h-12M2153 1100.5h-12M2153 1058.5h-12M2153 985.8h-12M2153 965.5h-12M2153 945.1h-12M2153 924.8h-12M2153 904.5h-12M2209.7 1520v7M2266.3 1520v10M2322.9 1520v7M2379.6 1520v10M2436.2 1520v7M2492.9 1520v10M2549.6 1520v7M2606.2 1520v10M2662.8 1520v7M2719.5 1520v10M2776.2 1520v7M2832.8 1520v10M2889.4 1520v7M2946.1 1520v10M3002.8 1520v7M3002 1520h14M3002 1467.2h14M3002 1414.5h14M3002 1361.8h14M3002 1309h14M3002 1256.2h14M3002 1203.5h14M3002 1150.8h14M3002 1098h14M3002 1045.2h14M3002 992.5h14M3002 939.8h14M3002 887h14" stroke="#111" stroke-width="4.5" fill="none"/>
<g fill="#fff" stroke="#111" stroke-width="3"><circle cx="2164.3" cy="1435.6" r="5.6"/><circle cx="2175.7" cy="1083.8" r="5.6"/><circle cx="2187" cy="1063.2" r="5.6"/><circle cx="2198.3" cy="1055.8" r="5.6"/><circle cx="2209.7" cy="1045.2" r="5.6"/><circle cx="2221" cy="1055.8" r="5.6"/><circle cx="2232.3" cy="1018.9" r="5.6"/><circle cx="2243.6" cy="1013.6" r="5.6"/><circle cx="2255" cy="1008.3" r="5.6"/><circle cx="2266.3" cy="1013.6" r="5.6"/><circle cx="2277.6" cy="1045.2" r="5.6"/><circle cx="2289" cy="1014.7" r="5.6"/><circle cx="2300.3" cy="1003.6" r="5.6"/><circle cx="2311.6" cy="1000" r="5.6"/><circle cx="2322.9" cy="1050.5" r="5.6"/><circle cx="2334.3" cy="1050.5" r="5.6"/><circle cx="2345.6" cy="1010.8" r="5.6"/><circle cx="2356.9" cy="996.7" r="5.6"/><circle cx="2368.3" cy="1008.5" r="5.6"/><circle cx="2379.6" cy="1007.4" r="5.6"/><circle cx="2390.9" cy="1080.1" r="5.6"/><circle cx="2402.3" cy="1003" r="5.6"/><circle cx="2413.6" cy="1015.4" r="5.6"/><circle cx="2424.9" cy="1015.3" r="5.6"/><circle cx="2436.2" cy="1007.5" r="5.6"/><circle cx="2447.6" cy="1080.1" r="5.6"/><circle cx="2458.9" cy="1003" r="5.6"/><circle cx="2470.2" cy="1004.4" r="5.6"/><circle cx="2481.6" cy="1011.1" r="5.6"/><circle cx="2492.9" cy="1014.5" r="5.6"/><circle cx="2504.2" cy="913.4" r="5.6"/><circle cx="2515.6" cy="1008.8" r="5.6"/><circle cx="2526.9" cy="999.3" r="5.6"/><circle cx="2538.2" cy="997.2" r="5.6"/><circle cx="2549.6" cy="1008" r="5.6"/><circle cx="2560.9" cy="1016.9" r="5.6"/><circle cx="2572.2" cy="1007.2" r="5.6"/><circle cx="2583.5" cy="1009.8" r="5.6"/><circle cx="2594.9" cy="1014.9" r="5.6"/><circle cx="2606.2" cy="999.2" r="5.6"/><circle cx="2617.5" cy="1000.8" r="5.6"/><circle cx="2628.9" cy="1007.4" r="5.6"/><circle cx="2640.2" cy="1008" r="5.6"/><circle cx="2651.5" cy="1008.7" r="5.6"/><circle cx="2662.8" cy="997.7" r="5.6"/><circle cx="2674.2" cy="994.7" r="5.6"/><circle cx="2685.5" cy="994.4" r="5.6"/><circle cx="2696.8" cy="1015.9" r="5.6"/><circle cx="2708.2" cy="1003.1" r="5.6"/><circle cx="2719.5" cy="1014" r="5.6"/><circle cx="2730.8" cy="1015.3" r="5.6"/><circle cx="2742.2" cy="1015.8" r="5.6"/><circle cx="2753.5" cy="999.6" r="5.6"/><circle cx="2764.8" cy="1013.4" r="5.6"/><circle cx="2776.2" cy="996.9" r="5.6"/><circle cx="2787.5" cy="1016.2" r="5.6"/><circle cx="2798.8" cy="1002.7" r="5.6"/><circle cx="2810.1" cy="1012.1" r="5.6"/><circle cx="2821.5" cy="1006.7" r="5.6"/><circle cx="2832.8" cy="1013.3" r="5.6"/><circle cx="2844.1" cy="1004.9" r="5.6"/><circle cx="2855.5" cy="994.2" r="5.6"/><circle cx="2866.8" cy="1005.1" r="5.6"/><circle cx="2878.1" cy="1015.8" r="5.6"/><circle cx="2889.4" cy="1010.3" r="5.6"/><circle cx="2900.8" cy="1014.9" r="5.6"/><circle cx="2912.1" cy="1005.9" r="5.6"/><circle cx="2923.4" cy="1003.3" r="5.6"/><circle cx="2934.8" cy="1011.9" r="5.6"/><circle cx="2946.1" cy="1002.8" r="5.6"/><circle cx="2957.4" cy="1003.4" r="5.6"/><circle cx="2968.8" cy="1007.9" r="5.6"/><circle cx="2980.1" cy="981.9" r="5.6"/><circle cx="2991.4" cy="1009.1" r="5.6"/><circle cx="3002.8" cy="1016.7" r="5.6"/></g>
<g fill="#fff" stroke="#e4203a" stroke-width="3"><circle cx="2164.3" cy="1377.6" r="5.6"/><circle cx="2175.7" cy="1055.8" r="5.6"/><circle cx="2187" cy="1034.7" r="5.6"/><circle cx="2198.3" cy="1024.2" r="5.6"/><circle cx="2209.7" cy="1018.9" r="5.6"/><circle cx="2221" cy="1008.3" r="5.6"/><circle cx="2232.3" cy="1006.5" r="5.6"/><circle cx="2243.6" cy="1010.4" r="5.6"/><circle cx="2255" cy="1009.6" r="5.6"/><circle cx="2266.3" cy="1010" r="5.6"/><circle cx="2277.6" cy="1013.6" r="5.6"/><circle cx="2289" cy="1007.9" r="5.6"/><circle cx="2300.3" cy="1000.7" r="5.6"/><circle cx="2311.6" cy="1006.4" r="5.6"/><circle cx="2322.9" cy="1007.4" r="5.6"/><circle cx="2334.3" cy="1024.2" r="5.6"/><circle cx="2345.6" cy="992.5" r="5.6"/><circle cx="2356.9" cy="1008.3" r="5.6"/><circle cx="2368.3" cy="1009.9" r="5.6"/><circle cx="2379.6" cy="1010.2" r="5.6"/><circle cx="2390.9" cy="997.8" r="5.6"/><circle cx="2402.3" cy="1004.3" r="5.6"/><circle cx="2413.6" cy="992.5" r="5.6"/><circle cx="2424.9" cy="1010.3" r="5.6"/><circle cx="2436.2" cy="1000.7" r="5.6"/><circle cx="2447.6" cy="1037.3" r="5.6"/><circle cx="2458.9" cy="1008.6" r="5.6"/><circle cx="2470.2" cy="1009.9" r="5.6"/><circle cx="2481.6" cy="1008.9" r="5.6"/><circle cx="2492.9" cy="999.9" r="5.6"/><circle cx="2504.2" cy="950.3" r="5.6"/><circle cx="2515.6" cy="1010" r="5.6"/><circle cx="2526.9" cy="1004.2" r="5.6"/><circle cx="2538.2" cy="1006.8" r="5.6"/><circle cx="2549.6" cy="1005.7" r="5.6"/><circle cx="2560.9" cy="1004.4" r="5.6"/><circle cx="2572.2" cy="1007" r="5.6"/><circle cx="2583.5" cy="1005.8" r="5.6"/><circle cx="2594.9" cy="1003.8" r="5.6"/><circle cx="2606.2" cy="1010.2" r="5.6"/><circle cx="2617.5" cy="1005.2" r="5.6"/><circle cx="2628.9" cy="1002.7" r="5.6"/><circle cx="2640.2" cy="1000.3" r="5.6"/><circle cx="2651.5" cy="1001.4" r="5.6"/><circle cx="2662.8" cy="1008.6" r="5.6"/><circle cx="2674.2" cy="1009.9" r="5.6"/><circle cx="2685.5" cy="1000.4" r="5.6"/><circle cx="2696.8" cy="1010.3" r="5.6"/><circle cx="2708.2" cy="1006.3" r="5.6"/><circle cx="2719.5" cy="1006.7" r="5.6"/><circle cx="2730.8" cy="1009" r="5.6"/><circle cx="2742.2" cy="1003.1" r="5.6"/><circle cx="2753.5" cy="1003" r="5.6"/><circle cx="2764.8" cy="1001.1" r="5.6"/><circle cx="2776.2" cy="1002.3" r="5.6"/><circle cx="2787.5" cy="1009.4" r="5.6"/><circle cx="2798.8" cy="1008.6" r="5.6"/><circle cx="2810.1" cy="1002.2" r="5.6"/><circle cx="2821.5" cy="1008.6" r="5.6"/><circle cx="2832.8" cy="1006.3" r="5.6"/><circle cx="2844.1" cy="1000.5" r="5.6"/><circle cx="2855.5" cy="1010.1" r="5.6"/><circle cx="2866.8" cy="1004.7" r="5.6"/><circle cx="2878.1" cy="1000.8" r="5.6"/><circle cx="2889.4" cy="1004.7" r="5.6"/><circle cx="2900.8" cy="1002.8" r="5.6"/><circle cx="2912.1" cy="1005.7" r="5.6"/><circle cx="2923.4" cy="1009.9" r="5.6"/><circle cx="2934.8" cy="1001.2" r="5.6"/><circle cx="2946.1" cy="1002.7" r="5.6"/><circle cx="2957.4" cy="1010.1" r="5.6"/><circle cx="2968.8" cy="1003.3" r="5.6"/><circle cx="2980.1" cy="1008.4" r="5.6"/><circle cx="2991.4" cy="1009.8" r="5.6"/><circle cx="3002.8" cy="1004.8" r="5.6"/></g>
<g fill="#fff" stroke="#3a4ab8" stroke-width="3"><circle cx="2164.3" cy="1335.4" r="5.6"/><circle cx="2175.7" cy="1034.7" r="5.6"/><circle cx="2187" cy="1018.9" r="5.6"/><circle cx="2198.3" cy="1008.3" r="5.6"/><circle cx="2209.7" cy="1003" r="5.6"/><circle cx="2221" cy="995.1" r="5.6"/><circle cx="2232.3" cy="998.8" r="5.6"/><circle cx="2243.6" cy="993.7" r="5.6"/><circle cx="2255" cy="993.3" r="5.6"/><circle cx="2266.3" cy="996.8" r="5.6"/><circle cx="2277.6" cy="1016.2" r="5.6"/><circle cx="2289" cy="1002.6" r="5.6"/><circle cx="2300.3" cy="998.2" r="5.6"/><circle cx="2311.6" cy="994.8" r="5.6"/><circle cx="2322.9" cy="1003.3" r="5.6"/><circle cx="2334.3" cy="1018.9" r="5.6"/><circle cx="2345.6" cy="1001.3" r="5.6"/><circle cx="2356.9" cy="994.4" r="5.6"/><circle cx="2368.3" cy="993.5" r="5.6"/><circle cx="2379.6" cy="998.4" r="5.6"/><circle cx="2390.9" cy="1031" r="5.6"/><circle cx="2402.3" cy="1003.1" r="5.6"/><circle cx="2413.6" cy="1002.1" r="5.6"/><circle cx="2424.9" cy="997.8" r="5.6"/><circle cx="2436.2" cy="998.3" r="5.6"/><circle cx="2447.6" cy="1031" r="5.6"/><circle cx="2458.9" cy="997.3" r="5.6"/><circle cx="2470.2" cy="992.5" r="5.6"/><circle cx="2481.6" cy="997" r="5.6"/><circle cx="2492.9" cy="992" r="5.6"/><circle cx="2504.2" cy="968.2" r="5.6"/><circle cx="2515.6" cy="996.9" r="5.6"/><circle cx="2526.9" cy="996.1" r="5.6"/><circle cx="2538.2" cy="1003.5" r="5.6"/><circle cx="2549.6" cy="997.2" r="5.6"/><circle cx="2560.9" cy="992.1" r="5.6"/><circle cx="2572.2" cy="984.6" r="5.6"/><circle cx="2583.5" cy="1001.9" r="5.6"/><circle cx="2594.9" cy="1003.5" r="5.6"/><circle cx="2606.2" cy="994.7" r="5.6"/><circle cx="2617.5" cy="994.4" r="5.6"/><circle cx="2628.9" cy="1001.5" r="5.6"/><circle cx="2640.2" cy="1001.7" r="5.6"/><circle cx="2651.5" cy="999.9" r="5.6"/><circle cx="2662.8" cy="996.2" r="5.6"/><circle cx="2674.2" cy="1001.4" r="5.6"/><circle cx="2685.5" cy="1002.4" r="5.6"/><circle cx="2696.8" cy="997" r="5.6"/><circle cx="2708.2" cy="1002" r="5.6"/><circle cx="2719.5" cy="992.4" r="5.6"/><circle cx="2730.8" cy="997.5" r="5.6"/><circle cx="2742.2" cy="997.6" r="5.6"/><circle cx="2753.5" cy="998.9" r="5.6"/><circle cx="2764.8" cy="999.8" r="5.6"/><circle cx="2776.2" cy="995.6" r="5.6"/><circle cx="2787.5" cy="998.4" r="5.6"/><circle cx="2798.8" cy="997.9" r="5.6"/><circle cx="2810.1" cy="1003.6" r="5.6"/><circle cx="2821.5" cy="1004.5" r="5.6"/><circle cx="2832.8" cy="997.6" r="5.6"/><circle cx="2844.1" cy="998.5" r="5.6"/><circle cx="2855.5" cy="992.7" r="5.6"/><circle cx="2866.8" cy="993.4" r="5.6"/><circle cx="2878.1" cy="997.8" r="5.6"/><circle cx="2889.4" cy="996.5" r="5.6"/><circle cx="2900.8" cy="995.5" r="5.6"/><circle cx="2912.1" cy="995.8" r="5.6"/><circle cx="2923.4" cy="996.6" r="5.6"/><circle cx="2934.8" cy="999.9" r="5.6"/><circle cx="2946.1" cy="994.2" r="5.6"/><circle cx="2957.4" cy="993.5" r="5.6"/><circle cx="2968.8" cy="996.9" r="5.6"/><circle cx="2980.1" cy="1003.8" r="5.6"/><circle cx="2991.4" cy="971.4" r="5.6"/><circle cx="3002.8" cy="1024.2" r="5.6"/></g>
<polyline points="2164.3,937 2175.7,1280.4 2187,1288.4 2198.3,1305.2 2209.7,1308.6 2221,1349.7 2232.3,1360.9 2243.6,1363.9 2255,1365.6 2266.3,1357.2 2277.6,1390.8 2289,1404.2 2300.3,1404.2 2311.6,1404.2 2322.9,1404.2 2334.3,1424.7 2345.6,1434.4 2356.9,1434.4 2368.3,1434.4 2379.6,1428.5 2390.9,1451.2 2402.3,1462.1 2413.6,1462.1 2424.9,1462.1 2436.2,1462.1 2447.6,1481.4 2458.9,1489.8 2470.2,1489.8 2481.6,1489.8 2492.9,1489.8 2504.2,1424.4 2515.6,1393 2526.9,1396.4 2538.2,1399.7 2549.6,1391.9 2560.9,1395.3 2572.2,1398.8 2583.5,1396.7 2594.9,1394.3 2606.2,1396.3 2617.5,1397 2628.9,1391.5 2640.2,1391 2651.5,1399.8 2662.8,1395.4 2674.2,1393.5 2685.5,1396.9 2696.8,1401.6 2708.2,1397.1 2719.5,1393.4 2730.8,1398.6 2742.2,1397.8 2753.5,1393 2764.8,1395.5 2776.2,1395.7 2787.5,1395.9 2798.8,1393.8 2810.1,1396.2 2821.5,1397.2 2832.8,1398.7 2844.1,1390.4 2855.5,1395.7 2866.8,1400.8 2878.1,1393.9 2889.4,1395 2900.8,1398 2912.1,1396.8 2923.4,1395.7 2934.8,1393.9 2946.1,1397.6 2957.4,1395.6 2968.8,1394.3 2980.1,1395.7 2991.4,1396.8 3002.8,1387.5" fill="none" stroke="#111" stroke-width="4.5" stroke-linejoin="round"/><g fill="#111" stroke="#111" stroke-width="2.5"><circle cx="2164.3" cy="937" r="5.2"/><circle cx="2175.7" cy="1280.4" r="5.2"/><circle cx="2187" cy="1288.4" r="5.2"/><circle cx="2198.3" cy="1305.2" r="5.2"/><circle cx="2209.7" cy="1308.6" r="5.2"/><circle cx="2221" cy="1349.7" r="5.2"/><circle cx="2232.3" cy="1360.9" r="5.2"/><circle cx="2243.6" cy="1363.9" r="5.2"/><circle cx="2255" cy="1365.6" r="5.2"/><circle cx="2266.3" cy="1357.2" r="5.2"/><circle cx="2277.6" cy="1390.8" r="5.2"/><circle cx="2289" cy="1404.2" r="5.2"/><circle cx="2300.3" cy="1404.2" r="5.2"/><circle cx="2311.6" cy="1404.2" r="5.2"/><circle cx="2322.9" cy="1404.2" r="5.2"/><circle cx="2334.3" cy="1424.7" r="5.2"/><circle cx="2345.6" cy="1434.4" r="5.2"/><circle cx="2356.9" cy="1434.4" r="5.2"/><circle cx="2368.3" cy="1434.4" r="5.2"/><circle cx="2379.6" cy="1428.5" r="5.2"/><circle cx="2390.9" cy="1451.2" r="5.2"/><circle cx="2402.3" cy="1462.1" r="5.2"/><circle cx="2413.6" cy="1462.1" r="5.2"/><circle cx="2424.9" cy="1462.1" r="5.2"/><circle cx="2436.2" cy="1462.1" r="5.2"/><circle cx="2447.6" cy="1481.4" r="5.2"/><circle cx="2458.9" cy="1489.8" r="5.2"/><circle cx="2470.2" cy="1489.8" r="5.2"/><circle cx="2481.6" cy="1489.8" r="5.2"/><circle cx="2492.9" cy="1489.8" r="5.2"/><circle cx="2504.2" cy="1424.4" r="5.2"/><circle cx="2515.6" cy="1393" r="5.2"/><circle cx="2526.9" cy="1396.4" r="5.2"/><circle cx="2538.2" cy="1399.7" r="5.2"/><circle cx="2549.6" cy="1391.9" r="5.2"/><circle cx="2560.9" cy="1395.3" r="5.2"/><circle cx="2572.2" cy="1398.8" r="5.2"/><circle cx="2583.5" cy="1396.7" r="5.2"/><circle cx="2594.9" cy="1394.3" r="5.2"/><circle cx="2606.2" cy="1396.3" r="5.2"/><circle cx="2617.5" cy="1397" r="5.2"/><circle cx="2628.9" cy="1391.5" r="5.2"/><circle cx="2640.2" cy="1391" r="5.2"/><circle cx="2651.5" cy="1399.8" r="5.2"/><circle cx="2662.8" cy="1395.4" r="5.2"/><circle cx="2674.2" cy="1393.5" r="5.2"/><circle cx="2685.5" cy="1396.9" r="5.2"/><circle cx="2696.8" cy="1401.6" r="5.2"/><circle cx="2708.2" cy="1397.1" r="5.2"/><circle cx="2719.5" cy="1393.4" r="5.2"/><circle cx="2730.8" cy="1398.6" r="5.2"/><circle cx="2742.2" cy="1397.8" r="5.2"/><circle cx="2753.5" cy="1393" r="5.2"/><circle cx="2764.8" cy="1395.5" r="5.2"/><circle cx="2776.2" cy="1395.7" r="5.2"/><circle cx="2787.5" cy="1395.9" r="5.2"/><circle cx="2798.8" cy="1393.8" r="5.2"/><circle cx="2810.1" cy="1396.2" r="5.2"/><circle cx="2821.5" cy="1397.2" r="5.2"/><circle cx="2832.8" cy="1398.7" r="5.2"/><circle cx="2844.1" cy="1390.4" r="5.2"/><circle cx="2855.5" cy="1395.7" r="5.2"/><circle cx="2866.8" cy="1400.8" r="5.2"/><circle cx="2878.1" cy="1393.9" r="5.2"/><circle cx="2889.4" cy="1395" r="5.2"/><circle cx="2900.8" cy="1398" r="5.2"/><circle cx="2912.1" cy="1396.8" r="5.2"/><circle cx="2923.4" cy="1395.7" r="5.2"/><circle cx="2934.8" cy="1393.9" r="5.2"/><circle cx="2946.1" cy="1397.6" r="5.2"/><circle cx="2957.4" cy="1395.6" r="5.2"/><circle cx="2968.8" cy="1394.3" r="5.2"/><circle cx="2980.1" cy="1395.7" r="5.2"/><circle cx="2991.4" cy="1396.8" r="5.2"/><circle cx="3002.8" cy="1387.5" r="5.2"/></g><g fill="#fff" opacity="0.75"><circle cx="2164.3" cy="937" r="1.8"/><circle cx="2175.7" cy="1280.4" r="1.8"/><circle cx="2187" cy="1288.4" r="1.8"/><circle cx="2198.3" cy="1305.2" r="1.8"/><circle cx="2209.7" cy="1308.6" r="1.8"/><circle cx="2221" cy="1349.7" r="1.8"/><circle cx="2232.3" cy="1360.9" r="1.8"/><circle cx="2243.6" cy="1363.9" r="1.8"/><circle cx="2255" cy="1365.6" r="1.8"/><circle cx="2266.3" cy="1357.2" r="1.8"/><circle cx="2277.6" cy="1390.8" r="1.8"/><circle cx="2289" cy="1404.2" r="1.8"/><circle cx="2300.3" cy="1404.2" r="1.8"/><circle cx="2311.6" cy="1404.2" r="1.8"/><circle cx="2322.9" cy="1404.2" r="1.8"/><circle cx="2334.3" cy="1424.7" r="1.8"/><circle cx="2345.6" cy="1434.4" r="1.8"/><circle cx="2356.9" cy="1434.4" r="1.8"/><circle cx="2368.3" cy="1434.4" r="1.8"/><circle cx="2379.6" cy="1428.5" r="1.8"/><circle cx="2390.9" cy="1451.2" r="1.8"/><circle cx="2402.3" cy="1462.1" r="1.8"/><circle cx="2413.6" cy="1462.1" r="1.8"/><circle cx="2424.9" cy="1462.1" r="1.8"/><circle cx="2436.2" cy="1462.1" r="1.8"/><circle cx="2447.6" cy="1481.4" r="1.8"/><circle cx="2458.9" cy="1489.8" r="1.8"/><circle cx="2470.2" cy="1489.8" r="1.8"/><circle cx="2481.6" cy="1489.8" r="1.8"/><circle cx="2492.9" cy="1489.8" r="1.8"/><circle cx="2504.2" cy="1424.4" r="1.8"/><circle cx="2515.6" cy="1393" r="1.8"/><circle cx="2526.9" cy="1396.4" r="1.8"/><circle cx="2538.2" cy="1399.7" r="1.8"/><circle cx="2549.6" cy="1391.9" r="1.8"/><circle cx="2560.9" cy="1395.3" r="1.8"/><circle cx="2572.2" cy="1398.8" r="1.8"/><circle cx="2583.5" cy="1396.7" r="1.8"/><circle cx="2594.9" cy="1394.3" r="1.8"/><circle cx="2606.2" cy="1396.3" r="1.8"/><circle cx="2617.5" cy="1397" r="1.8"/><circle cx="2628.9" cy="1391.5" r="1.8"/><circle cx="2640.2" cy="1391" r="1.8"/><circle cx="2651.5" cy="1399.8" r="1.8"/><circle cx="2662.8" cy="1395.4" r="1.8"/><circle cx="2674.2" cy="1393.5" r="1.8"/><circle cx="2685.5" cy="1396.9" r="1.8"/><circle cx="2696.8" cy="1401.6" r="1.8"/><circle cx="2708.2" cy="1397.1" r="1.8"/><circle cx="2719.5" cy="1393.4" r="1.8"/><circle cx="2730.8" cy="1398.6" r="1.8"/><circle cx="2742.2" cy="1397.8" r="1.8"/><circle cx="2753.5" cy="1393" r="1.8"/><circle cx="2764.8" cy="1395.5" r="1.8"/><circle cx="2776.2" cy="1395.7" r="1.8"/><circle cx="2787.5" cy="1395.9" r="1.8"/><circle cx="2798.8" cy="1393.8" r="1.8"/><circle cx="2810.1" cy="1396.2" r="1.8"/><circle cx="2821.5" cy="1397.2" r="1.8"/><circle cx="2832.8" cy="1398.7" r="1.8"/><circle cx="2844.1" cy="1390.4" r="1.8"/><circle cx="2855.5" cy="1395.7" r="1.8"/><circle cx="2866.8" cy="1400.8" r="1.8"/><circle cx="2878.1" cy="1393.9" r="1.8"/><circle cx="2889.4" cy="1395" r="1.8"/><circle cx="2900.8" cy="1398" r="1.8"/><circle cx="2912.1" cy="1396.8" r="1.8"/><circle cx="2923.4" cy="1395.7" r="1.8"/><circle cx="2934.8" cy="1393.9" r="1.8"/><circle cx="2946.1" cy="1397.6" r="1.8"/><circle cx="2957.4" cy="1395.6" r="1.8"/><circle cx="2968.8" cy="1394.3" r="1.8"/><circle cx="2980.1" cy="1395.7" r="1.8"/><circle cx="2991.4" cy="1396.8" r="1.8"/><circle cx="3002.8" cy="1387.5" r="1.8"/></g>
<polyline points="2164.3,941.1 2175.7,1186.6 2187,1209.6 2198.3,1218.5 2209.7,1222.2 2221,1248.5 2232.3,1258.2 2243.6,1256.6 2255,1263.4 2266.3,1256.6 2277.6,1282.2 2289,1295.3 2300.3,1293.5 2311.6,1293.5 2322.9,1293.5 2334.3,1312.3 2345.6,1319.6 2356.9,1323.7 2368.3,1323.7 2379.6,1321.2 2390.9,1340.5 2402.3,1353.9 2413.6,1352.2 2424.9,1346 2436.2,1352.2 2447.6,1366.6 2458.9,1381.6 2470.2,1381.6 2481.6,1381.6 2492.9,1385.8 2504.2,1323.7 2515.6,1280.9 2526.9,1284.2 2538.2,1285.1 2549.6,1279.3 2560.9,1278.2 2572.2,1280.6 2583.5,1280.8 2594.9,1280.3 2606.2,1277.9 2617.5,1275 2628.9,1275.1 2640.2,1279 2651.5,1275.9 2662.8,1271.3 2674.2,1272 2685.5,1274.4 2696.8,1275.4 2708.2,1272.3 2719.5,1268.8 2730.8,1266.3 2742.2,1269.9 2753.5,1273.1 2764.8,1270.9 2776.2,1266 2787.5,1263.5 2798.8,1268.3 2810.1,1268.3 2821.5,1266.8 2832.8,1262.2 2844.1,1263.8 2855.5,1267.9 2866.8,1269.3 2878.1,1262.5 2889.4,1260 2900.8,1264.8 2912.1,1267.9 2923.4,1266.1 2934.8,1262.4 2946.1,1260.1 2957.4,1265.9 2968.8,1266.9 2980.1,1265.3 2991.4,1263.1 3002.8,1261.9" fill="none" stroke="#e4203a" stroke-width="4.5" stroke-linejoin="round"/><g fill="#e4203a" stroke="#e4203a" stroke-width="2.5"><circle cx="2164.3" cy="941.1" r="5.2"/><circle cx="2175.7" cy="1186.6" r="5.2"/><circle cx="2187" cy="1209.6" r="5.2"/><circle cx="2198.3" cy="1218.5" r="5.2"/><circle cx="2209.7" cy="1222.2" r="5.2"/><circle cx="2221" cy="1248.5" r="5.2"/><circle cx="2232.3" cy="1258.2" r="5.2"/><circle cx="2243.6" cy="1256.6" r="5.2"/><circle cx="2255" cy="1263.4" r="5.2"/><circle cx="2266.3" cy="1256.6" r="5.2"/><circle cx="2277.6" cy="1282.2" r="5.2"/><circle cx="2289" cy="1295.3" r="5.2"/><circle cx="2300.3" cy="1293.5" r="5.2"/><circle cx="2311.6" cy="1293.5" r="5.2"/><circle cx="2322.9" cy="1293.5" r="5.2"/><circle cx="2334.3" cy="1312.3" r="5.2"/><circle cx="2345.6" cy="1319.6" r="5.2"/><circle cx="2356.9" cy="1323.7" r="5.2"/><circle cx="2368.3" cy="1323.7" r="5.2"/><circle cx="2379.6" cy="1321.2" r="5.2"/><circle cx="2390.9" cy="1340.5" r="5.2"/><circle cx="2402.3" cy="1353.9" r="5.2"/><circle cx="2413.6" cy="1352.2" r="5.2"/><circle cx="2424.9" cy="1346" r="5.2"/><circle cx="2436.2" cy="1352.2" r="5.2"/><circle cx="2447.6" cy="1366.6" r="5.2"/><circle cx="2458.9" cy="1381.6" r="5.2"/><circle cx="2470.2" cy="1381.6" r="5.2"/><circle cx="2481.6" cy="1381.6" r="5.2"/><circle cx="2492.9" cy="1385.8" r="5.2"/><circle cx="2504.2" cy="1323.7" r="5.2"/><circle cx="2515.6" cy="1280.9" r="5.2"/><circle cx="2526.9" cy="1284.2" r="5.2"/><circle cx="2538.2" cy="1285.1" r="5.2"/><circle cx="2549.6" cy="1279.3" r="5.2"/><circle cx="2560.9" cy="1278.2" r="5.2"/><circle cx="2572.2" cy="1280.6" r="5.2"/><circle cx="2583.5" cy="1280.8" r="5.2"/><circle cx="2594.9" cy="1280.3" r="5.2"/><circle cx="2606.2" cy="1277.9" r="5.2"/><circle cx="2617.5" cy="1275" r="5.2"/><circle cx="2628.9" cy="1275.1" r="5.2"/><circle cx="2640.2" cy="1279" r="5.2"/><circle cx="2651.5" cy="1275.9" r="5.2"/><circle cx="2662.8" cy="1271.3" r="5.2"/><circle cx="2674.2" cy="1272" r="5.2"/><circle cx="2685.5" cy="1274.4" r="5.2"/><circle cx="2696.8" cy="1275.4" r="5.2"/><circle cx="2708.2" cy="1272.3" r="5.2"/><circle cx="2719.5" cy="1268.8" r="5.2"/><circle cx="2730.8" cy="1266.3" r="5.2"/><circle cx="2742.2" cy="1269.9" r="5.2"/><circle cx="2753.5" cy="1273.1" r="5.2"/><circle cx="2764.8" cy="1270.9" r="5.2"/><circle cx="2776.2" cy="1266" r="5.2"/><circle cx="2787.5" cy="1263.5" r="5.2"/><circle cx="2798.8" cy="1268.3" r="5.2"/><circle cx="2810.1" cy="1268.3" r="5.2"/><circle cx="2821.5" cy="1266.8" r="5.2"/><circle cx="2832.8" cy="1262.2" r="5.2"/><circle cx="2844.1" cy="1263.8" r="5.2"/><circle cx="2855.5" cy="1267.9" r="5.2"/><circle cx="2866.8" cy="1269.3" r="5.2"/><circle cx="2878.1" cy="1262.5" r="5.2"/><circle cx="2889.4" cy="1260" r="5.2"/><circle cx="2900.8" cy="1264.8" r="5.2"/><circle cx="2912.1" cy="1267.9" r="5.2"/><circle cx="2923.4" cy="1266.1" r="5.2"/><circle cx="2934.8" cy="1262.4" r="5.2"/><circle cx="2946.1" cy="1260.1" r="5.2"/><circle cx="2957.4" cy="1265.9" r="5.2"/><circle cx="2968.8" cy="1266.9" r="5.2"/><circle cx="2980.1" cy="1265.3" r="5.2"/><circle cx="2991.4" cy="1263.1" r="5.2"/><circle cx="3002.8" cy="1261.9" r="5.2"/></g><g fill="#fff" opacity="0.75"><circle cx="2164.3" cy="941.1" r="1.8"/><circle cx="2175.7" cy="1186.6" r="1.8"/><circle cx="2187" cy="1209.6" r="1.8"/><circle cx="2198.3" cy="1218.5" r="1.8"/><circle cx="2209.7" cy="1222.2" r="1.8"/><circle cx="2221" cy="1248.5" r="1.8"/><circle cx="2232.3" cy="1258.2" r="1.8"/><circle cx="2243.6" cy="1256.6" r="1.8"/><circle cx="2255" cy="1263.4" r="1.8"/><circle cx="2266.3" cy="1256.6" r="1.8"/><circle cx="2277.6" cy="1282.2" r="1.8"/><circle cx="2289" cy="1295.3" r="1.8"/><circle cx="2300.3" cy="1293.5" r="1.8"/><circle cx="2311.6" cy="1293.5" r="1.8"/><circle cx="2322.9" cy="1293.5" r="1.8"/><circle cx="2334.3" cy="1312.3" r="1.8"/><circle cx="2345.6" cy="1319.6" r="1.8"/><circle cx="2356.9" cy="1323.7" r="1.8"/><circle cx="2368.3" cy="1323.7" r="1.8"/><circle cx="2379.6" cy="1321.2" r="1.8"/><circle cx="2390.9" cy="1340.5" r="1.8"/><circle cx="2402.3" cy="1353.9" r="1.8"/><circle cx="2413.6" cy="1352.2" r="1.8"/><circle cx="2424.9" cy="1346" r="1.8"/><circle cx="2436.2" cy="1352.2" r="1.8"/><circle cx="2447.6" cy="1366.6" r="1.8"/><circle cx="2458.9" cy="1381.6" r="1.8"/><circle cx="2470.2" cy="1381.6" r="1.8"/><circle cx="2481.6" cy="1381.6" r="1.8"/><circle cx="2492.9" cy="1385.8" r="1.8"/><circle cx="2504.2" cy="1323.7" r="1.8"/><circle cx="2515.6" cy="1280.9" r="1.8"/><circle cx="2526.9" cy="1284.2" r="1.8"/><circle cx="2538.2" cy="1285.1" r="1.8"/><circle cx="2549.6" cy="1279.3" r="1.8"/><circle cx="2560.9" cy="1278.2" r="1.8"/><circle cx="2572.2" cy="1280.6" r="1.8"/><circle cx="2583.5" cy="1280.8" r="1.8"/><circle cx="2594.9" cy="1280.3" r="1.8"/><circle cx="2606.2" cy="1277.9" r="1.8"/><circle cx="2617.5" cy="1275" r="1.8"/><circle cx="2628.9" cy="1275.1" r="1.8"/><circle cx="2640.2" cy="1279" r="1.8"/><circle cx="2651.5" cy="1275.9" r="1.8"/><circle cx="2662.8" cy="1271.3" r="1.8"/><circle cx="2674.2" cy="1272" r="1.8"/><circle cx="2685.5" cy="1274.4" r="1.8"/><circle cx="2696.8" cy="1275.4" r="1.8"/><circle cx="2708.2" cy="1272.3" r="1.8"/><circle cx="2719.5" cy="1268.8" r="1.8"/><circle cx="2730.8" cy="1266.3" r="1.8"/><circle cx="2742.2" cy="1269.9" r="1.8"/><circle cx="2753.5" cy="1273.1" r="1.8"/><circle cx="2764.8" cy="1270.9" r="1.8"/><circle cx="2776.2" cy="1266" r="1.8"/><circle cx="2787.5" cy="1263.5" r="1.8"/><circle cx="2798.8" cy="1268.3" r="1.8"/><circle cx="2810.1" cy="1268.3" r="1.8"/><circle cx="2821.5" cy="1266.8" r="1.8"/><circle cx="2832.8" cy="1262.2" r="1.8"/><circle cx="2844.1" cy="1263.8" r="1.8"/><circle cx="2855.5" cy="1267.9" r="1.8"/><circle cx="2866.8" cy="1269.3" r="1.8"/><circle cx="2878.1" cy="1262.5" r="1.8"/><circle cx="2889.4" cy="1260" r="1.8"/><circle cx="2900.8" cy="1264.8" r="1.8"/><circle cx="2912.1" cy="1267.9" r="1.8"/><circle cx="2923.4" cy="1266.1" r="1.8"/><circle cx="2934.8" cy="1262.4" r="1.8"/><circle cx="2946.1" cy="1260.1" r="1.8"/><circle cx="2957.4" cy="1265.9" r="1.8"/><circle cx="2968.8" cy="1266.9" r="1.8"/><circle cx="2980.1" cy="1265.3" r="1.8"/><circle cx="2991.4" cy="1263.1" r="1.8"/><circle cx="3002.8" cy="1261.9" r="1.8"/></g>
<polyline points="2164.3,918.7 2175.7,1045.1 2187,1087.1 2198.3,1105.5 2209.7,1117.3 2221,1162.6 2232.3,1172.7 2243.6,1172.7 2255,1174.3 2266.3,1182.7 2277.6,1212.9 2289,1224 2300.3,1224.7 2311.6,1224.7 2322.9,1224.7 2334.3,1249.8 2345.6,1261.6 2356.9,1255.5 2368.3,1259.9 2379.6,1259.9 2390.9,1291.8 2402.3,1306.9 2413.6,1306.9 2424.9,1306.9 2436.2,1306.9 2447.6,1331.1 2458.9,1346 2470.2,1346 2481.6,1346 2492.9,1346 2504.2,1253.9 2515.6,1205.8 2526.9,1209.5 2538.2,1207.1 2549.6,1206.7 2560.9,1209 2572.2,1210.3 2583.5,1204 2594.9,1208.2 2606.2,1211.2 2617.5,1206.1 2628.9,1205.5 2640.2,1208.2 2651.5,1205.3 2662.8,1203.9 2674.2,1208.4 2685.5,1206.4 2696.8,1203 2708.2,1205.2 2719.5,1206.4 2730.8,1204.2 2742.2,1204.5 2753.5,1206.3 2764.8,1204.3 2776.2,1200.3 2787.5,1205.7 2798.8,1203.2 2810.1,1199.1 2821.5,1201.7 2832.8,1204.2 2844.1,1198.6 2855.5,1201.7 2866.8,1205.9 2878.1,1202.3 2889.4,1199.8 2900.8,1203.9 2912.1,1203 2923.4,1200.9 2934.8,1204.3 2946.1,1203.6 2957.4,1199.9 2968.8,1202.2 2980.1,1203.5 2991.4,1200.8 3002.8,1200.8" fill="none" stroke="#3a4ab8" stroke-width="4.5" stroke-linejoin="round"/><g fill="#3a4ab8" stroke="#3a4ab8" stroke-width="2.5"><circle cx="2164.3" cy="918.7" r="5.2"/><circle cx="2175.7" cy="1045.1" r="5.2"/><circle cx="2187" cy="1087.1" r="5.2"/><circle cx="2198.3" cy="1105.5" r="5.2"/><circle cx="2209.7" cy="1117.3" r="5.2"/><circle cx="2221" cy="1162.6" r="5.2"/><circle cx="2232.3" cy="1172.7" r="5.2"/><circle cx="2243.6" cy="1172.7" r="5.2"/><circle cx="2255" cy="1174.3" r="5.2"/><circle cx="2266.3" cy="1182.7" r="5.2"/><circle cx="2277.6" cy="1212.9" r="5.2"/><circle cx="2289" cy="1224" r="5.2"/><circle cx="2300.3" cy="1224.7" r="5.2"/><circle cx="2311.6" cy="1224.7" r="5.2"/><circle cx="2322.9" cy="1224.7" r="5.2"/><circle cx="2334.3" cy="1249.8" r="5.2"/><circle cx="2345.6" cy="1261.6" r="5.2"/><circle cx="2356.9" cy="1255.5" r="5.2"/><circle cx="2368.3" cy="1259.9" r="5.2"/><circle cx="2379.6" cy="1259.9" r="5.2"/><circle cx="2390.9" cy="1291.8" r="5.2"/><circle cx="2402.3" cy="1306.9" r="5.2"/><circle cx="2413.6" cy="1306.9" r="5.2"/><circle cx="2424.9" cy="1306.9" r="5.2"/><circle cx="2436.2" cy="1306.9" r="5.2"/><circle cx="2447.6" cy="1331.1" r="5.2"/><circle cx="2458.9" cy="1346" r="5.2"/><circle cx="2470.2" cy="1346" r="5.2"/><circle cx="2481.6" cy="1346" r="5.2"/><circle cx="2492.9" cy="1346" r="5.2"/><circle cx="2504.2" cy="1253.9" r="5.2"/><circle cx="2515.6" cy="1205.8" r="5.2"/><circle cx="2526.9" cy="1209.5" r="5.2"/><circle cx="2538.2" cy="1207.1" r="5.2"/><circle cx="2549.6" cy="1206.7" r="5.2"/><circle cx="2560.9" cy="1209" r="5.2"/><circle cx="2572.2" cy="1210.3" r="5.2"/><circle cx="2583.5" cy="1204" r="5.2"/><circle cx="2594.9" cy="1208.2" r="5.2"/><circle cx="2606.2" cy="1211.2" r="5.2"/><circle cx="2617.5" cy="1206.1" r="5.2"/><circle cx="2628.9" cy="1205.5" r="5.2"/><circle cx="2640.2" cy="1208.2" r="5.2"/><circle cx="2651.5" cy="1205.3" r="5.2"/><circle cx="2662.8" cy="1203.9" r="5.2"/><circle cx="2674.2" cy="1208.4" r="5.2"/><circle cx="2685.5" cy="1206.4" r="5.2"/><circle cx="2696.8" cy="1203" r="5.2"/><circle cx="2708.2" cy="1205.2" r="5.2"/><circle cx="2719.5" cy="1206.4" r="5.2"/><circle cx="2730.8" cy="1204.2" r="5.2"/><circle cx="2742.2" cy="1204.5" r="5.2"/><circle cx="2753.5" cy="1206.3" r="5.2"/><circle cx="2764.8" cy="1204.3" r="5.2"/><circle cx="2776.2" cy="1200.3" r="5.2"/><circle cx="2787.5" cy="1205.7" r="5.2"/><circle cx="2798.8" cy="1203.2" r="5.2"/><circle cx="2810.1" cy="1199.1" r="5.2"/><circle cx="2821.5" cy="1201.7" r="5.2"/><circle cx="2832.8" cy="1204.2" r="5.2"/><circle cx="2844.1" cy="1198.6" r="5.2"/><circle cx="2855.5" cy="1201.7" r="5.2"/><circle cx="2866.8" cy="1205.9" r="5.2"/><circle cx="2878.1" cy="1202.3" r="5.2"/><circle cx="2889.4" cy="1199.8" r="5.2"/><circle cx="2900.8" cy="1203.9" r="5.2"/><circle cx="2912.1" cy="1203" r="5.2"/><circle cx="2923.4" cy="1200.9" r="5.2"/><circle cx="2934.8" cy="1204.3" r="5.2"/><circle cx="2946.1" cy="1203.6" r="5.2"/><circle cx="2957.4" cy="1199.9" r="5.2"/><circle cx="2968.8" cy="1202.2" r="5.2"/><circle cx="2980.1" cy="1203.5" r="5.2"/><circle cx="2991.4" cy="1200.8" r="5.2"/><circle cx="3002.8" cy="1200.8" r="5.2"/></g><g fill="#fff" opacity="0.75"><circle cx="2164.3" cy="918.7" r="1.8"/><circle cx="2175.7" cy="1045.1" r="1.8"/><circle cx="2187" cy="1087.1" r="1.8"/><circle cx="2198.3" cy="1105.5" r="1.8"/><circle cx="2209.7" cy="1117.3" r="1.8"/><circle cx="2221" cy="1162.6" r="1.8"/><circle cx="2232.3" cy="1172.7" r="1.8"/><circle cx="2243.6" cy="1172.7" r="1.8"/><circle cx="2255" cy="1174.3" r="1.8"/><circle cx="2266.3" cy="1182.7" r="1.8"/><circle cx="2277.6" cy="1212.9" r="1.8"/><circle cx="2289" cy="1224" r="1.8"/><circle cx="2300.3" cy="1224.7" r="1.8"/><circle cx="2311.6" cy="1224.7" r="1.8"/><circle cx="2322.9" cy="1224.7" r="1.8"/><circle cx="2334.3" cy="1249.8" r="1.8"/><circle cx="2345.6" cy="1261.6" r="1.8"/><circle cx="2356.9" cy="1255.5" r="1.8"/><circle cx="2368.3" cy="1259.9" r="1.8"/><circle cx="2379.6" cy="1259.9" r="1.8"/><circle cx="2390.9" cy="1291.8" r="1.8"/><circle cx="2402.3" cy="1306.9" r="1.8"/><circle cx="2413.6" cy="1306.9" r="1.8"/><circle cx="2424.9" cy="1306.9" r="1.8"/><circle cx="2436.2" cy="1306.9" r="1.8"/><circle cx="2447.6" cy="1331.1" r="1.8"/><circle cx="2458.9" cy="1346" r="1.8"/><circle cx="2470.2" cy="1346" r="1.8"/><circle cx="2481.6" cy="1346" r="1.8"/><circle cx="2492.9" cy="1346" r="1.8"/><circle cx="2504.2" cy="1253.9" r="1.8"/><circle cx="2515.6" cy="1205.8" r="1.8"/><circle cx="2526.9" cy="1209.5" r="1.8"/><circle cx="2538.2" cy="1207.1" r="1.8"/><circle cx="2549.6" cy="1206.7" r="1.8"/><circle cx="2560.9" cy="1209" r="1.8"/><circle cx="2572.2" cy="1210.3" r="1.8"/><circle cx="2583.5" cy="1204" r="1.8"/><circle cx="2594.9" cy="1208.2" r="1.8"/><circle cx="2606.2" cy="1211.2" r="1.8"/><circle cx="2617.5" cy="1206.1" r="1.8"/><circle cx="2628.9" cy="1205.5" r="1.8"/><circle cx="2640.2" cy="1208.2" r="1.8"/><circle cx="2651.5" cy="1205.3" r="1.8"/><circle cx="2662.8" cy="1203.9" r="1.8"/><circle cx="2674.2" cy="1208.4" r="1.8"/><circle cx="2685.5" cy="1206.4" r="1.8"/><circle cx="2696.8" cy="1203" r="1.8"/><circle cx="2708.2" cy="1205.2" r="1.8"/><circle cx="2719.5" cy="1206.4" r="1.8"/><circle cx="2730.8" cy="1204.2" r="1.8"/><circle cx="2742.2" cy="1204.5" r="1.8"/><circle cx="2753.5" cy="1206.3" r="1.8"/><circle cx="2764.8" cy="1204.3" r="1.8"/><circle cx="2776.2" cy="1200.3" r="1.8"/><circle cx="2787.5" cy="1205.7" r="1.8"/><circle cx="2798.8" cy="1203.2" r="1.8"/><circle cx="2810.1" cy="1199.1" r="1.8"/><circle cx="2821.5" cy="1201.7" r="1.8"/><circle cx="2832.8" cy="1204.2" r="1.8"/><circle cx="2844.1" cy="1198.6" r="1.8"/><circle cx="2855.5" cy="1201.7" r="1.8"/><circle cx="2866.8" cy="1205.9" r="1.8"/><circle cx="2878.1" cy="1202.3" r="1.8"/><circle cx="2889.4" cy="1199.8" r="1.8"/><circle cx="2900.8" cy="1203.9" r="1.8"/><circle cx="2912.1" cy="1203" r="1.8"/><circle cx="2923.4" cy="1200.9" r="1.8"/><circle cx="2934.8" cy="1204.3" r="1.8"/><circle cx="2946.1" cy="1203.6" r="1.8"/><circle cx="2957.4" cy="1199.9" r="1.8"/><circle cx="2968.8" cy="1202.2" r="1.8"/><circle cx="2980.1" cy="1203.5" r="1.8"/><circle cx="2991.4" cy="1200.8" r="1.8"/><circle cx="3002.8" cy="1200.8" r="1.8"/></g>
<rect x="2153" y="885" width="849" height="635" fill="none" stroke="#111" stroke-width="4.5"/>
<rect x="2141" y="1004" width="26" height="15" fill="#fff"/>
<path d="M2142 1011 l24 -10 M2142 1023 l24 -10" stroke="#111" stroke-width="4.5"/>
<g style="font-family:'Liberation Sans',Arial,sans-serif;font-weight:bold;font-size:48px" fill="#111"><text x="2129" y="1537.5" text-anchor="end">0</text><text x="2129" y="1453.6" text-anchor="end">50</text><text x="2129" y="1369.7" text-anchor="end">100</text><text x="2129" y="1285.8" text-anchor="end">150</text><text x="2129" y="1201.9" text-anchor="end">200</text><text x="2129" y="1118" text-anchor="end">250</text></g>
<g style="font-family:'Liberation Sans',Arial,sans-serif;font-weight:bold;font-size:48px" fill="#111"><text transform="translate(2129,1000.8) scale(1,0.86)" text-anchor="end">600</text><text transform="translate(2129,960.1) scale(1,0.86)" text-anchor="end">700</text><text transform="translate(2129,919.5) scale(1,0.86)" text-anchor="end">800</text></g>
<g style="font-family:'Liberation Sans',Arial,sans-serif;font-weight:bold;font-size:48px" fill="#111"><text x="2153" y="1581" text-anchor="middle">0</text><text x="2266.3" y="1581" text-anchor="middle">10</text><text x="2379.6" y="1581" text-anchor="middle">20</text><text x="2492.9" y="1581" text-anchor="middle">30</text><text x="2606.2" y="1581" text-anchor="middle">40</text><text x="2719.5" y="1581" text-anchor="middle">50</text><text x="2832.8" y="1581" text-anchor="middle">60</text><text x="2946.1" y="1581" text-anchor="middle">70</text></g>
<g style="font-family:'Liberation Sans',Arial,sans-serif;font-weight:bold;font-size:44px" fill="#111"><text x="3034" y="1536">0</text><text x="3034" y="1430.5">20</text><text x="3034" y="1325">40</text><text x="3034" y="1219.5">60</text><text x="3034" y="1114">80</text><text x="3034" y="1008.5">100</text><text x="3034" y="903">120</text></g>
<text x="2573" y="1638" text-anchor="middle" style="font-family:'Liberation Sans',Arial,sans-serif;font-weight:bold;font-size:48px" fill="#111">Cycle</text>
<text transform="translate(2025,1235) rotate(-90)" text-anchor="middle" style="font-family:'Liberation Sans',Arial,sans-serif;font-weight:bold;font-size:48px" fill="#111">Capacity (mAh g<tspan dy="-20" font-size="28">-1</tspan><tspan dy="20">)</tspan></text>
<text transform="translate(3142,1191) rotate(-90)" text-anchor="middle" style="font-family:'Liberation Sans',Arial,sans-serif;font-weight:bold;font-size:48px" fill="#111">Coulombic efficiency (%)</text>
<path d="M2694 1043H2764" stroke="#111" stroke-width="5"/><circle cx="2729" cy="1043" r="7" fill="#111" stroke="#111" stroke-width="2"/><circle cx="2729" cy="1043" r="2.5" fill="#fff" opacity="0.6"/><path d="M2694 1104H2764" stroke="#e4203a" stroke-width="5"/><circle cx="2729" cy="1104" r="7" fill="#e4203a" stroke="#e4203a" stroke-width="2"/><circle cx="2729" cy="1104" r="2.5" fill="#fff" opacity="0.6"/><path d="M2694 1163H2764" stroke="#3a4ab8" stroke-width="5"/><circle cx="2729" cy="1163" r="7" fill="#3a4ab8" stroke="#3a4ab8" stroke-width="2"/><circle cx="2729" cy="1163" r="2.5" fill="#fff" opacity="0.6"/>
<g style="font-family:'Liberation Sans',Arial,sans-serif;font-weight:bold;font-size:40px" fill="#111"><text x="2774" y="1055">VO<tspan dy="15" font-size="22">x</tspan></text><text x="2774" y="1115">V<tspan dy="14" font-size="21">2</tspan><tspan dy="-14">O</tspan><tspan dy="14" font-size="21">3-x</tspan></text><text x="2774" y="1172">V<tspan dy="14" font-size="21">2</tspan><tspan dy="-14">O</tspan><tspan dy="14" font-size="21">3-x</tspan><tspan dy="-14">@rGO</tspan></text></g>
<text x="2509" y="1172" style="font-family:'Liberation Sans',Arial,sans-serif;font-weight:bold;font-size:37px" fill="#111">100<tspan dx="6">mA g</tspan><tspan dy="-18" font-size="20">-1</tspan></text>
<g style="font-family:'Liberation Sans',Arial,sans-serif;font-weight:bold;font-size:40px" fill="#111"><text transform="translate(2207,1180) rotate(-52)" text-anchor="middle" dy="14">25</text><text transform="translate(2254,1131) rotate(-52)" text-anchor="middle" dy="14">50</text><text transform="translate(2312,1178) rotate(-52)" text-anchor="middle" dy="14">100</text><text transform="translate(2369,1219) rotate(-52)" text-anchor="middle" dy="14">200</text><text transform="translate(2419,1254) rotate(-52)" text-anchor="middle" dy="14">500</text><text transform="translate(2477,1260) rotate(-52)" text-anchor="middle" dy="14">1000</text></g>
<path d="M2769 981V942H2800" stroke="#111" stroke-width="6" fill="none"/><polygon points="2793,931 2828,942 2793,953 2800,942" fill="#111"/>
<text x="1932" y="922" style="font-family:'Liberation Serif','Times New Roman',serif;font-size:99px" fill="#111">(e)</text>
</g>
</svg>
</body></html>
